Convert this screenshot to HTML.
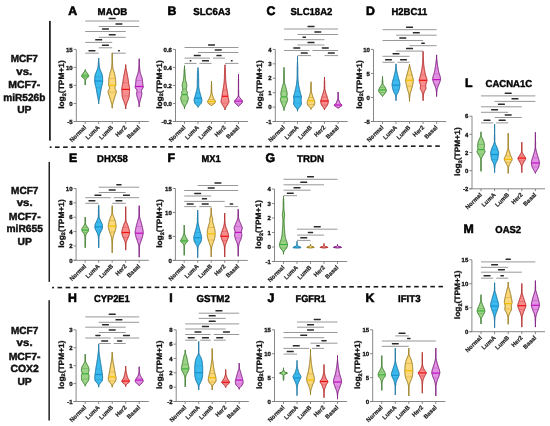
<!DOCTYPE html>
<html><head><meta charset="utf-8"><style>
html,body{margin:0;padding:0;background:#fff;width:550px;height:426px;overflow:hidden}
svg{display:block;will-change:transform}
text{font-family:"Liberation Sans", sans-serif;text-rendering:geometricPrecision}
</style></head><body>
<svg width="550" height="426" viewBox="0 0 550 426" xmlns="http://www.w3.org/2000/svg">
<rect width="550" height="426" fill="#fff"/>
<rect x="49" y="20.9" width="1.8" height="119.7" fill="#222"/><rect x="48.5" y="161.9" width="1.5" height="120" fill="#222"/><rect x="48.4" y="300.2" width="1.5" height="120.3" fill="#222"/><rect x="49.70" y="146.40" width="1.9" height="1.6" fill="#1a1a1a"/><rect x="55.00" y="146.38" width="4.6" height="1.6" fill="#1a1a1a"/><rect x="63.09" y="146.36" width="4.6" height="1.6" fill="#1a1a1a"/><rect x="71.18" y="146.33" width="4.6" height="1.6" fill="#1a1a1a"/><rect x="79.27" y="146.31" width="4.6" height="1.6" fill="#1a1a1a"/><rect x="87.36" y="146.29" width="4.6" height="1.6" fill="#1a1a1a"/><rect x="95.45" y="146.27" width="4.6" height="1.6" fill="#1a1a1a"/><rect x="103.54" y="146.24" width="4.6" height="1.6" fill="#1a1a1a"/><rect x="111.63" y="146.22" width="4.6" height="1.6" fill="#1a1a1a"/><rect x="119.72" y="146.20" width="4.6" height="1.6" fill="#1a1a1a"/><rect x="127.81" y="146.17" width="4.6" height="1.6" fill="#1a1a1a"/><rect x="135.90" y="146.15" width="4.6" height="1.6" fill="#1a1a1a"/><rect x="143.99" y="146.13" width="4.6" height="1.6" fill="#1a1a1a"/><rect x="152.08" y="146.11" width="4.6" height="1.6" fill="#1a1a1a"/><rect x="160.17" y="146.08" width="4.6" height="1.6" fill="#1a1a1a"/><rect x="168.26" y="146.06" width="4.6" height="1.6" fill="#1a1a1a"/><rect x="176.35" y="146.04" width="4.6" height="1.6" fill="#1a1a1a"/><rect x="184.44" y="146.01" width="4.6" height="1.6" fill="#1a1a1a"/><rect x="192.53" y="145.99" width="4.6" height="1.6" fill="#1a1a1a"/><rect x="200.62" y="145.97" width="4.6" height="1.6" fill="#1a1a1a"/><rect x="208.71" y="145.95" width="4.6" height="1.6" fill="#1a1a1a"/><rect x="216.80" y="145.92" width="4.6" height="1.6" fill="#1a1a1a"/><rect x="224.89" y="145.90" width="4.6" height="1.6" fill="#1a1a1a"/><rect x="232.98" y="145.88" width="4.6" height="1.6" fill="#1a1a1a"/><rect x="241.07" y="145.85" width="4.6" height="1.6" fill="#1a1a1a"/><rect x="249.16" y="145.83" width="4.6" height="1.6" fill="#1a1a1a"/><rect x="257.25" y="145.81" width="4.6" height="1.6" fill="#1a1a1a"/><rect x="265.34" y="145.79" width="4.6" height="1.6" fill="#1a1a1a"/><rect x="273.43" y="145.76" width="4.6" height="1.6" fill="#1a1a1a"/><rect x="281.52" y="145.74" width="4.6" height="1.6" fill="#1a1a1a"/><rect x="289.61" y="145.72" width="4.6" height="1.6" fill="#1a1a1a"/><rect x="297.70" y="145.69" width="4.6" height="1.6" fill="#1a1a1a"/><rect x="305.79" y="145.67" width="4.6" height="1.6" fill="#1a1a1a"/><rect x="313.88" y="145.65" width="4.6" height="1.6" fill="#1a1a1a"/><rect x="321.97" y="145.63" width="4.6" height="1.6" fill="#1a1a1a"/><rect x="330.06" y="145.60" width="4.6" height="1.6" fill="#1a1a1a"/><rect x="338.15" y="145.58" width="4.6" height="1.6" fill="#1a1a1a"/><rect x="346.24" y="145.56" width="4.6" height="1.6" fill="#1a1a1a"/><rect x="354.33" y="145.54" width="4.6" height="1.6" fill="#1a1a1a"/><rect x="362.42" y="145.51" width="4.6" height="1.6" fill="#1a1a1a"/><rect x="370.51" y="145.49" width="4.6" height="1.6" fill="#1a1a1a"/><rect x="378.60" y="145.47" width="4.6" height="1.6" fill="#1a1a1a"/><rect x="386.69" y="145.44" width="4.6" height="1.6" fill="#1a1a1a"/><rect x="394.78" y="145.42" width="4.6" height="1.6" fill="#1a1a1a"/><rect x="402.87" y="145.40" width="4.6" height="1.6" fill="#1a1a1a"/><rect x="410.96" y="145.38" width="4.6" height="1.6" fill="#1a1a1a"/><rect x="419.05" y="145.35" width="4.6" height="1.6" fill="#1a1a1a"/><rect x="427.14" y="145.33" width="4.6" height="1.6" fill="#1a1a1a"/><rect x="435.23" y="145.31" width="4.6" height="1.6" fill="#1a1a1a"/><rect x="52.10" y="286.79" width="1.9" height="1.6" fill="#1a1a1a"/><rect x="57.50" y="286.77" width="4.6" height="1.6" fill="#1a1a1a"/><rect x="65.61" y="286.75" width="4.6" height="1.6" fill="#1a1a1a"/><rect x="73.71" y="286.73" width="4.6" height="1.6" fill="#1a1a1a"/><rect x="81.81" y="286.71" width="4.6" height="1.6" fill="#1a1a1a"/><rect x="89.92" y="286.69" width="4.6" height="1.6" fill="#1a1a1a"/><rect x="98.03" y="286.67" width="4.6" height="1.6" fill="#1a1a1a"/><rect x="106.13" y="286.65" width="4.6" height="1.6" fill="#1a1a1a"/><rect x="114.23" y="286.63" width="4.6" height="1.6" fill="#1a1a1a"/><rect x="122.34" y="286.61" width="4.6" height="1.6" fill="#1a1a1a"/><rect x="130.44" y="286.59" width="4.6" height="1.6" fill="#1a1a1a"/><rect x="138.55" y="286.57" width="4.6" height="1.6" fill="#1a1a1a"/><rect x="146.66" y="286.55" width="4.6" height="1.6" fill="#1a1a1a"/><rect x="154.76" y="286.53" width="4.6" height="1.6" fill="#1a1a1a"/><rect x="162.87" y="286.50" width="4.6" height="1.6" fill="#1a1a1a"/><rect x="170.97" y="286.48" width="4.6" height="1.6" fill="#1a1a1a"/><rect x="179.07" y="286.46" width="4.6" height="1.6" fill="#1a1a1a"/><rect x="187.18" y="286.44" width="4.6" height="1.6" fill="#1a1a1a"/><rect x="195.28" y="286.42" width="4.6" height="1.6" fill="#1a1a1a"/><rect x="203.39" y="286.40" width="4.6" height="1.6" fill="#1a1a1a"/><rect x="211.50" y="286.38" width="4.6" height="1.6" fill="#1a1a1a"/><rect x="219.60" y="286.36" width="4.6" height="1.6" fill="#1a1a1a"/><rect x="227.71" y="286.34" width="4.6" height="1.6" fill="#1a1a1a"/><rect x="235.81" y="286.32" width="4.6" height="1.6" fill="#1a1a1a"/><rect x="243.92" y="286.30" width="4.6" height="1.6" fill="#1a1a1a"/><rect x="252.02" y="286.28" width="4.6" height="1.6" fill="#1a1a1a"/><rect x="260.12" y="286.26" width="4.6" height="1.6" fill="#1a1a1a"/><rect x="268.23" y="286.23" width="4.6" height="1.6" fill="#1a1a1a"/><rect x="276.34" y="286.21" width="4.6" height="1.6" fill="#1a1a1a"/><rect x="284.44" y="286.19" width="4.6" height="1.6" fill="#1a1a1a"/><rect x="292.55" y="286.17" width="4.6" height="1.6" fill="#1a1a1a"/><rect x="300.65" y="286.15" width="4.6" height="1.6" fill="#1a1a1a"/><rect x="308.75" y="286.13" width="4.6" height="1.6" fill="#1a1a1a"/><rect x="316.86" y="286.11" width="4.6" height="1.6" fill="#1a1a1a"/><rect x="324.97" y="286.09" width="4.6" height="1.6" fill="#1a1a1a"/><rect x="333.07" y="286.07" width="4.6" height="1.6" fill="#1a1a1a"/><rect x="341.18" y="286.05" width="4.6" height="1.6" fill="#1a1a1a"/><rect x="349.28" y="286.03" width="4.6" height="1.6" fill="#1a1a1a"/><rect x="357.38" y="286.01" width="4.6" height="1.6" fill="#1a1a1a"/><rect x="365.49" y="285.99" width="4.6" height="1.6" fill="#1a1a1a"/><rect x="373.60" y="285.96" width="4.6" height="1.6" fill="#1a1a1a"/><rect x="381.70" y="285.94" width="4.6" height="1.6" fill="#1a1a1a"/><rect x="389.81" y="285.92" width="4.6" height="1.6" fill="#1a1a1a"/><rect x="397.91" y="285.90" width="4.6" height="1.6" fill="#1a1a1a"/><rect x="406.02" y="285.88" width="4.6" height="1.6" fill="#1a1a1a"/><rect x="414.12" y="285.86" width="4.6" height="1.6" fill="#1a1a1a"/><rect x="422.23" y="285.84" width="4.6" height="1.6" fill="#1a1a1a"/><rect x="430.33" y="285.82" width="4.6" height="1.6" fill="#1a1a1a"/><rect x="438.44" y="285.80" width="4.6" height="1.6" fill="#1a1a1a"/><text x="24.3" y="62.3" font-size="10.3" font-weight="bold" text-anchor="middle" fill="#111" stroke="#111" stroke-width="0.45" textLength="27.2" lengthAdjust="spacingAndGlyphs">MCF7</text><text x="24.3" y="75" font-size="10.3" font-weight="bold" text-anchor="middle" fill="#111" stroke="#111" stroke-width="0.45" textLength="16.0" lengthAdjust="spacingAndGlyphs">vs.</text><text x="24.3" y="87.9" font-size="10.3" font-weight="bold" text-anchor="middle" fill="#111" stroke="#111" stroke-width="0.45" textLength="31.9" lengthAdjust="spacingAndGlyphs">MCF7-</text><text x="24.3" y="100.6" font-size="10.3" font-weight="bold" text-anchor="middle" fill="#111" stroke="#111" stroke-width="0.45" textLength="42.1" lengthAdjust="spacingAndGlyphs">miR526b</text><text x="24.3" y="113" font-size="10.3" font-weight="bold" text-anchor="middle" fill="#111" stroke="#111" stroke-width="0.45" textLength="14.3" lengthAdjust="spacingAndGlyphs">UP</text><text x="24.7" y="193.7" font-size="10.3" font-weight="bold" text-anchor="middle" fill="#111" stroke="#111" stroke-width="0.45" textLength="27.2" lengthAdjust="spacingAndGlyphs">MCF7</text><text x="24.7" y="206.3" font-size="10.3" font-weight="bold" text-anchor="middle" fill="#111" stroke="#111" stroke-width="0.45" textLength="16.0" lengthAdjust="spacingAndGlyphs">vs.</text><text x="24.7" y="219.5" font-size="10.3" font-weight="bold" text-anchor="middle" fill="#111" stroke="#111" stroke-width="0.45" textLength="31.9" lengthAdjust="spacingAndGlyphs">MCF7-</text><text x="24.7" y="232" font-size="10.3" font-weight="bold" text-anchor="middle" fill="#111" stroke="#111" stroke-width="0.45" textLength="36.5" lengthAdjust="spacingAndGlyphs">miR655</text><text x="24.7" y="244.5" font-size="10.3" font-weight="bold" text-anchor="middle" fill="#111" stroke="#111" stroke-width="0.45" textLength="14.3" lengthAdjust="spacingAndGlyphs">UP</text><text x="24.6" y="333.7" font-size="10.3" font-weight="bold" text-anchor="middle" fill="#111" stroke="#111" stroke-width="0.45" textLength="27.2" lengthAdjust="spacingAndGlyphs">MCF7</text><text x="24.6" y="346.3" font-size="10.3" font-weight="bold" text-anchor="middle" fill="#111" stroke="#111" stroke-width="0.45" textLength="16.0" lengthAdjust="spacingAndGlyphs">vs.</text><text x="24.6" y="359.5" font-size="10.3" font-weight="bold" text-anchor="middle" fill="#111" stroke="#111" stroke-width="0.45" textLength="31.9" lengthAdjust="spacingAndGlyphs">MCF7-</text><text x="24.6" y="372.1" font-size="10.3" font-weight="bold" text-anchor="middle" fill="#111" stroke="#111" stroke-width="0.45" textLength="28.3" lengthAdjust="spacingAndGlyphs">COX2</text><text x="24.6" y="384.5" font-size="10.3" font-weight="bold" text-anchor="middle" fill="#111" stroke="#111" stroke-width="0.45" textLength="14.3" lengthAdjust="spacingAndGlyphs">UP</text>
<text x="68.2" y="14.5" font-size="12.3" font-weight="bold" stroke="#000" stroke-width="0.6">A</text><text x="112.40" y="14.7" font-size="10" font-weight="bold" text-anchor="middle" stroke="#000" stroke-width="0.4" textLength="29.60" lengthAdjust="spacingAndGlyphs">MAOB</text><line x1="76.3" y1="49.4" x2="76.3" y2="121.5" stroke="#7a7a7a" stroke-width="0.9"/><line x1="73.7" y1="121.5" x2="148.8" y2="121.5" stroke="#7a7a7a" stroke-width="0.9"/><line x1="73.7" y1="49.40" x2="76.3" y2="49.40" stroke="#7a7a7a" stroke-width="0.9"/><text x="72.70" y="51.60" font-size="6.0" font-weight="bold" text-anchor="end" fill="#111" stroke="#111" stroke-width="0.3">15</text><line x1="73.7" y1="67.42" x2="76.3" y2="67.42" stroke="#7a7a7a" stroke-width="0.9"/><text x="72.70" y="69.62" font-size="6.0" font-weight="bold" text-anchor="end" fill="#111" stroke="#111" stroke-width="0.3">10</text><line x1="73.7" y1="85.45" x2="76.3" y2="85.45" stroke="#7a7a7a" stroke-width="0.9"/><text x="72.70" y="87.65" font-size="6.0" font-weight="bold" text-anchor="end" fill="#111" stroke="#111" stroke-width="0.3">5</text><line x1="73.7" y1="103.47" x2="76.3" y2="103.47" stroke="#7a7a7a" stroke-width="0.9"/><text x="72.70" y="105.67" font-size="6.0" font-weight="bold" text-anchor="end" fill="#111" stroke="#111" stroke-width="0.3">0</text><line x1="73.7" y1="121.50" x2="76.3" y2="121.50" stroke="#7a7a7a" stroke-width="0.9"/><text x="72.70" y="123.70" font-size="6.0" font-weight="bold" text-anchor="end" fill="#111" stroke="#111" stroke-width="0.3">-5</text><line x1="85.2" y1="121.5" x2="85.2" y2="123.9" stroke="#7a7a7a" stroke-width="0.9"/><line x1="98.7" y1="121.5" x2="98.7" y2="123.9" stroke="#7a7a7a" stroke-width="0.9"/><line x1="112.2" y1="121.5" x2="112.2" y2="123.9" stroke="#7a7a7a" stroke-width="0.9"/><line x1="125.7" y1="121.5" x2="125.7" y2="123.9" stroke="#7a7a7a" stroke-width="0.9"/><line x1="139.2" y1="121.5" x2="139.2" y2="123.9" stroke="#7a7a7a" stroke-width="0.9"/><text transform="translate(86.60,127.90) rotate(-45)" font-size="6.0" font-weight="bold" text-anchor="end" fill="#222" stroke="#222" stroke-width="0.2">Normal</text><text transform="translate(100.10,127.90) rotate(-45)" font-size="6.0" font-weight="bold" text-anchor="end" fill="#222" stroke="#222" stroke-width="0.2">LumA</text><text transform="translate(113.60,127.90) rotate(-45)" font-size="6.0" font-weight="bold" text-anchor="end" fill="#222" stroke="#222" stroke-width="0.2">LumB</text><text transform="translate(127.10,127.90) rotate(-45)" font-size="6.0" font-weight="bold" text-anchor="end" fill="#222" stroke="#222" stroke-width="0.2">Her2</text><text transform="translate(140.60,127.90) rotate(-45)" font-size="6.0" font-weight="bold" text-anchor="end" fill="#222" stroke="#222" stroke-width="0.2">Basal</text><text transform="translate(64.40,84.55) rotate(-90)" font-size="7.8" font-weight="bold" text-anchor="middle" fill="#111" stroke="#111" stroke-width="0.3" textLength="48.6" lengthAdjust="spacingAndGlyphs">log<tspan font-size="5.2" dy="1.6">2</tspan><tspan dy="-1.6">(TPM+1)</tspan></text><line x1="85.2" y1="21" x2="139.2" y2="21" stroke="#8c8c8c" stroke-width="0.9"/><rect x="108.65" y="17.70" width="7.10" height="1.5" fill="#2a2a2a" rx="0.4"/><line x1="98.7" y1="26.5" x2="139.2" y2="26.5" stroke="#8c8c8c" stroke-width="0.9"/><rect x="115.40" y="23.20" width="7.10" height="1.5" fill="#2a2a2a" rx="0.4"/><line x1="85.2" y1="31.5" x2="125.7" y2="31.5" stroke="#8c8c8c" stroke-width="0.9"/><rect x="101.90" y="28.20" width="7.10" height="1.5" fill="#2a2a2a" rx="0.4"/><line x1="98.7" y1="37.3" x2="125.7" y2="37.3" stroke="#8c8c8c" stroke-width="0.9"/><rect x="108.65" y="34.00" width="7.10" height="1.5" fill="#2a2a2a" rx="0.4"/><line x1="85.2" y1="42.4" x2="112.2" y2="42.4" stroke="#8c8c8c" stroke-width="0.9"/><rect x="95.15" y="39.10" width="7.10" height="1.5" fill="#2a2a2a" rx="0.4"/><line x1="98.7" y1="47.8" x2="112.2" y2="47.8" stroke="#8c8c8c" stroke-width="0.9"/><rect x="101.90" y="44.50" width="7.10" height="1.5" fill="#2a2a2a" rx="0.4"/><line x1="85.2" y1="53.2" x2="98.7" y2="53.2" stroke="#8c8c8c" stroke-width="0.9"/><rect x="88.40" y="49.90" width="7.10" height="1.5" fill="#2a2a2a" rx="0.4"/><line x1="112.2" y1="53.2" x2="125.7" y2="53.2" stroke="#8c8c8c" stroke-width="0.9"/><rect x="118.03" y="49.90" width="1.85" height="1.5" fill="#2a2a2a" rx="0.4"/><polygon points="85.2,69.6 85.2,70.1 85.4,70.6 85.7,71.1 86.0,71.6 86.4,72.1 86.8,72.6 87.2,73.1 87.5,73.6 87.9,74.1 88.2,74.6 88.5,75.1 88.7,75.6 88.7,76.1 88.5,76.6 88.1,77.1 87.7,77.6 87.2,78.1 86.6,78.6 85.9,79.1 85.6,79.6 85.5,80.1 85.4,80.6 85.4,81.1 85.4,81.6 85.4,82.1 85.4,82.6 85.4,83.1 85.4,83.6 85.4,84.1 85.4,84.6 85.2,85.0 85.2,85.0 85.0,84.6 85.0,84.1 85.0,83.6 85.0,83.1 85.0,82.6 85.0,82.1 85.0,81.6 85.0,81.1 85.0,80.6 84.9,80.1 84.8,79.6 84.5,79.1 83.8,78.6 83.2,78.1 82.7,77.6 82.3,77.1 81.9,76.6 81.7,76.1 81.7,75.6 81.9,75.1 82.2,74.6 82.5,74.1 82.9,73.6 83.2,73.1 83.6,72.6 84.0,72.1 84.4,71.6 84.7,71.1 85.0,70.6 85.2,70.1 85.2,69.6" fill="#9bd487" stroke="#3a7a2c" stroke-width="1.0" stroke-linejoin="round"/><line x1="82.29" y1="74.50" x2="88.11" y2="74.50" stroke="#5f9f4d" stroke-width="0.5" opacity="0.8"/><line x1="82.65" y1="77.50" x2="87.75" y2="77.50" stroke="#5f9f4d" stroke-width="0.5" opacity="0.8"/><line x1="81.72" y1="76.00" x2="88.68" y2="76.00" stroke="#3db03a" stroke-width="1.2"/><polygon points="98.7,58.0 98.7,58.5 98.7,59.0 98.7,59.5 98.7,60.0 98.7,60.5 98.8,61.0 98.8,61.5 98.9,62.0 99.0,62.5 99.0,63.0 99.1,63.5 99.1,64.0 99.1,64.5 99.2,65.0 99.2,65.5 99.3,66.0 99.4,66.5 99.4,67.0 99.5,67.5 99.6,68.0 99.7,68.5 99.9,69.0 100.1,69.5 100.3,70.0 100.5,70.5 100.7,71.0 100.9,71.5 101.1,72.0 101.3,72.5 101.5,73.0 101.7,73.5 101.9,74.0 102.1,74.5 102.3,75.0 102.4,75.5 102.5,76.0 102.5,76.5 102.6,77.0 102.6,77.5 102.6,78.0 102.6,78.5 102.7,79.0 102.7,79.5 102.7,80.0 102.7,80.5 102.7,81.0 102.7,81.5 102.7,82.0 102.6,82.5 102.5,83.0 102.4,83.5 102.3,84.0 102.2,84.5 102.1,85.0 101.9,85.5 101.8,86.0 101.7,86.5 101.5,87.0 101.4,87.5 101.3,88.0 101.2,88.5 101.1,89.0 101.0,89.5 100.9,90.0 100.9,90.5 100.8,91.0 100.7,91.5 100.6,92.0 100.5,92.5 100.4,93.0 100.3,93.5 100.3,94.0 100.2,94.5 100.1,95.0 100.0,95.5 99.9,96.0 99.8,96.5 99.7,97.0 99.6,97.5 99.5,98.0 99.4,98.5 99.3,99.0 99.2,99.5 99.1,100.0 99.0,100.5 98.9,101.0 98.8,101.5 98.7,102.0 98.7,102.5 98.7,103.0 98.7,103.5 98.7,103.8 98.7,103.8 98.7,103.5 98.7,103.0 98.7,102.5 98.7,102.0 98.6,101.5 98.5,101.0 98.4,100.5 98.3,100.0 98.2,99.5 98.1,99.0 98.0,98.5 97.9,98.0 97.8,97.5 97.7,97.0 97.6,96.5 97.5,96.0 97.4,95.5 97.3,95.0 97.2,94.5 97.1,94.0 97.1,93.5 97.0,93.0 96.9,92.5 96.8,92.0 96.7,91.5 96.6,91.0 96.5,90.5 96.5,90.0 96.4,89.5 96.3,89.0 96.2,88.5 96.1,88.0 96.0,87.5 95.9,87.0 95.7,86.5 95.6,86.0 95.5,85.5 95.3,85.0 95.2,84.5 95.1,84.0 95.0,83.5 94.9,83.0 94.8,82.5 94.7,82.0 94.7,81.5 94.7,81.0 94.7,80.5 94.7,80.0 94.7,79.5 94.7,79.0 94.8,78.5 94.8,78.0 94.8,77.5 94.8,77.0 94.9,76.5 94.9,76.0 95.0,75.5 95.1,75.0 95.3,74.5 95.5,74.0 95.7,73.5 95.9,73.0 96.1,72.5 96.3,72.0 96.5,71.5 96.7,71.0 96.9,70.5 97.1,70.0 97.3,69.5 97.5,69.0 97.7,68.5 97.8,68.0 97.9,67.5 98.0,67.0 98.0,66.5 98.1,66.0 98.2,65.5 98.2,65.0 98.3,64.5 98.3,64.0 98.3,63.5 98.4,63.0 98.4,62.5 98.5,62.0 98.6,61.5 98.6,61.0 98.7,60.5 98.7,60.0 98.7,59.5 98.7,59.0 98.7,58.5 98.7,58.0" fill="#3bbaee" stroke="#15729f" stroke-width="1.0" stroke-linejoin="round"/><line x1="94.85" y1="76.90" x2="102.55" y2="76.90" stroke="#2a8fc5" stroke-width="0.5" opacity="0.8"/><line x1="96.06" y1="87.80" x2="101.34" y2="87.80" stroke="#2a8fc5" stroke-width="0.5" opacity="0.8"/><line x1="94.70" y1="81.00" x2="102.70" y2="81.00" stroke="#1a8fd0" stroke-width="1.2"/><polygon points="112.2,52.9 112.2,53.4 112.2,53.9 112.2,54.4 112.2,54.9 112.2,55.4 112.2,55.9 112.2,56.4 112.2,56.9 112.2,57.4 112.2,57.9 112.2,58.4 112.2,58.9 112.3,59.4 112.3,59.9 112.3,60.4 112.4,60.9 112.4,61.4 112.4,61.9 112.4,62.4 112.5,62.9 112.5,63.4 112.5,63.9 112.6,64.4 112.6,64.9 112.6,65.4 112.7,65.9 112.7,66.4 112.7,66.9 112.8,67.4 112.9,67.9 112.9,68.4 113.1,68.9 113.2,69.4 113.3,69.9 113.5,70.4 113.7,70.9 113.8,71.4 114.0,71.9 114.2,72.4 114.3,72.9 114.5,73.4 114.6,73.9 114.7,74.4 114.8,74.9 114.9,75.4 115.0,75.9 115.1,76.4 115.2,76.9 115.3,77.4 115.4,77.9 115.4,78.4 115.5,78.9 115.6,79.4 115.6,79.9 115.6,80.4 115.7,80.9 115.7,81.4 115.7,81.9 115.7,82.4 115.8,82.9 115.8,83.4 115.8,83.9 115.8,84.4 115.8,84.9 115.7,85.4 115.6,85.9 115.3,86.4 115.0,86.9 114.9,87.4 114.8,87.9 114.9,88.4 115.1,88.9 115.4,89.4 115.7,89.9 116.0,90.4 116.2,90.9 116.3,91.4 116.3,91.9 116.2,92.4 116.1,92.9 116.0,93.4 115.9,93.9 115.7,94.4 115.5,94.9 115.3,95.4 115.2,95.9 115.0,96.4 114.8,96.9 114.7,97.4 114.5,97.9 114.4,98.4 114.2,98.9 114.1,99.4 113.9,99.9 113.8,100.4 113.6,100.9 113.5,101.4 113.3,101.9 113.2,102.4 113.0,102.9 112.9,103.4 112.7,103.9 112.6,104.4 112.4,104.9 112.3,105.4 112.2,105.9 112.2,106.4 112.2,106.9 112.2,107.4 112.2,107.9 112.2,108.2 112.2,108.2 112.2,107.9 112.2,107.4 112.2,106.9 112.2,106.4 112.2,105.9 112.1,105.4 112.0,104.9 111.8,104.4 111.7,103.9 111.5,103.4 111.4,102.9 111.2,102.4 111.1,101.9 110.9,101.4 110.8,100.9 110.6,100.4 110.5,99.9 110.3,99.4 110.2,98.9 110.0,98.4 109.9,97.9 109.7,97.4 109.6,96.9 109.4,96.4 109.2,95.9 109.1,95.4 108.9,94.9 108.7,94.4 108.5,93.9 108.4,93.4 108.3,92.9 108.2,92.4 108.1,91.9 108.1,91.4 108.2,90.9 108.4,90.4 108.7,89.9 109.0,89.4 109.3,88.9 109.5,88.4 109.6,87.9 109.5,87.4 109.4,86.9 109.1,86.4 108.8,85.9 108.7,85.4 108.6,84.9 108.6,84.4 108.6,83.9 108.6,83.4 108.6,82.9 108.7,82.4 108.7,81.9 108.7,81.4 108.7,80.9 108.8,80.4 108.8,79.9 108.8,79.4 108.9,78.9 109.0,78.4 109.0,77.9 109.1,77.4 109.2,76.9 109.3,76.4 109.4,75.9 109.5,75.4 109.6,74.9 109.7,74.4 109.8,73.9 109.9,73.4 110.1,72.9 110.2,72.4 110.4,71.9 110.6,71.4 110.7,70.9 110.9,70.4 111.1,69.9 111.2,69.4 111.3,68.9 111.5,68.4 111.5,67.9 111.6,67.4 111.7,66.9 111.7,66.4 111.7,65.9 111.8,65.4 111.8,64.9 111.8,64.4 111.9,63.9 111.9,63.4 111.9,62.9 112.0,62.4 112.0,61.9 112.0,61.4 112.0,60.9 112.1,60.4 112.1,59.9 112.1,59.4 112.2,58.9 112.2,58.4 112.2,57.9 112.2,57.4 112.2,56.9 112.2,56.4 112.2,55.9 112.2,55.4 112.2,54.9 112.2,54.4 112.2,53.9 112.2,53.4 112.2,52.9" fill="#fbd97b" stroke="#967818" stroke-width="1.0" stroke-linejoin="round"/><line x1="108.96" y1="78.40" x2="115.44" y2="78.40" stroke="#c09030" stroke-width="0.5" opacity="0.8"/><line x1="108.15" y1="92.20" x2="116.25" y2="92.20" stroke="#c09030" stroke-width="0.5" opacity="0.8"/><line x1="108.64" y1="85.30" x2="115.76" y2="85.30" stroke="#f5bd00" stroke-width="1.2"/><polygon points="125.7,64.6 125.7,65.1 125.7,65.6 125.7,66.1 125.7,66.6 125.8,67.1 125.9,67.6 126.0,68.1 126.1,68.6 126.2,69.1 126.3,69.6 126.4,70.1 126.5,70.6 126.6,71.1 126.7,71.6 126.8,72.1 126.9,72.6 127.0,73.1 127.1,73.6 127.2,74.1 127.3,74.6 127.4,75.1 127.5,75.6 127.6,76.1 127.7,76.6 127.7,77.1 127.8,77.6 127.9,78.1 128.0,78.6 128.1,79.1 128.2,79.6 128.2,80.1 128.3,80.6 128.4,81.1 128.5,81.6 128.5,82.1 128.6,82.6 128.7,83.1 128.7,83.6 128.8,84.1 128.9,84.6 129.0,85.1 129.1,85.6 129.2,86.1 129.3,86.6 129.4,87.1 129.5,87.6 129.5,88.1 129.6,88.6 129.6,89.1 129.6,89.6 129.6,90.1 129.6,90.6 129.6,91.1 129.5,91.6 129.5,92.1 129.5,92.6 129.5,93.1 129.4,93.6 129.4,94.1 129.3,94.6 129.3,95.1 129.2,95.6 129.2,96.1 129.1,96.6 129.0,97.1 128.9,97.6 128.8,98.1 128.6,98.6 128.5,99.1 128.3,99.6 128.1,100.1 127.9,100.6 127.6,101.1 127.4,101.6 127.3,102.1 127.1,102.6 126.9,103.1 126.7,103.6 126.6,104.1 126.4,104.6 126.3,105.1 126.1,105.6 126.0,106.1 125.9,106.6 125.8,107.1 125.7,107.6 125.7,108.1 125.7,108.6 125.7,109.0 125.7,109.0 125.7,108.6 125.7,108.1 125.7,107.6 125.6,107.1 125.5,106.6 125.4,106.1 125.3,105.6 125.1,105.1 125.0,104.6 124.8,104.1 124.7,103.6 124.5,103.1 124.3,102.6 124.1,102.1 124.0,101.6 123.8,101.1 123.5,100.6 123.3,100.1 123.1,99.6 122.9,99.1 122.8,98.6 122.6,98.1 122.5,97.6 122.4,97.1 122.3,96.6 122.2,96.1 122.2,95.6 122.1,95.1 122.1,94.6 122.0,94.1 122.0,93.6 121.9,93.1 121.9,92.6 121.9,92.1 121.9,91.6 121.8,91.1 121.8,90.6 121.8,90.1 121.8,89.6 121.8,89.1 121.8,88.6 121.9,88.1 121.9,87.6 122.0,87.1 122.1,86.6 122.2,86.1 122.3,85.6 122.4,85.1 122.5,84.6 122.6,84.1 122.7,83.6 122.7,83.1 122.8,82.6 122.9,82.1 122.9,81.6 123.0,81.1 123.1,80.6 123.2,80.1 123.2,79.6 123.3,79.1 123.4,78.6 123.5,78.1 123.6,77.6 123.7,77.1 123.7,76.6 123.8,76.1 123.9,75.6 124.0,75.1 124.1,74.6 124.2,74.1 124.3,73.6 124.4,73.1 124.5,72.6 124.6,72.1 124.7,71.6 124.8,71.1 124.9,70.6 125.0,70.1 125.1,69.6 125.2,69.1 125.3,68.6 125.4,68.1 125.5,67.6 125.6,67.1 125.7,66.6 125.7,66.1 125.7,65.6 125.7,65.1 125.7,64.6" fill="#f78d8d" stroke="#b02626" stroke-width="1.0" stroke-linejoin="round"/><line x1="122.77" y1="82.80" x2="128.63" y2="82.80" stroke="#d04c4c" stroke-width="0.5" opacity="0.8"/><line x1="122.22" y1="96.00" x2="129.18" y2="96.00" stroke="#d04c4c" stroke-width="0.5" opacity="0.8"/><line x1="121.80" y1="89.40" x2="129.60" y2="89.40" stroke="#f01010" stroke-width="1.2"/><polygon points="139.2,58.7 139.2,59.2 139.2,59.7 139.2,60.2 139.2,60.7 139.2,61.2 139.2,61.7 139.2,62.2 139.2,62.7 139.2,63.2 139.3,63.7 139.3,64.2 139.4,64.7 139.4,65.2 139.5,65.7 139.5,66.2 139.6,66.7 139.6,67.2 139.6,67.7 139.7,68.2 139.7,68.7 139.8,69.2 139.8,69.7 139.9,70.2 139.9,70.7 140.0,71.2 140.1,71.7 140.2,72.2 140.3,72.7 140.4,73.2 140.5,73.7 140.7,74.2 140.9,74.7 141.1,75.2 141.3,75.7 141.4,76.2 141.6,76.7 141.8,77.2 142.0,77.7 142.1,78.2 142.2,78.7 142.3,79.2 142.4,79.7 142.4,80.2 142.5,80.7 142.5,81.2 142.6,81.7 142.6,82.2 142.7,82.7 142.7,83.2 142.8,83.7 142.8,84.2 142.9,84.7 143.0,85.2 143.1,85.7 143.1,86.2 143.2,86.7 143.2,87.2 143.1,87.7 142.9,88.2 142.5,88.7 142.2,89.2 141.8,89.7 141.5,90.2 141.4,90.7 141.4,91.2 141.5,91.7 141.6,92.2 141.7,92.7 141.8,93.2 141.8,93.7 141.8,94.2 141.7,94.7 141.6,95.2 141.5,95.7 141.4,96.2 141.3,96.7 141.1,97.2 141.0,97.7 140.8,98.2 140.7,98.7 140.5,99.2 140.4,99.7 140.3,100.2 140.1,100.7 140.0,101.2 139.9,101.7 139.8,102.2 139.7,102.7 139.6,103.2 139.5,103.7 139.4,104.2 139.3,104.7 139.2,105.2 139.2,105.7 139.2,106.2 139.2,106.7 139.2,106.9 139.2,106.9 139.2,106.7 139.2,106.2 139.2,105.7 139.2,105.2 139.1,104.7 139.0,104.2 138.9,103.7 138.8,103.2 138.7,102.7 138.6,102.2 138.5,101.7 138.4,101.2 138.3,100.7 138.1,100.2 138.0,99.7 137.9,99.2 137.7,98.7 137.6,98.2 137.4,97.7 137.3,97.2 137.1,96.7 137.0,96.2 136.9,95.7 136.8,95.2 136.7,94.7 136.6,94.2 136.6,93.7 136.6,93.2 136.7,92.7 136.8,92.2 136.9,91.7 137.0,91.2 137.0,90.7 136.9,90.2 136.6,89.7 136.2,89.2 135.9,88.7 135.5,88.2 135.3,87.7 135.2,87.2 135.2,86.7 135.3,86.2 135.3,85.7 135.4,85.2 135.5,84.7 135.6,84.2 135.6,83.7 135.7,83.2 135.7,82.7 135.8,82.2 135.8,81.7 135.9,81.2 135.9,80.7 136.0,80.2 136.0,79.7 136.1,79.2 136.2,78.7 136.3,78.2 136.4,77.7 136.6,77.2 136.8,76.7 137.0,76.2 137.1,75.7 137.3,75.2 137.5,74.7 137.7,74.2 137.9,73.7 138.0,73.2 138.1,72.7 138.2,72.2 138.3,71.7 138.4,71.2 138.5,70.7 138.5,70.2 138.6,69.7 138.6,69.2 138.7,68.7 138.7,68.2 138.8,67.7 138.8,67.2 138.8,66.7 138.9,66.2 138.9,65.7 139.0,65.2 139.0,64.7 139.1,64.2 139.1,63.7 139.2,63.2 139.2,62.7 139.2,62.2 139.2,61.7 139.2,61.2 139.2,60.7 139.2,60.2 139.2,59.7 139.2,59.2 139.2,58.7" fill="#e190e3" stroke="#7a177b" stroke-width="1.0" stroke-linejoin="round"/><line x1="135.94" y1="80.50" x2="142.46" y2="80.50" stroke="#b050b2" stroke-width="0.5" opacity="0.8"/><line x1="136.75" y1="92.50" x2="141.65" y2="92.50" stroke="#b050b2" stroke-width="0.5" opacity="0.8"/><line x1="135.24" y1="86.50" x2="143.16" y2="86.50" stroke="#c010c0" stroke-width="1.2"/><text x="167.4" y="14.5" font-size="12.3" font-weight="bold" stroke="#000" stroke-width="0.6">B</text><text x="211.80" y="14.6" font-size="10" font-weight="bold" text-anchor="middle" stroke="#000" stroke-width="0.4" textLength="37.00" lengthAdjust="spacingAndGlyphs">SLC6A3</text><line x1="175.5" y1="49.4" x2="175.5" y2="121.5" stroke="#7a7a7a" stroke-width="0.9"/><line x1="172.9" y1="121.5" x2="248.1" y2="121.5" stroke="#7a7a7a" stroke-width="0.9"/><line x1="172.9" y1="49.40" x2="175.5" y2="49.40" stroke="#7a7a7a" stroke-width="0.9"/><text x="171.90" y="51.60" font-size="6.0" font-weight="bold" text-anchor="end" fill="#111" stroke="#111" stroke-width="0.3">0.6</text><line x1="172.9" y1="67.42" x2="175.5" y2="67.42" stroke="#7a7a7a" stroke-width="0.9"/><text x="171.90" y="69.62" font-size="6.0" font-weight="bold" text-anchor="end" fill="#111" stroke="#111" stroke-width="0.3">0.4</text><line x1="172.9" y1="85.45" x2="175.5" y2="85.45" stroke="#7a7a7a" stroke-width="0.9"/><text x="171.90" y="87.65" font-size="6.0" font-weight="bold" text-anchor="end" fill="#111" stroke="#111" stroke-width="0.3">0.2</text><line x1="172.9" y1="103.47" x2="175.5" y2="103.47" stroke="#7a7a7a" stroke-width="0.9"/><text x="171.90" y="105.67" font-size="6.0" font-weight="bold" text-anchor="end" fill="#111" stroke="#111" stroke-width="0.3">0.0</text><line x1="172.9" y1="121.50" x2="175.5" y2="121.50" stroke="#7a7a7a" stroke-width="0.9"/><text x="171.90" y="123.70" font-size="6.0" font-weight="bold" text-anchor="end" fill="#111" stroke="#111" stroke-width="0.3">-0.2</text><line x1="184.5" y1="121.5" x2="184.5" y2="123.9" stroke="#7a7a7a" stroke-width="0.9"/><line x1="198" y1="121.5" x2="198" y2="123.9" stroke="#7a7a7a" stroke-width="0.9"/><line x1="211.5" y1="121.5" x2="211.5" y2="123.9" stroke="#7a7a7a" stroke-width="0.9"/><line x1="225" y1="121.5" x2="225" y2="123.9" stroke="#7a7a7a" stroke-width="0.9"/><line x1="238.5" y1="121.5" x2="238.5" y2="123.9" stroke="#7a7a7a" stroke-width="0.9"/><text transform="translate(185.90,127.90) rotate(-45)" font-size="6.0" font-weight="bold" text-anchor="end" fill="#222" stroke="#222" stroke-width="0.2">Normal</text><text transform="translate(199.40,127.90) rotate(-45)" font-size="6.0" font-weight="bold" text-anchor="end" fill="#222" stroke="#222" stroke-width="0.2">LumA</text><text transform="translate(212.90,127.90) rotate(-45)" font-size="6.0" font-weight="bold" text-anchor="end" fill="#222" stroke="#222" stroke-width="0.2">LumB</text><text transform="translate(226.40,127.90) rotate(-45)" font-size="6.0" font-weight="bold" text-anchor="end" fill="#222" stroke="#222" stroke-width="0.2">Her2</text><text transform="translate(239.90,127.90) rotate(-45)" font-size="6.0" font-weight="bold" text-anchor="end" fill="#222" stroke="#222" stroke-width="0.2">Basal</text><text transform="translate(161.50,84.55) rotate(-90)" font-size="7.8" font-weight="bold" text-anchor="middle" fill="#111" stroke="#111" stroke-width="0.3" textLength="48.6" lengthAdjust="spacingAndGlyphs">log<tspan font-size="5.2" dy="1.6">2</tspan><tspan dy="-1.6">(TPM+1)</tspan></text><line x1="184.5" y1="47.5" x2="238.5" y2="47.5" stroke="#8c8c8c" stroke-width="0.9"/><rect x="207.95" y="44.20" width="7.10" height="1.5" fill="#2a2a2a" rx="0.4"/><line x1="198" y1="52.5" x2="238.5" y2="52.5" stroke="#8c8c8c" stroke-width="0.9"/><rect x="214.70" y="49.20" width="7.10" height="1.5" fill="#2a2a2a" rx="0.4"/><line x1="184.5" y1="58.1" x2="210.0" y2="58.1" stroke="#8c8c8c" stroke-width="0.9"/><rect x="193.70" y="54.80" width="7.10" height="1.5" fill="#2a2a2a" rx="0.4"/><line x1="213.0" y1="58.1" x2="225" y2="58.1" stroke="#8c8c8c" stroke-width="0.9"/><rect x="216.32" y="54.80" width="5.35" height="1.5" fill="#2a2a2a" rx="0.4"/><line x1="184.5" y1="63.4" x2="196.5" y2="63.4" stroke="#8c8c8c" stroke-width="0.9"/><rect x="189.57" y="60.10" width="1.85" height="1.5" fill="#2a2a2a" rx="0.4"/><line x1="199.5" y1="63.4" x2="211.5" y2="63.4" stroke="#8c8c8c" stroke-width="0.9"/><rect x="201.95" y="60.10" width="7.10" height="1.5" fill="#2a2a2a" rx="0.4"/><line x1="225" y1="63.4" x2="238.5" y2="63.4" stroke="#8c8c8c" stroke-width="0.9"/><rect x="230.82" y="60.10" width="1.85" height="1.5" fill="#2a2a2a" rx="0.4"/><polygon points="184.5,65.7 184.5,66.2 184.5,66.7 184.5,67.2 184.5,67.7 184.6,68.2 184.6,68.7 184.7,69.2 184.8,69.7 184.8,70.2 184.9,70.7 184.9,71.2 184.9,71.7 184.9,72.2 185.0,72.7 185.0,73.2 185.0,73.7 185.0,74.2 185.1,74.7 185.1,75.2 185.2,75.7 185.2,76.2 185.2,76.7 185.3,77.2 185.3,77.7 185.4,78.2 185.4,78.7 185.5,79.2 185.6,79.7 185.6,80.2 185.7,80.7 185.9,81.2 186.0,81.7 186.1,82.2 186.3,82.7 186.4,83.2 186.6,83.7 186.7,84.2 186.8,84.7 186.8,85.2 186.8,85.7 186.7,86.2 186.7,86.7 186.6,87.2 186.5,87.7 186.4,88.2 186.3,88.7 186.2,89.2 186.2,89.7 186.3,90.2 186.6,90.7 186.9,91.2 187.1,91.7 187.3,92.2 187.4,92.7 187.3,93.2 187.2,93.7 187.1,94.2 187.1,94.7 187.3,95.2 187.5,95.7 187.7,96.2 187.9,96.7 188.1,97.2 188.3,97.7 188.3,98.2 188.3,98.7 188.2,99.2 188.1,99.7 188.0,100.2 187.8,100.7 187.7,101.2 187.5,101.7 187.3,102.2 187.1,102.7 186.9,103.2 186.6,103.7 186.3,104.2 186.0,104.7 185.6,105.2 185.3,105.7 185.1,106.2 184.9,106.7 184.7,107.2 184.5,107.7 184.5,108.2 184.5,108.7 184.5,108.8 184.5,108.8 184.5,108.7 184.5,108.2 184.5,107.7 184.3,107.2 184.1,106.7 183.9,106.2 183.7,105.7 183.4,105.2 183.0,104.7 182.7,104.2 182.4,103.7 182.1,103.2 181.9,102.7 181.7,102.2 181.5,101.7 181.3,101.2 181.2,100.7 181.0,100.2 180.9,99.7 180.8,99.2 180.7,98.7 180.7,98.2 180.7,97.7 180.9,97.2 181.1,96.7 181.3,96.2 181.5,95.7 181.7,95.2 181.9,94.7 181.9,94.2 181.8,93.7 181.7,93.2 181.6,92.7 181.7,92.2 181.9,91.7 182.1,91.2 182.4,90.7 182.7,90.2 182.8,89.7 182.8,89.2 182.7,88.7 182.6,88.2 182.5,87.7 182.4,87.2 182.3,86.7 182.3,86.2 182.2,85.7 182.2,85.2 182.2,84.7 182.3,84.2 182.4,83.7 182.6,83.2 182.7,82.7 182.9,82.2 183.0,81.7 183.1,81.2 183.3,80.7 183.4,80.2 183.4,79.7 183.5,79.2 183.6,78.7 183.6,78.2 183.7,77.7 183.7,77.2 183.8,76.7 183.8,76.2 183.8,75.7 183.9,75.2 183.9,74.7 184.0,74.2 184.0,73.7 184.0,73.2 184.0,72.7 184.1,72.2 184.1,71.7 184.1,71.2 184.1,70.7 184.2,70.2 184.2,69.7 184.3,69.2 184.4,68.7 184.4,68.2 184.5,67.7 184.5,67.2 184.5,66.7 184.5,66.2 184.5,65.7" fill="#9bd487" stroke="#3a7a2c" stroke-width="1.0" stroke-linejoin="round"/><line x1="182.76" y1="89.00" x2="186.24" y2="89.00" stroke="#5f9f4d" stroke-width="0.5" opacity="0.8"/><line x1="181.27" y1="101.00" x2="187.73" y2="101.00" stroke="#5f9f4d" stroke-width="0.5" opacity="0.8"/><line x1="181.88" y1="94.60" x2="187.12" y2="94.60" stroke="#3db03a" stroke-width="1.2"/><polygon points="198.0,67.6 198.0,68.1 198.0,68.6 198.0,69.1 198.1,69.6 198.2,70.1 198.3,70.6 198.4,71.1 198.5,71.6 198.5,72.1 198.5,72.6 198.5,73.1 198.6,73.6 198.6,74.1 198.6,74.6 198.6,75.1 198.6,75.6 198.6,76.1 198.6,76.6 198.6,77.1 198.6,77.6 198.6,78.1 198.6,78.6 198.6,79.1 198.7,79.6 198.7,80.1 198.7,80.6 198.7,81.1 198.7,81.6 198.7,82.1 198.7,82.6 198.7,83.1 198.7,83.6 198.7,84.1 198.7,84.6 198.7,85.1 198.7,85.6 198.8,86.1 198.8,86.6 198.8,87.1 198.8,87.6 198.9,88.1 199.0,88.6 199.0,89.1 199.2,89.6 199.3,90.1 199.4,90.6 199.5,91.1 199.7,91.6 199.8,92.1 199.9,92.6 200.1,93.1 200.2,93.6 200.3,94.1 200.5,94.6 200.6,95.1 200.8,95.6 200.9,96.1 201.0,96.6 201.2,97.1 201.3,97.6 201.5,98.1 201.6,98.6 201.7,99.1 201.8,99.6 201.9,100.1 201.9,100.6 201.8,101.1 201.7,101.6 201.6,102.1 201.4,102.6 201.2,103.1 201.0,103.6 200.6,104.1 200.1,104.6 199.5,105.1 199.0,105.6 198.6,106.1 198.2,106.6 198.0,107.1 198.0,107.4 198.0,107.4 198.0,107.1 197.8,106.6 197.4,106.1 197.0,105.6 196.5,105.1 195.9,104.6 195.4,104.1 195.0,103.6 194.8,103.1 194.6,102.6 194.4,102.1 194.3,101.6 194.2,101.1 194.1,100.6 194.1,100.1 194.2,99.6 194.3,99.1 194.4,98.6 194.5,98.1 194.7,97.6 194.8,97.1 195.0,96.6 195.1,96.1 195.2,95.6 195.4,95.1 195.5,94.6 195.7,94.1 195.8,93.6 195.9,93.1 196.1,92.6 196.2,92.1 196.3,91.6 196.5,91.1 196.6,90.6 196.7,90.1 196.8,89.6 197.0,89.1 197.0,88.6 197.1,88.1 197.2,87.6 197.2,87.1 197.2,86.6 197.2,86.1 197.3,85.6 197.3,85.1 197.3,84.6 197.3,84.1 197.3,83.6 197.3,83.1 197.3,82.6 197.3,82.1 197.3,81.6 197.3,81.1 197.3,80.6 197.3,80.1 197.3,79.6 197.4,79.1 197.4,78.6 197.4,78.1 197.4,77.6 197.4,77.1 197.4,76.6 197.4,76.1 197.4,75.6 197.4,75.1 197.4,74.6 197.4,74.1 197.4,73.6 197.5,73.1 197.5,72.6 197.5,72.1 197.5,71.6 197.6,71.1 197.7,70.6 197.8,70.1 197.9,69.6 198.0,69.1 198.0,68.6 198.0,68.1 198.0,67.6" fill="#3bbaee" stroke="#15729f" stroke-width="1.0" stroke-linejoin="round"/><line x1="195.95" y1="93.00" x2="200.05" y2="93.00" stroke="#2a8fc5" stroke-width="0.5" opacity="0.8"/><line x1="194.54" y1="102.50" x2="201.46" y2="102.50" stroke="#2a8fc5" stroke-width="0.5" opacity="0.8"/><line x1="194.50" y1="98.20" x2="201.50" y2="98.20" stroke="#1a8fd0" stroke-width="1.2"/><polygon points="211.5,81.2 211.5,81.7 211.5,82.2 211.5,82.7 211.5,83.2 211.5,83.7 211.5,84.2 211.6,84.7 211.7,85.2 211.7,85.7 211.7,86.2 211.7,86.7 211.7,87.2 211.7,87.7 211.7,88.2 211.7,88.7 211.7,89.2 211.8,89.7 211.8,90.2 211.8,90.7 211.8,91.2 211.8,91.7 211.8,92.2 211.9,92.7 211.9,93.2 212.1,93.7 212.2,94.2 212.3,94.7 212.5,95.2 212.6,95.7 212.8,96.2 213.0,96.7 213.2,97.2 213.4,97.7 213.6,98.2 213.9,98.7 214.1,99.2 214.4,99.7 214.8,100.2 215.1,100.7 215.3,101.2 215.4,101.7 215.3,102.2 215.1,102.7 214.7,103.2 214.3,103.7 213.4,104.2 212.6,104.7 211.9,105.2 211.5,105.7 211.5,105.8 211.5,105.8 211.5,105.7 211.1,105.2 210.4,104.7 209.6,104.2 208.7,103.7 208.3,103.2 207.9,102.7 207.7,102.2 207.6,101.7 207.7,101.2 207.9,100.7 208.2,100.2 208.6,99.7 208.9,99.2 209.1,98.7 209.4,98.2 209.6,97.7 209.8,97.2 210.0,96.7 210.2,96.2 210.4,95.7 210.5,95.2 210.7,94.7 210.8,94.2 210.9,93.7 211.1,93.2 211.1,92.7 211.2,92.2 211.2,91.7 211.2,91.2 211.2,90.7 211.2,90.2 211.2,89.7 211.3,89.2 211.3,88.7 211.3,88.2 211.3,87.7 211.3,87.2 211.3,86.7 211.3,86.2 211.3,85.7 211.3,85.2 211.4,84.7 211.5,84.2 211.5,83.7 211.5,83.2 211.5,82.7 211.5,82.2 211.5,81.7 211.5,81.2" fill="#fbd97b" stroke="#967818" stroke-width="1.0" stroke-linejoin="round"/><line x1="208.72" y1="99.50" x2="214.28" y2="99.50" stroke="#c09030" stroke-width="0.5" opacity="0.8"/><line x1="208.35" y1="103.30" x2="214.65" y2="103.30" stroke="#c09030" stroke-width="0.5" opacity="0.8"/><line x1="207.63" y1="101.50" x2="215.37" y2="101.50" stroke="#f5bd00" stroke-width="1.2"/><polygon points="225.0,64.8 225.0,65.3 225.0,65.8 225.0,66.3 225.0,66.8 225.0,67.3 225.1,67.8 225.2,68.3 225.3,68.8 225.3,69.3 225.4,69.8 225.4,70.3 225.4,70.8 225.5,71.3 225.5,71.8 225.5,72.3 225.5,72.8 225.5,73.3 225.5,73.8 225.5,74.3 225.6,74.8 225.6,75.3 225.6,75.8 225.6,76.3 225.6,76.8 225.6,77.3 225.6,77.8 225.6,78.3 225.6,78.8 225.7,79.3 225.7,79.8 225.7,80.3 225.8,80.8 225.8,81.3 225.8,81.8 225.9,82.3 226.0,82.8 226.0,83.3 226.1,83.8 226.2,84.3 226.2,84.8 226.3,85.3 226.4,85.8 226.5,86.3 226.5,86.8 226.6,87.3 226.7,87.8 226.8,88.3 226.9,88.8 226.9,89.3 227.0,89.8 227.1,90.3 227.2,90.8 227.3,91.3 227.4,91.8 227.5,92.3 227.5,92.8 227.6,93.3 227.7,93.8 227.8,94.3 227.8,94.8 227.9,95.3 228.0,95.8 228.0,96.3 228.1,96.8 228.2,97.3 228.3,97.8 228.4,98.3 228.5,98.8 228.6,99.3 228.7,99.8 228.8,100.3 228.9,100.8 228.9,101.3 228.9,101.8 228.8,102.3 228.6,102.8 228.3,103.3 228.0,103.8 227.8,104.3 227.5,104.8 227.2,105.3 226.9,105.8 226.5,106.3 226.2,106.8 225.9,107.3 225.7,107.8 225.4,108.3 225.2,108.8 225.0,109.3 225.0,109.8 225.0,110.0 225.0,110.0 225.0,109.8 225.0,109.3 224.8,108.8 224.6,108.3 224.3,107.8 224.1,107.3 223.8,106.8 223.5,106.3 223.1,105.8 222.8,105.3 222.5,104.8 222.2,104.3 222.0,103.8 221.7,103.3 221.4,102.8 221.2,102.3 221.1,101.8 221.1,101.3 221.1,100.8 221.2,100.3 221.3,99.8 221.4,99.3 221.5,98.8 221.6,98.3 221.7,97.8 221.8,97.3 221.9,96.8 222.0,96.3 222.0,95.8 222.1,95.3 222.2,94.8 222.2,94.3 222.3,93.8 222.4,93.3 222.5,92.8 222.5,92.3 222.6,91.8 222.7,91.3 222.8,90.8 222.9,90.3 223.0,89.8 223.1,89.3 223.1,88.8 223.2,88.3 223.3,87.8 223.4,87.3 223.5,86.8 223.5,86.3 223.6,85.8 223.7,85.3 223.8,84.8 223.8,84.3 223.9,83.8 224.0,83.3 224.0,82.8 224.1,82.3 224.2,81.8 224.2,81.3 224.2,80.8 224.3,80.3 224.3,79.8 224.3,79.3 224.4,78.8 224.4,78.3 224.4,77.8 224.4,77.3 224.4,76.8 224.4,76.3 224.4,75.8 224.4,75.3 224.4,74.8 224.5,74.3 224.5,73.8 224.5,73.3 224.5,72.8 224.5,72.3 224.5,71.8 224.5,71.3 224.6,70.8 224.6,70.3 224.6,69.8 224.7,69.3 224.7,68.8 224.8,68.3 224.9,67.8 225.0,67.3 225.0,66.8 225.0,66.3 225.0,65.8 225.0,65.3 225.0,64.8" fill="#f78d8d" stroke="#b02626" stroke-width="1.0" stroke-linejoin="round"/><line x1="222.94" y1="90.00" x2="227.06" y2="90.00" stroke="#d04c4c" stroke-width="0.5" opacity="0.8"/><line x1="221.51" y1="103.00" x2="228.49" y2="103.00" stroke="#d04c4c" stroke-width="0.5" opacity="0.8"/><line x1="221.97" y1="96.30" x2="228.03" y2="96.30" stroke="#f01010" stroke-width="1.2"/><polygon points="238.5,74.0 238.5,74.5 238.5,75.0 238.5,75.5 238.5,76.0 238.5,76.5 238.5,77.0 238.5,77.5 238.5,78.0 238.5,78.5 238.6,79.0 238.6,79.5 238.6,80.0 238.6,80.5 238.6,81.0 238.6,81.5 238.6,82.0 238.6,82.5 238.6,83.0 238.6,83.5 238.6,84.0 238.6,84.5 238.6,85.0 238.6,85.5 238.6,86.0 238.6,86.5 238.6,87.0 238.6,87.5 238.6,88.0 238.6,88.5 238.6,89.0 238.6,89.5 238.6,90.0 238.7,90.5 238.7,91.0 238.7,91.5 238.7,92.0 238.7,92.5 238.7,93.0 238.7,93.5 238.7,94.0 238.7,94.5 238.7,95.0 238.7,95.5 238.8,96.0 239.0,96.5 239.3,97.0 239.7,97.5 240.1,98.0 240.5,98.5 241.0,99.0 241.3,99.5 241.7,100.0 242.1,100.5 242.4,101.0 242.5,101.5 242.4,102.0 242.2,102.5 241.9,103.0 241.5,103.5 241.0,104.0 240.3,104.5 239.6,105.0 239.0,105.5 238.5,106.0 238.5,106.4 238.5,106.4 238.5,106.0 238.0,105.5 237.4,105.0 236.7,104.5 236.0,104.0 235.5,103.5 235.1,103.0 234.8,102.5 234.6,102.0 234.5,101.5 234.6,101.0 234.9,100.5 235.3,100.0 235.7,99.5 236.0,99.0 236.5,98.5 236.9,98.0 237.3,97.5 237.7,97.0 238.0,96.5 238.2,96.0 238.3,95.5 238.3,95.0 238.3,94.5 238.3,94.0 238.3,93.5 238.3,93.0 238.3,92.5 238.3,92.0 238.3,91.5 238.3,91.0 238.3,90.5 238.4,90.0 238.4,89.5 238.4,89.0 238.4,88.5 238.4,88.0 238.4,87.5 238.4,87.0 238.4,86.5 238.4,86.0 238.4,85.5 238.4,85.0 238.4,84.5 238.4,84.0 238.4,83.5 238.4,83.0 238.4,82.5 238.4,82.0 238.4,81.5 238.4,81.0 238.4,80.5 238.4,80.0 238.4,79.5 238.4,79.0 238.5,78.5 238.5,78.0 238.5,77.5 238.5,77.0 238.5,76.5 238.5,76.0 238.5,75.5 238.5,75.0 238.5,74.5 238.5,74.0" fill="#e190e3" stroke="#7a177b" stroke-width="1.0" stroke-linejoin="round"/><line x1="235.68" y1="99.50" x2="241.32" y2="99.50" stroke="#b050b2" stroke-width="0.5" opacity="0.8"/><line x1="235.33" y1="103.30" x2="241.67" y2="103.30" stroke="#b050b2" stroke-width="0.5" opacity="0.8"/><line x1="234.59" y1="101.20" x2="242.41" y2="101.20" stroke="#c010c0" stroke-width="1.2"/><text x="266.5" y="14.5" font-size="12.3" font-weight="bold" stroke="#000" stroke-width="0.6">C</text><text x="311.40" y="14.6" font-size="10" font-weight="bold" text-anchor="middle" stroke="#000" stroke-width="0.4" textLength="41.80" lengthAdjust="spacingAndGlyphs">SLC18A2</text><line x1="275.3" y1="49.4" x2="275.3" y2="121.5" stroke="#7a7a7a" stroke-width="0.9"/><line x1="272.7" y1="121.5" x2="347.70000000000005" y2="121.5" stroke="#7a7a7a" stroke-width="0.9"/><line x1="272.7" y1="49.40" x2="275.3" y2="49.40" stroke="#7a7a7a" stroke-width="0.9"/><text x="271.70" y="51.60" font-size="6.0" font-weight="bold" text-anchor="end" fill="#111" stroke="#111" stroke-width="0.3">4</text><line x1="272.7" y1="63.82" x2="275.3" y2="63.82" stroke="#7a7a7a" stroke-width="0.9"/><text x="271.70" y="66.02" font-size="6.0" font-weight="bold" text-anchor="end" fill="#111" stroke="#111" stroke-width="0.3">3</text><line x1="272.7" y1="78.24" x2="275.3" y2="78.24" stroke="#7a7a7a" stroke-width="0.9"/><text x="271.70" y="80.44" font-size="6.0" font-weight="bold" text-anchor="end" fill="#111" stroke="#111" stroke-width="0.3">2</text><line x1="272.7" y1="92.66" x2="275.3" y2="92.66" stroke="#7a7a7a" stroke-width="0.9"/><text x="271.70" y="94.86" font-size="6.0" font-weight="bold" text-anchor="end" fill="#111" stroke="#111" stroke-width="0.3">1</text><line x1="272.7" y1="107.08" x2="275.3" y2="107.08" stroke="#7a7a7a" stroke-width="0.9"/><text x="271.70" y="109.28" font-size="6.0" font-weight="bold" text-anchor="end" fill="#111" stroke="#111" stroke-width="0.3">0</text><line x1="272.7" y1="121.50" x2="275.3" y2="121.50" stroke="#7a7a7a" stroke-width="0.9"/><text x="271.70" y="123.70" font-size="6.0" font-weight="bold" text-anchor="end" fill="#111" stroke="#111" stroke-width="0.3">-1</text><line x1="284" y1="121.5" x2="284" y2="123.9" stroke="#7a7a7a" stroke-width="0.9"/><line x1="297.5" y1="121.5" x2="297.5" y2="123.9" stroke="#7a7a7a" stroke-width="0.9"/><line x1="311" y1="121.5" x2="311" y2="123.9" stroke="#7a7a7a" stroke-width="0.9"/><line x1="324.5" y1="121.5" x2="324.5" y2="123.9" stroke="#7a7a7a" stroke-width="0.9"/><line x1="338.1" y1="121.5" x2="338.1" y2="123.9" stroke="#7a7a7a" stroke-width="0.9"/><text transform="translate(285.40,127.90) rotate(-45)" font-size="6.0" font-weight="bold" text-anchor="end" fill="#222" stroke="#222" stroke-width="0.2">Normal</text><text transform="translate(298.90,127.90) rotate(-45)" font-size="6.0" font-weight="bold" text-anchor="end" fill="#222" stroke="#222" stroke-width="0.2">LumA</text><text transform="translate(312.40,127.90) rotate(-45)" font-size="6.0" font-weight="bold" text-anchor="end" fill="#222" stroke="#222" stroke-width="0.2">LumB</text><text transform="translate(325.90,127.90) rotate(-45)" font-size="6.0" font-weight="bold" text-anchor="end" fill="#222" stroke="#222" stroke-width="0.2">Her2</text><text transform="translate(339.50,127.90) rotate(-45)" font-size="6.0" font-weight="bold" text-anchor="end" fill="#222" stroke="#222" stroke-width="0.2">Basal</text><text transform="translate(261.50,84.55) rotate(-90)" font-size="7.8" font-weight="bold" text-anchor="middle" fill="#111" stroke="#111" stroke-width="0.3" textLength="48.6" lengthAdjust="spacingAndGlyphs">log<tspan font-size="5.2" dy="1.6">2</tspan><tspan dy="-1.6">(TPM+1)</tspan></text><line x1="284" y1="29" x2="338.1" y2="29" stroke="#8c8c8c" stroke-width="0.9"/><rect x="307.50" y="25.70" width="7.10" height="1.5" fill="#2a2a2a" rx="0.4"/><line x1="297.5" y1="34.5" x2="338.1" y2="34.5" stroke="#8c8c8c" stroke-width="0.9"/><rect x="314.25" y="31.20" width="7.10" height="1.5" fill="#2a2a2a" rx="0.4"/><line x1="284" y1="39.7" x2="324.5" y2="39.7" stroke="#8c8c8c" stroke-width="0.9"/><rect x="302.45" y="36.40" width="3.60" height="1.5" fill="#2a2a2a" rx="0.4"/><line x1="297.5" y1="45" x2="324.5" y2="45" stroke="#8c8c8c" stroke-width="0.9"/><rect x="307.45" y="41.70" width="7.10" height="1.5" fill="#2a2a2a" rx="0.4"/><line x1="284" y1="50.5" x2="309.5" y2="50.5" stroke="#8c8c8c" stroke-width="0.9"/><rect x="293.20" y="47.20" width="7.10" height="1.5" fill="#2a2a2a" rx="0.4"/><line x1="312.5" y1="50.5" x2="338.1" y2="50.5" stroke="#8c8c8c" stroke-width="0.9"/><rect x="321.75" y="47.20" width="7.10" height="1.5" fill="#2a2a2a" rx="0.4"/><line x1="297.5" y1="55.6" x2="311" y2="55.6" stroke="#8c8c8c" stroke-width="0.9"/><rect x="300.70" y="52.30" width="7.10" height="1.5" fill="#2a2a2a" rx="0.4"/><line x1="324.5" y1="55.6" x2="338.1" y2="55.6" stroke="#8c8c8c" stroke-width="0.9"/><rect x="327.75" y="52.30" width="7.10" height="1.5" fill="#2a2a2a" rx="0.4"/><polygon points="284.0,67.4 284.0,67.9 284.0,68.4 284.0,68.9 284.0,69.4 284.0,69.9 284.1,70.4 284.1,70.9 284.2,71.4 284.2,71.9 284.2,72.4 284.2,72.9 284.2,73.4 284.3,73.9 284.3,74.4 284.3,74.9 284.3,75.4 284.3,75.9 284.3,76.4 284.3,76.9 284.3,77.4 284.3,77.9 284.3,78.4 284.3,78.9 284.3,79.4 284.3,79.9 284.3,80.4 284.3,80.9 284.4,81.4 284.4,81.9 284.4,82.4 284.5,82.9 284.6,83.4 284.8,83.9 285.0,84.4 285.1,84.9 285.3,85.4 285.4,85.9 285.6,86.4 285.7,86.9 285.8,87.4 286.0,87.9 286.1,88.4 286.2,88.9 286.3,89.4 286.5,89.9 286.6,90.4 286.7,90.9 286.8,91.4 286.9,91.9 287.0,92.4 287.1,92.9 287.1,93.4 287.2,93.9 287.2,94.4 287.1,94.9 287.0,95.4 286.8,95.9 286.8,96.4 286.9,96.9 287.1,97.4 287.3,97.9 287.5,98.4 287.6,98.9 287.6,99.4 287.5,99.9 287.4,100.4 287.3,100.9 287.2,101.4 287.0,101.9 286.8,102.4 286.6,102.9 286.4,103.4 286.2,103.9 286.0,104.4 285.7,104.9 285.5,105.4 285.3,105.9 285.1,106.4 284.9,106.9 284.7,107.4 284.5,107.9 284.3,108.4 284.2,108.9 284.0,109.4 284.0,109.9 284.0,110.4 284.0,110.6 284.0,110.6 284.0,110.4 284.0,109.9 284.0,109.4 283.8,108.9 283.7,108.4 283.5,107.9 283.3,107.4 283.1,106.9 282.9,106.4 282.7,105.9 282.5,105.4 282.3,104.9 282.0,104.4 281.8,103.9 281.6,103.4 281.4,102.9 281.2,102.4 281.0,101.9 280.8,101.4 280.7,100.9 280.6,100.4 280.5,99.9 280.4,99.4 280.4,98.9 280.5,98.4 280.7,97.9 280.9,97.4 281.1,96.9 281.2,96.4 281.2,95.9 281.0,95.4 280.9,94.9 280.8,94.4 280.8,93.9 280.9,93.4 280.9,92.9 281.0,92.4 281.1,91.9 281.2,91.4 281.3,90.9 281.4,90.4 281.5,89.9 281.7,89.4 281.8,88.9 281.9,88.4 282.0,87.9 282.2,87.4 282.3,86.9 282.4,86.4 282.6,85.9 282.7,85.4 282.9,84.9 283.0,84.4 283.2,83.9 283.4,83.4 283.5,82.9 283.6,82.4 283.6,81.9 283.6,81.4 283.7,80.9 283.7,80.4 283.7,79.9 283.7,79.4 283.7,78.9 283.7,78.4 283.7,77.9 283.7,77.4 283.7,76.9 283.7,76.4 283.7,75.9 283.7,75.4 283.7,74.9 283.7,74.4 283.7,73.9 283.8,73.4 283.8,72.9 283.8,72.4 283.8,71.9 283.8,71.4 283.9,70.9 283.9,70.4 284.0,69.9 284.0,69.4 284.0,68.9 284.0,68.4 284.0,67.9 284.0,67.4" fill="#9bd487" stroke="#3a7a2c" stroke-width="1.0" stroke-linejoin="round"/><line x1="281.28" y1="91.00" x2="286.72" y2="91.00" stroke="#5f9f4d" stroke-width="0.5" opacity="0.8"/><line x1="281.04" y1="102.00" x2="286.96" y2="102.00" stroke="#5f9f4d" stroke-width="0.5" opacity="0.8"/><line x1="281.11" y1="96.80" x2="286.89" y2="96.80" stroke="#3db03a" stroke-width="1.2"/><polygon points="297.5,56.4 297.5,56.9 297.5,57.4 297.5,57.9 297.5,58.4 297.5,58.9 297.5,59.4 297.5,59.9 297.5,60.4 297.5,60.9 297.5,61.4 297.5,61.9 297.6,62.4 297.6,62.9 297.6,63.4 297.7,63.9 297.7,64.4 297.7,64.9 297.7,65.4 297.7,65.9 297.7,66.4 297.7,66.9 297.8,67.4 297.8,67.9 297.8,68.4 297.8,68.9 297.8,69.4 297.8,69.9 297.8,70.4 297.8,70.9 297.8,71.4 297.8,71.9 297.8,72.4 297.8,72.9 297.8,73.4 297.8,73.9 297.8,74.4 297.8,74.9 297.8,75.4 297.9,75.9 297.9,76.4 297.9,76.9 297.9,77.4 297.9,77.9 297.9,78.4 298.0,78.9 298.0,79.4 298.0,79.9 298.1,80.4 298.1,80.9 298.2,81.4 298.2,81.9 298.3,82.4 298.4,82.9 298.4,83.4 298.5,83.9 298.5,84.4 298.6,84.9 298.7,85.4 298.8,85.9 298.9,86.4 299.0,86.9 299.1,87.4 299.2,87.9 299.3,88.4 299.4,88.9 299.6,89.4 299.7,89.9 299.8,90.4 299.9,90.9 300.0,91.4 300.1,91.9 300.3,92.4 300.4,92.9 300.5,93.4 300.6,93.9 300.8,94.4 301.0,94.9 301.1,95.4 301.3,95.9 301.4,96.4 301.4,96.9 301.4,97.4 301.3,97.9 301.3,98.4 301.2,98.9 301.2,99.4 301.1,99.9 301.1,100.4 301.1,100.9 301.2,101.4 301.3,101.9 301.4,102.4 301.5,102.9 301.5,103.4 301.4,103.9 301.3,104.4 301.0,104.9 300.7,105.4 300.4,105.9 300.1,106.4 299.7,106.9 299.3,107.4 298.8,107.9 298.4,108.4 298.0,108.9 297.8,109.4 297.6,109.9 297.5,110.4 297.5,110.9 297.5,111.2 297.5,111.2 297.5,110.9 297.5,110.4 297.4,109.9 297.2,109.4 297.0,108.9 296.6,108.4 296.2,107.9 295.7,107.4 295.3,106.9 294.9,106.4 294.6,105.9 294.3,105.4 294.0,104.9 293.7,104.4 293.6,103.9 293.5,103.4 293.5,102.9 293.6,102.4 293.7,101.9 293.8,101.4 293.9,100.9 293.9,100.4 293.9,99.9 293.8,99.4 293.8,98.9 293.7,98.4 293.7,97.9 293.6,97.4 293.6,96.9 293.6,96.4 293.7,95.9 293.9,95.4 294.0,94.9 294.2,94.4 294.4,93.9 294.5,93.4 294.6,92.9 294.7,92.4 294.9,91.9 295.0,91.4 295.1,90.9 295.2,90.4 295.3,89.9 295.4,89.4 295.6,88.9 295.7,88.4 295.8,87.9 295.9,87.4 296.0,86.9 296.1,86.4 296.2,85.9 296.3,85.4 296.4,84.9 296.5,84.4 296.5,83.9 296.6,83.4 296.6,82.9 296.7,82.4 296.8,81.9 296.8,81.4 296.9,80.9 296.9,80.4 297.0,79.9 297.0,79.4 297.0,78.9 297.1,78.4 297.1,77.9 297.1,77.4 297.1,76.9 297.1,76.4 297.1,75.9 297.2,75.4 297.2,74.9 297.2,74.4 297.2,73.9 297.2,73.4 297.2,72.9 297.2,72.4 297.2,71.9 297.2,71.4 297.2,70.9 297.2,70.4 297.2,69.9 297.2,69.4 297.2,68.9 297.2,68.4 297.2,67.9 297.2,67.4 297.3,66.9 297.3,66.4 297.3,65.9 297.3,65.4 297.3,64.9 297.3,64.4 297.3,63.9 297.4,63.4 297.4,62.9 297.4,62.4 297.5,61.9 297.5,61.4 297.5,60.9 297.5,60.4 297.5,59.9 297.5,59.4 297.5,58.9 297.5,58.4 297.5,57.9 297.5,57.4 297.5,56.9 297.5,56.4" fill="#3bbaee" stroke="#15729f" stroke-width="1.0" stroke-linejoin="round"/><line x1="295.08" y1="91.00" x2="299.92" y2="91.00" stroke="#2a8fc5" stroke-width="0.5" opacity="0.8"/><line x1="293.52" y1="103.00" x2="301.48" y2="103.00" stroke="#2a8fc5" stroke-width="0.5" opacity="0.8"/><line x1="293.61" y1="96.80" x2="301.39" y2="96.80" stroke="#1a8fd0" stroke-width="1.2"/><polygon points="311.0,81.8 311.0,82.3 311.0,82.8 311.0,83.3 311.0,83.8 311.1,84.3 311.2,84.8 311.2,85.3 311.2,85.8 311.2,86.3 311.2,86.8 311.2,87.3 311.3,87.8 311.3,88.3 311.3,88.8 311.3,89.3 311.3,89.8 311.3,90.3 311.3,90.8 311.4,91.3 311.5,91.8 311.6,92.3 311.7,92.8 311.8,93.3 311.9,93.8 312.1,94.3 312.2,94.8 312.4,95.3 312.5,95.8 312.7,96.3 312.9,96.8 313.1,97.3 313.3,97.8 313.5,98.3 313.7,98.8 313.9,99.3 314.1,99.8 314.3,100.3 314.4,100.8 314.6,101.3 314.7,101.8 314.8,102.3 314.8,102.8 314.8,103.3 314.6,103.8 314.5,104.3 314.3,104.8 314.1,105.3 313.7,105.8 313.2,106.3 312.7,106.8 312.2,107.3 311.8,107.8 311.4,108.3 311.0,108.8 311.0,109.3 311.0,109.4 311.0,109.4 311.0,109.3 311.0,108.8 310.6,108.3 310.2,107.8 309.8,107.3 309.3,106.8 308.8,106.3 308.3,105.8 307.9,105.3 307.7,104.8 307.5,104.3 307.4,103.8 307.2,103.3 307.2,102.8 307.2,102.3 307.3,101.8 307.4,101.3 307.6,100.8 307.7,100.3 307.9,99.8 308.1,99.3 308.3,98.8 308.5,98.3 308.7,97.8 308.9,97.3 309.1,96.8 309.3,96.3 309.5,95.8 309.6,95.3 309.8,94.8 309.9,94.3 310.1,93.8 310.2,93.3 310.3,92.8 310.4,92.3 310.5,91.8 310.6,91.3 310.7,90.8 310.7,90.3 310.7,89.8 310.7,89.3 310.7,88.8 310.7,88.3 310.7,87.8 310.8,87.3 310.8,86.8 310.8,86.3 310.8,85.8 310.8,85.3 310.8,84.8 310.9,84.3 311.0,83.8 311.0,83.3 311.0,82.8 311.0,82.3 311.0,81.8" fill="#fbd97b" stroke="#967818" stroke-width="1.0" stroke-linejoin="round"/><line x1="308.86" y1="97.50" x2="313.14" y2="97.50" stroke="#c09030" stroke-width="0.5" opacity="0.8"/><line x1="307.60" y1="104.50" x2="314.40" y2="104.50" stroke="#c09030" stroke-width="0.5" opacity="0.8"/><line x1="307.62" y1="100.70" x2="314.38" y2="100.70" stroke="#f5bd00" stroke-width="1.2"/><polygon points="324.5,77.0 324.5,77.5 324.5,78.0 324.5,78.5 324.5,79.0 324.5,79.5 324.5,80.0 324.6,80.5 324.6,81.0 324.7,81.5 324.7,82.0 324.7,82.5 324.7,83.0 324.7,83.5 324.7,84.0 324.7,84.5 324.7,85.0 324.7,85.5 324.8,86.0 324.8,86.5 324.8,87.0 324.8,87.5 324.8,88.0 324.8,88.5 324.9,89.0 324.9,89.5 325.0,90.0 325.2,90.5 325.3,91.0 325.5,91.5 325.6,92.0 325.7,92.5 325.9,93.0 326.0,93.5 326.2,94.0 326.4,94.5 326.5,95.0 326.7,95.5 326.9,96.0 327.0,96.5 327.2,97.0 327.3,97.5 327.5,98.0 327.6,98.5 327.8,99.0 328.0,99.5 328.1,100.0 328.2,100.5 328.3,101.0 328.3,101.5 328.3,102.0 328.2,102.5 328.1,103.0 328.0,103.5 327.8,104.0 327.6,104.5 327.4,105.0 327.1,105.5 326.8,106.0 326.4,106.5 326.0,107.0 325.7,107.5 325.3,108.0 325.0,108.5 324.7,109.0 324.5,109.5 324.5,110.0 324.5,110.0 324.5,109.5 324.3,109.0 324.0,108.5 323.7,108.0 323.3,107.5 323.0,107.0 322.6,106.5 322.2,106.0 321.9,105.5 321.6,105.0 321.4,104.5 321.2,104.0 321.0,103.5 320.9,103.0 320.8,102.5 320.7,102.0 320.7,101.5 320.7,101.0 320.8,100.5 320.9,100.0 321.0,99.5 321.2,99.0 321.4,98.5 321.5,98.0 321.7,97.5 321.8,97.0 322.0,96.5 322.1,96.0 322.3,95.5 322.5,95.0 322.6,94.5 322.8,94.0 323.0,93.5 323.1,93.0 323.3,92.5 323.4,92.0 323.5,91.5 323.7,91.0 323.8,90.5 324.0,90.0 324.1,89.5 324.1,89.0 324.2,88.5 324.2,88.0 324.2,87.5 324.2,87.0 324.2,86.5 324.2,86.0 324.3,85.5 324.3,85.0 324.3,84.5 324.3,84.0 324.3,83.5 324.3,83.0 324.3,82.5 324.3,82.0 324.3,81.5 324.4,81.0 324.4,80.5 324.5,80.0 324.5,79.5 324.5,79.0 324.5,78.5 324.5,78.0 324.5,77.5 324.5,77.0" fill="#f78d8d" stroke="#b02626" stroke-width="1.0" stroke-linejoin="round"/><line x1="321.84" y1="97.00" x2="327.16" y2="97.00" stroke="#d04c4c" stroke-width="0.5" opacity="0.8"/><line x1="321.57" y1="105.00" x2="327.43" y2="105.00" stroke="#d04c4c" stroke-width="0.5" opacity="0.8"/><line x1="320.73" y1="101.00" x2="328.27" y2="101.00" stroke="#f01010" stroke-width="1.2"/><polygon points="338.1,92.0 338.1,92.5 338.1,93.0 338.1,93.5 338.1,94.0 338.2,94.5 338.2,95.0 338.2,95.5 338.2,96.0 338.2,96.5 338.3,97.0 338.3,97.5 338.3,98.0 338.4,98.5 338.5,99.0 338.6,99.5 338.8,100.0 339.0,100.5 339.2,101.0 339.4,101.5 339.5,102.0 339.7,102.5 340.0,103.0 340.3,103.5 340.8,104.0 341.5,104.5 342.0,105.0 341.9,105.5 341.3,106.0 340.5,106.5 339.8,107.0 338.9,107.5 338.1,108.0 338.1,108.2 338.1,108.2 338.1,108.0 337.3,107.5 336.4,107.0 335.7,106.5 334.9,106.0 334.3,105.5 334.2,105.0 334.7,104.5 335.4,104.0 335.9,103.5 336.2,103.0 336.5,102.5 336.7,102.0 336.8,101.5 337.0,101.0 337.2,100.5 337.4,100.0 337.6,99.5 337.7,99.0 337.8,98.5 337.9,98.0 337.9,97.5 337.9,97.0 338.0,96.5 338.0,96.0 338.0,95.5 338.0,95.0 338.0,94.5 338.1,94.0 338.1,93.5 338.1,93.0 338.1,92.5 338.1,92.0" fill="#e190e3" stroke="#7a177b" stroke-width="1.0" stroke-linejoin="round"/><line x1="334.25" y1="105.00" x2="341.95" y2="105.00" stroke="#c010c0" stroke-width="1.2"/><text x="366.1" y="14.5" font-size="12.3" font-weight="bold" stroke="#000" stroke-width="0.6">D</text><text x="409.40" y="14.6" font-size="10" font-weight="bold" text-anchor="middle" stroke="#000" stroke-width="0.4" textLength="35.80" lengthAdjust="spacingAndGlyphs">H2BC11</text><line x1="373.5" y1="49.4" x2="373.5" y2="121.5" stroke="#7a7a7a" stroke-width="0.9"/><line x1="370.9" y1="121.5" x2="446.20000000000005" y2="121.5" stroke="#7a7a7a" stroke-width="0.9"/><line x1="370.9" y1="49.40" x2="373.5" y2="49.40" stroke="#7a7a7a" stroke-width="0.9"/><text x="369.90" y="51.60" font-size="6.0" font-weight="bold" text-anchor="end" fill="#111" stroke="#111" stroke-width="0.3">10</text><line x1="370.9" y1="73.43" x2="373.5" y2="73.43" stroke="#7a7a7a" stroke-width="0.9"/><text x="369.90" y="75.63" font-size="6.0" font-weight="bold" text-anchor="end" fill="#111" stroke="#111" stroke-width="0.3">5</text><line x1="370.9" y1="97.47" x2="373.5" y2="97.47" stroke="#7a7a7a" stroke-width="0.9"/><text x="369.90" y="99.67" font-size="6.0" font-weight="bold" text-anchor="end" fill="#111" stroke="#111" stroke-width="0.3">0</text><line x1="370.9" y1="121.50" x2="373.5" y2="121.50" stroke="#7a7a7a" stroke-width="0.9"/><text x="369.90" y="123.70" font-size="6.0" font-weight="bold" text-anchor="end" fill="#111" stroke="#111" stroke-width="0.3">-5</text><line x1="382.5" y1="121.5" x2="382.5" y2="123.9" stroke="#7a7a7a" stroke-width="0.9"/><line x1="396" y1="121.5" x2="396" y2="123.9" stroke="#7a7a7a" stroke-width="0.9"/><line x1="409.5" y1="121.5" x2="409.5" y2="123.9" stroke="#7a7a7a" stroke-width="0.9"/><line x1="423.1" y1="121.5" x2="423.1" y2="123.9" stroke="#7a7a7a" stroke-width="0.9"/><line x1="436.6" y1="121.5" x2="436.6" y2="123.9" stroke="#7a7a7a" stroke-width="0.9"/><text transform="translate(383.90,127.90) rotate(-45)" font-size="6.0" font-weight="bold" text-anchor="end" fill="#222" stroke="#222" stroke-width="0.2">Normal</text><text transform="translate(397.40,127.90) rotate(-45)" font-size="6.0" font-weight="bold" text-anchor="end" fill="#222" stroke="#222" stroke-width="0.2">LumA</text><text transform="translate(410.90,127.90) rotate(-45)" font-size="6.0" font-weight="bold" text-anchor="end" fill="#222" stroke="#222" stroke-width="0.2">LumB</text><text transform="translate(424.50,127.90) rotate(-45)" font-size="6.0" font-weight="bold" text-anchor="end" fill="#222" stroke="#222" stroke-width="0.2">Her2</text><text transform="translate(438.00,127.90) rotate(-45)" font-size="6.0" font-weight="bold" text-anchor="end" fill="#222" stroke="#222" stroke-width="0.2">Basal</text><text transform="translate(361.50,84.55) rotate(-90)" font-size="7.8" font-weight="bold" text-anchor="middle" fill="#111" stroke="#111" stroke-width="0.3" textLength="48.6" lengthAdjust="spacingAndGlyphs">log<tspan font-size="5.2" dy="1.6">2</tspan><tspan dy="-1.6">(TPM+1)</tspan></text><line x1="382.5" y1="29.7" x2="436.6" y2="29.7" stroke="#8c8c8c" stroke-width="0.9"/><rect x="406.00" y="26.40" width="7.10" height="1.5" fill="#2a2a2a" rx="0.4"/><line x1="396" y1="35.2" x2="436.6" y2="35.2" stroke="#8c8c8c" stroke-width="0.9"/><rect x="412.75" y="31.90" width="7.10" height="1.5" fill="#2a2a2a" rx="0.4"/><line x1="382.5" y1="40.5" x2="423.1" y2="40.5" stroke="#8c8c8c" stroke-width="0.9"/><rect x="399.25" y="37.20" width="7.10" height="1.5" fill="#2a2a2a" rx="0.4"/><line x1="409.5" y1="45.7" x2="436.6" y2="45.7" stroke="#8c8c8c" stroke-width="0.9"/><rect x="421.25" y="42.40" width="3.60" height="1.5" fill="#2a2a2a" rx="0.4"/><line x1="396" y1="51.1" x2="423.1" y2="51.1" stroke="#8c8c8c" stroke-width="0.9"/><rect x="406.00" y="47.80" width="7.10" height="1.5" fill="#2a2a2a" rx="0.4"/><line x1="382.5" y1="56.3" x2="409.5" y2="56.3" stroke="#8c8c8c" stroke-width="0.9"/><rect x="392.45" y="53.00" width="7.10" height="1.5" fill="#2a2a2a" rx="0.4"/><line x1="382.5" y1="62.3" x2="394.5" y2="62.3" stroke="#8c8c8c" stroke-width="0.9"/><rect x="384.95" y="59.00" width="7.10" height="1.5" fill="#2a2a2a" rx="0.4"/><line x1="397.5" y1="62.3" x2="409.5" y2="62.3" stroke="#8c8c8c" stroke-width="0.9"/><rect x="399.95" y="59.00" width="7.10" height="1.5" fill="#2a2a2a" rx="0.4"/><polygon points="382.5,76.5 382.5,77.0 382.5,77.5 382.5,78.0 382.5,78.5 382.6,79.0 382.6,79.5 382.7,80.0 382.7,80.5 382.8,81.0 382.8,81.5 382.8,82.0 382.8,82.5 382.8,83.0 382.9,83.5 382.9,84.0 383.1,84.5 383.4,85.0 383.8,85.5 384.2,86.0 384.6,86.5 384.9,87.0 385.2,87.5 385.4,88.0 385.7,88.5 385.9,89.0 386.1,89.5 386.2,90.0 386.3,90.5 386.3,91.0 386.2,91.5 385.9,92.0 385.6,92.5 385.2,93.0 384.8,93.5 384.4,94.0 384.0,94.5 383.6,95.0 383.1,95.5 382.6,96.0 382.5,96.5 382.5,96.5 382.4,96.0 381.9,95.5 381.4,95.0 381.0,94.5 380.6,94.0 380.2,93.5 379.8,93.0 379.4,92.5 379.1,92.0 378.8,91.5 378.7,91.0 378.7,90.5 378.8,90.0 378.9,89.5 379.1,89.0 379.3,88.5 379.6,88.0 379.8,87.5 380.1,87.0 380.4,86.5 380.8,86.0 381.2,85.5 381.6,85.0 381.9,84.5 382.1,84.0 382.1,83.5 382.2,83.0 382.2,82.5 382.2,82.0 382.2,81.5 382.2,81.0 382.3,80.5 382.3,80.0 382.4,79.5 382.4,79.0 382.5,78.5 382.5,78.0 382.5,77.5 382.5,77.0 382.5,76.5" fill="#9bd487" stroke="#3a7a2c" stroke-width="1.0" stroke-linejoin="round"/><line x1="379.81" y1="87.50" x2="385.19" y2="87.50" stroke="#5f9f4d" stroke-width="0.5" opacity="0.8"/><line x1="379.39" y1="92.50" x2="385.61" y2="92.50" stroke="#5f9f4d" stroke-width="0.5" opacity="0.8"/><line x1="378.83" y1="89.90" x2="386.17" y2="89.90" stroke="#3db03a" stroke-width="1.2"/><polygon points="396.0,63.8 396.0,64.3 396.0,64.8 396.0,65.3 396.1,65.8 396.2,66.3 396.3,66.8 396.3,67.3 396.4,67.8 396.4,68.3 396.5,68.8 396.5,69.3 396.6,69.8 396.6,70.3 396.7,70.8 396.8,71.3 396.9,71.8 397.0,72.3 397.1,72.8 397.2,73.3 397.4,73.8 397.5,74.3 397.6,74.8 397.7,75.3 397.9,75.8 398.0,76.3 398.1,76.8 398.2,77.3 398.4,77.8 398.5,78.3 398.6,78.8 398.8,79.3 399.0,79.8 399.1,80.3 399.3,80.8 399.4,81.3 399.5,81.8 399.6,82.3 399.7,82.8 399.8,83.3 399.9,83.8 399.9,84.3 399.9,84.8 399.9,85.3 399.8,85.8 399.7,86.3 399.7,86.8 399.6,87.3 399.5,87.8 399.4,88.3 399.3,88.8 399.2,89.3 399.0,89.8 398.8,90.3 398.7,90.8 398.5,91.3 398.3,91.8 398.1,92.3 397.8,92.8 397.5,93.3 397.2,93.8 396.9,94.3 396.7,94.8 396.5,95.3 396.5,95.8 396.4,96.3 396.3,96.8 396.2,97.3 396.2,97.8 396.1,98.3 396.0,98.8 396.0,99.3 396.0,99.8 396.0,100.3 396.0,100.7 396.0,100.7 396.0,100.3 396.0,99.8 396.0,99.3 396.0,98.8 395.9,98.3 395.8,97.8 395.8,97.3 395.7,96.8 395.6,96.3 395.5,95.8 395.5,95.3 395.3,94.8 395.1,94.3 394.8,93.8 394.5,93.3 394.2,92.8 393.9,92.3 393.7,91.8 393.5,91.3 393.3,90.8 393.2,90.3 393.0,89.8 392.8,89.3 392.7,88.8 392.6,88.3 392.5,87.8 392.4,87.3 392.3,86.8 392.3,86.3 392.2,85.8 392.1,85.3 392.1,84.8 392.1,84.3 392.1,83.8 392.2,83.3 392.3,82.8 392.4,82.3 392.5,81.8 392.6,81.3 392.7,80.8 392.9,80.3 393.0,79.8 393.2,79.3 393.4,78.8 393.5,78.3 393.6,77.8 393.8,77.3 393.9,76.8 394.0,76.3 394.1,75.8 394.3,75.3 394.4,74.8 394.5,74.3 394.6,73.8 394.8,73.3 394.9,72.8 395.0,72.3 395.1,71.8 395.2,71.3 395.3,70.8 395.4,70.3 395.4,69.8 395.5,69.3 395.5,68.8 395.6,68.3 395.6,67.8 395.7,67.3 395.7,66.8 395.8,66.3 395.9,65.8 396.0,65.3 396.0,64.8 396.0,64.3 396.0,63.8" fill="#3bbaee" stroke="#15729f" stroke-width="1.0" stroke-linejoin="round"/><line x1="392.98" y1="80.00" x2="399.02" y2="80.00" stroke="#2a8fc5" stroke-width="0.5" opacity="0.8"/><line x1="393.06" y1="90.00" x2="398.94" y2="90.00" stroke="#2a8fc5" stroke-width="0.5" opacity="0.8"/><line x1="392.13" y1="85.20" x2="399.87" y2="85.20" stroke="#1a8fd0" stroke-width="1.2"/><polygon points="409.5,64.1 409.5,64.6 409.5,65.1 409.7,65.6 409.8,66.1 409.9,66.6 410.1,67.1 410.2,67.6 410.3,68.1 410.4,68.6 410.5,69.1 410.6,69.6 410.8,70.1 410.9,70.6 411.0,71.1 411.2,71.6 411.3,72.1 411.4,72.6 411.6,73.1 411.7,73.6 411.9,74.1 412.0,74.6 412.1,75.1 412.3,75.6 412.4,76.1 412.5,76.6 412.7,77.1 412.8,77.6 413.0,78.1 413.1,78.6 413.3,79.1 413.3,79.6 413.4,80.1 413.4,80.6 413.4,81.1 413.3,81.6 413.2,82.1 413.2,82.6 413.1,83.1 412.9,83.6 412.8,84.1 412.7,84.6 412.6,85.1 412.5,85.6 412.4,86.1 412.3,86.6 412.2,87.1 412.0,87.6 411.9,88.1 411.7,88.6 411.6,89.1 411.5,89.6 411.3,90.1 411.2,90.6 411.0,91.1 410.8,91.6 410.7,92.1 410.5,92.6 410.3,93.1 410.2,93.6 410.1,94.1 410.0,94.6 410.0,95.1 409.9,95.6 409.9,96.1 409.8,96.6 409.8,97.1 409.7,97.6 409.6,98.1 409.6,98.6 409.5,99.1 409.5,99.6 409.5,100.1 409.5,100.6 409.5,101.1 409.5,101.4 409.5,101.4 409.5,101.1 409.5,100.6 409.5,100.1 409.5,99.6 409.5,99.1 409.4,98.6 409.4,98.1 409.3,97.6 409.2,97.1 409.2,96.6 409.1,96.1 409.1,95.6 409.0,95.1 409.0,94.6 408.9,94.1 408.8,93.6 408.7,93.1 408.5,92.6 408.3,92.1 408.2,91.6 408.0,91.1 407.8,90.6 407.7,90.1 407.5,89.6 407.4,89.1 407.3,88.6 407.1,88.1 407.0,87.6 406.8,87.1 406.7,86.6 406.6,86.1 406.5,85.6 406.4,85.1 406.3,84.6 406.2,84.1 406.1,83.6 405.9,83.1 405.8,82.6 405.8,82.1 405.7,81.6 405.6,81.1 405.6,80.6 405.6,80.1 405.7,79.6 405.7,79.1 405.9,78.6 406.0,78.1 406.2,77.6 406.3,77.1 406.5,76.6 406.6,76.1 406.7,75.6 406.9,75.1 407.0,74.6 407.1,74.1 407.3,73.6 407.4,73.1 407.6,72.6 407.7,72.1 407.8,71.6 408.0,71.1 408.1,70.6 408.2,70.1 408.4,69.6 408.5,69.1 408.6,68.6 408.7,68.1 408.8,67.6 408.9,67.1 409.1,66.6 409.2,66.1 409.3,65.6 409.5,65.1 409.5,64.6 409.5,64.1" fill="#fbd97b" stroke="#967818" stroke-width="1.0" stroke-linejoin="round"/><line x1="406.89" y1="75.00" x2="412.11" y2="75.00" stroke="#c09030" stroke-width="0.5" opacity="0.8"/><line x1="406.57" y1="86.00" x2="412.43" y2="86.00" stroke="#c09030" stroke-width="0.5" opacity="0.8"/><line x1="405.60" y1="80.30" x2="413.40" y2="80.30" stroke="#f5bd00" stroke-width="1.2"/><polygon points="423.1,51.4 423.1,51.9 423.1,52.4 423.1,52.9 423.1,53.4 423.1,53.9 423.1,54.4 423.1,54.9 423.1,55.4 423.1,55.9 423.2,56.4 423.2,56.9 423.3,57.4 423.3,57.9 423.3,58.4 423.4,58.9 423.4,59.4 423.4,59.9 423.5,60.4 423.5,60.9 423.5,61.4 423.5,61.9 423.6,62.4 423.6,62.9 423.6,63.4 423.7,63.9 423.7,64.4 423.8,64.9 423.8,65.4 423.9,65.9 424.0,66.4 424.0,66.9 424.1,67.4 424.2,67.9 424.2,68.4 424.3,68.9 424.4,69.4 424.5,69.9 424.6,70.4 424.7,70.9 424.8,71.4 424.9,71.9 425.0,72.4 425.1,72.9 425.2,73.4 425.3,73.9 425.4,74.4 425.6,74.9 425.7,75.4 425.8,75.9 426.0,76.4 426.2,76.9 426.3,77.4 426.5,77.9 426.7,78.4 426.8,78.9 426.9,79.4 427.0,79.9 427.0,80.4 427.0,80.9 426.9,81.4 426.7,81.9 426.6,82.4 426.4,82.9 426.2,83.4 426.1,83.9 425.9,84.4 425.8,84.9 425.7,85.4 425.7,85.9 425.7,86.4 425.8,86.9 425.9,87.4 426.0,87.9 426.0,88.4 425.8,88.9 425.6,89.4 425.3,89.9 425.0,90.4 424.7,90.9 424.4,91.4 424.2,91.9 424.1,92.4 423.9,92.9 423.8,93.4 423.7,93.9 423.6,94.4 423.5,94.9 423.4,95.4 423.3,95.9 423.3,96.4 423.2,96.9 423.1,97.4 423.1,97.9 423.1,98.4 423.1,98.9 423.1,99.4 423.1,99.9 423.1,100.4 423.1,100.7 423.1,100.7 423.1,100.4 423.1,99.9 423.1,99.4 423.1,98.9 423.1,98.4 423.1,97.9 423.1,97.4 423.0,96.9 422.9,96.4 422.9,95.9 422.8,95.4 422.7,94.9 422.6,94.4 422.5,93.9 422.4,93.4 422.3,92.9 422.1,92.4 422.0,91.9 421.8,91.4 421.5,90.9 421.2,90.4 420.9,89.9 420.6,89.4 420.4,88.9 420.2,88.4 420.2,87.9 420.3,87.4 420.4,86.9 420.5,86.4 420.5,85.9 420.5,85.4 420.4,84.9 420.3,84.4 420.1,83.9 420.0,83.4 419.8,82.9 419.6,82.4 419.5,81.9 419.3,81.4 419.2,80.9 419.2,80.4 419.2,79.9 419.3,79.4 419.4,78.9 419.5,78.4 419.7,77.9 419.9,77.4 420.0,76.9 420.2,76.4 420.4,75.9 420.5,75.4 420.6,74.9 420.8,74.4 420.9,73.9 421.0,73.4 421.1,72.9 421.2,72.4 421.3,71.9 421.4,71.4 421.5,70.9 421.6,70.4 421.7,69.9 421.8,69.4 421.9,68.9 422.0,68.4 422.0,67.9 422.1,67.4 422.2,66.9 422.2,66.4 422.3,65.9 422.4,65.4 422.4,64.9 422.5,64.4 422.5,63.9 422.6,63.4 422.6,62.9 422.6,62.4 422.7,61.9 422.7,61.4 422.7,60.9 422.7,60.4 422.8,59.9 422.8,59.4 422.8,58.9 422.9,58.4 422.9,57.9 422.9,57.4 423.0,56.9 423.0,56.4 423.1,55.9 423.1,55.4 423.1,54.9 423.1,54.4 423.1,53.9 423.1,53.4 423.1,52.9 423.1,52.4 423.1,51.9 423.1,51.4" fill="#f78d8d" stroke="#b02626" stroke-width="1.0" stroke-linejoin="round"/><line x1="420.60" y1="75.00" x2="425.60" y2="75.00" stroke="#d04c4c" stroke-width="0.5" opacity="0.8"/><line x1="420.49" y1="86.00" x2="425.71" y2="86.00" stroke="#d04c4c" stroke-width="0.5" opacity="0.8"/><line x1="419.20" y1="80.30" x2="427.00" y2="80.30" stroke="#f01010" stroke-width="1.2"/><polygon points="436.6,54.9 436.6,55.4 436.6,55.9 436.6,56.4 436.6,56.9 436.6,57.4 436.6,57.9 436.7,58.4 436.8,58.9 436.8,59.4 436.9,59.9 437.0,60.4 437.0,60.9 437.1,61.4 437.1,61.9 437.2,62.4 437.2,62.9 437.3,63.4 437.4,63.9 437.4,64.4 437.5,64.9 437.6,65.4 437.7,65.9 437.7,66.4 437.8,66.9 437.9,67.4 438.0,67.9 438.1,68.4 438.2,68.9 438.2,69.4 438.3,69.9 438.4,70.4 438.5,70.9 438.6,71.4 438.7,71.9 438.8,72.4 439.0,72.9 439.1,73.4 439.3,73.9 439.5,74.4 439.6,74.9 439.8,75.4 440.0,75.9 440.1,76.4 440.2,76.9 440.3,77.4 440.4,77.9 440.5,78.4 440.5,78.9 440.5,79.4 440.4,79.9 440.3,80.4 440.2,80.9 440.0,81.4 439.9,81.9 439.7,82.4 439.5,82.9 439.3,83.4 439.1,83.9 438.9,84.4 438.7,84.9 438.4,85.4 438.2,85.9 438.0,86.4 437.9,86.9 437.7,87.4 437.5,87.9 437.3,88.4 437.2,88.9 437.1,89.4 437.1,89.9 437.0,90.4 436.9,90.9 436.9,91.4 436.8,91.9 436.7,92.4 436.7,92.9 436.6,93.4 436.6,93.9 436.6,94.4 436.6,94.9 436.6,95.4 436.6,95.9 436.6,96.4 436.6,96.5 436.6,96.5 436.6,96.4 436.6,95.9 436.6,95.4 436.6,94.9 436.6,94.4 436.6,93.9 436.6,93.4 436.5,92.9 436.5,92.4 436.4,91.9 436.3,91.4 436.3,90.9 436.2,90.4 436.1,89.9 436.1,89.4 436.0,88.9 435.9,88.4 435.7,87.9 435.5,87.4 435.3,86.9 435.2,86.4 435.0,85.9 434.8,85.4 434.5,84.9 434.3,84.4 434.1,83.9 433.9,83.4 433.7,82.9 433.5,82.4 433.3,81.9 433.2,81.4 433.0,80.9 432.9,80.4 432.8,79.9 432.7,79.4 432.7,78.9 432.7,78.4 432.8,77.9 432.9,77.4 433.0,76.9 433.1,76.4 433.2,75.9 433.4,75.4 433.6,74.9 433.7,74.4 433.9,73.9 434.1,73.4 434.2,72.9 434.4,72.4 434.5,71.9 434.6,71.4 434.7,70.9 434.8,70.4 434.9,69.9 435.0,69.4 435.0,68.9 435.1,68.4 435.2,67.9 435.3,67.4 435.4,66.9 435.5,66.4 435.5,65.9 435.6,65.4 435.7,64.9 435.8,64.4 435.8,63.9 435.9,63.4 436.0,62.9 436.0,62.4 436.1,61.9 436.1,61.4 436.2,60.9 436.2,60.4 436.3,59.9 436.4,59.4 436.4,58.9 436.5,58.4 436.6,57.9 436.6,57.4 436.6,56.9 436.6,56.4 436.6,55.9 436.6,55.4 436.6,54.9" fill="#e190e3" stroke="#7a177b" stroke-width="1.0" stroke-linejoin="round"/><line x1="433.88" y1="74.00" x2="439.32" y2="74.00" stroke="#b050b2" stroke-width="0.5" opacity="0.8"/><line x1="434.58" y1="85.00" x2="438.62" y2="85.00" stroke="#b050b2" stroke-width="0.5" opacity="0.8"/><line x1="432.76" y1="79.60" x2="440.44" y2="79.60" stroke="#c010c0" stroke-width="1.2"/><text x="69" y="161.7" font-size="12.3" font-weight="bold" stroke="#000" stroke-width="0.6">E</text><text x="112.40" y="161.6" font-size="10" font-weight="bold" text-anchor="middle" stroke="#000" stroke-width="0.4" textLength="30.60" lengthAdjust="spacingAndGlyphs">DHX58</text><line x1="76.1" y1="188.5" x2="76.1" y2="260.3" stroke="#7a7a7a" stroke-width="0.9"/><line x1="73.5" y1="260.3" x2="148.79999999999998" y2="260.3" stroke="#7a7a7a" stroke-width="0.9"/><line x1="73.5" y1="188.50" x2="76.1" y2="188.50" stroke="#7a7a7a" stroke-width="0.9"/><text x="72.50" y="190.70" font-size="6.0" font-weight="bold" text-anchor="end" fill="#111" stroke="#111" stroke-width="0.3">10</text><line x1="73.5" y1="202.86" x2="76.1" y2="202.86" stroke="#7a7a7a" stroke-width="0.9"/><text x="72.50" y="205.06" font-size="6.0" font-weight="bold" text-anchor="end" fill="#111" stroke="#111" stroke-width="0.3">8</text><line x1="73.5" y1="217.22" x2="76.1" y2="217.22" stroke="#7a7a7a" stroke-width="0.9"/><text x="72.50" y="219.42" font-size="6.0" font-weight="bold" text-anchor="end" fill="#111" stroke="#111" stroke-width="0.3">6</text><line x1="73.5" y1="231.58" x2="76.1" y2="231.58" stroke="#7a7a7a" stroke-width="0.9"/><text x="72.50" y="233.78" font-size="6.0" font-weight="bold" text-anchor="end" fill="#111" stroke="#111" stroke-width="0.3">4</text><line x1="73.5" y1="245.94" x2="76.1" y2="245.94" stroke="#7a7a7a" stroke-width="0.9"/><text x="72.50" y="248.14" font-size="6.0" font-weight="bold" text-anchor="end" fill="#111" stroke="#111" stroke-width="0.3">2</text><line x1="73.5" y1="260.30" x2="76.1" y2="260.30" stroke="#7a7a7a" stroke-width="0.9"/><text x="72.50" y="262.50" font-size="6.0" font-weight="bold" text-anchor="end" fill="#111" stroke="#111" stroke-width="0.3">0</text><line x1="85.2" y1="260.3" x2="85.2" y2="262.7" stroke="#7a7a7a" stroke-width="0.9"/><line x1="98.7" y1="260.3" x2="98.7" y2="262.7" stroke="#7a7a7a" stroke-width="0.9"/><line x1="112.2" y1="260.3" x2="112.2" y2="262.7" stroke="#7a7a7a" stroke-width="0.9"/><line x1="125.7" y1="260.3" x2="125.7" y2="262.7" stroke="#7a7a7a" stroke-width="0.9"/><line x1="139.2" y1="260.3" x2="139.2" y2="262.7" stroke="#7a7a7a" stroke-width="0.9"/><text transform="translate(86.60,266.70) rotate(-45)" font-size="6.0" font-weight="bold" text-anchor="end" fill="#222" stroke="#222" stroke-width="0.2">Normal</text><text transform="translate(100.10,266.70) rotate(-45)" font-size="6.0" font-weight="bold" text-anchor="end" fill="#222" stroke="#222" stroke-width="0.2">LumA</text><text transform="translate(113.60,266.70) rotate(-45)" font-size="6.0" font-weight="bold" text-anchor="end" fill="#222" stroke="#222" stroke-width="0.2">LumB</text><text transform="translate(127.10,266.70) rotate(-45)" font-size="6.0" font-weight="bold" text-anchor="end" fill="#222" stroke="#222" stroke-width="0.2">Her2</text><text transform="translate(140.60,266.70) rotate(-45)" font-size="6.0" font-weight="bold" text-anchor="end" fill="#222" stroke="#222" stroke-width="0.2">Basal</text><text transform="translate(63.60,223.50) rotate(-90)" font-size="7.8" font-weight="bold" text-anchor="middle" fill="#111" stroke="#111" stroke-width="0.3" textLength="48.6" lengthAdjust="spacingAndGlyphs">log<tspan font-size="5.2" dy="1.6">2</tspan><tspan dy="-1.6">(TPM+1)</tspan></text><line x1="98.7" y1="187.2" x2="139.2" y2="187.2" stroke="#8c8c8c" stroke-width="0.9"/><rect x="116.27" y="183.90" width="5.35" height="1.5" fill="#2a2a2a" rx="0.4"/><line x1="98.7" y1="192.5" x2="125.7" y2="192.5" stroke="#8c8c8c" stroke-width="0.9"/><rect x="108.65" y="189.20" width="7.10" height="1.5" fill="#2a2a2a" rx="0.4"/><line x1="85.2" y1="197.7" x2="110.7" y2="197.7" stroke="#8c8c8c" stroke-width="0.9"/><rect x="94.40" y="194.40" width="7.10" height="1.5" fill="#2a2a2a" rx="0.4"/><line x1="113.7" y1="197.7" x2="139.2" y2="197.7" stroke="#8c8c8c" stroke-width="0.9"/><rect x="122.90" y="194.40" width="7.10" height="1.5" fill="#2a2a2a" rx="0.4"/><line x1="85.2" y1="203.3" x2="98.7" y2="203.3" stroke="#8c8c8c" stroke-width="0.9"/><rect x="88.40" y="200.00" width="7.10" height="1.5" fill="#2a2a2a" rx="0.4"/><line x1="112.2" y1="203.3" x2="125.7" y2="203.3" stroke="#8c8c8c" stroke-width="0.9"/><rect x="115.40" y="200.00" width="7.10" height="1.5" fill="#2a2a2a" rx="0.4"/><polygon points="85.2,217.0 85.2,217.5 85.2,218.0 85.2,218.5 85.3,219.0 85.3,219.5 85.4,220.0 85.4,220.5 85.4,221.0 85.4,221.5 85.4,222.0 85.4,222.5 85.5,223.0 85.5,223.5 85.6,224.0 85.8,224.5 86.1,225.0 86.4,225.5 86.7,226.0 87.0,226.5 87.3,227.0 87.7,227.5 88.1,228.0 88.4,228.5 88.6,229.0 88.6,229.5 88.5,230.0 88.4,230.5 88.3,231.0 88.1,231.5 87.8,232.0 87.3,232.5 86.9,233.0 86.6,233.5 86.4,234.0 86.1,234.5 85.9,235.0 85.7,235.5 85.6,236.0 85.6,236.5 85.5,237.0 85.5,237.5 85.5,238.0 85.4,238.5 85.4,239.0 85.4,239.5 85.4,240.0 85.4,240.5 85.4,241.0 85.4,241.5 85.4,242.0 85.4,242.5 85.4,243.0 85.4,243.5 85.4,244.0 85.4,244.5 85.4,245.0 85.4,245.5 85.4,246.0 85.4,246.5 85.4,247.0 85.2,247.5 85.2,247.8 85.2,247.8 85.2,247.5 85.0,247.0 85.0,246.5 85.0,246.0 85.0,245.5 85.0,245.0 85.0,244.5 85.0,244.0 85.0,243.5 85.0,243.0 85.0,242.5 85.0,242.0 85.0,241.5 85.0,241.0 85.0,240.5 85.0,240.0 85.0,239.5 85.0,239.0 85.0,238.5 84.9,238.0 84.9,237.5 84.9,237.0 84.8,236.5 84.8,236.0 84.7,235.5 84.5,235.0 84.3,234.5 84.0,234.0 83.8,233.5 83.5,233.0 83.1,232.5 82.6,232.0 82.3,231.5 82.1,231.0 82.0,230.5 81.9,230.0 81.8,229.5 81.8,229.0 82.0,228.5 82.3,228.0 82.7,227.5 83.1,227.0 83.4,226.5 83.7,226.0 84.0,225.5 84.3,225.0 84.6,224.5 84.8,224.0 84.9,223.5 84.9,223.0 85.0,222.5 85.0,222.0 85.0,221.5 85.0,221.0 85.0,220.5 85.0,220.0 85.1,219.5 85.1,219.0 85.2,218.5 85.2,218.0 85.2,217.5 85.2,217.0" fill="#9bd487" stroke="#3a7a2c" stroke-width="1.0" stroke-linejoin="round"/><line x1="82.69" y1="227.50" x2="87.71" y2="227.50" stroke="#5f9f4d" stroke-width="0.5" opacity="0.8"/><line x1="83.08" y1="232.50" x2="87.32" y2="232.50" stroke="#5f9f4d" stroke-width="0.5" opacity="0.8"/><line x1="81.88" y1="230.10" x2="88.52" y2="230.10" stroke="#3db03a" stroke-width="1.2"/><polygon points="98.7,205.0 98.7,205.5 98.7,206.0 98.7,206.5 98.8,207.0 98.9,207.5 98.9,208.0 98.9,208.5 98.9,209.0 99.0,209.5 99.0,210.0 99.0,210.5 99.0,211.0 99.0,211.5 99.0,212.0 99.0,212.5 99.0,213.0 99.0,213.5 99.0,214.0 99.0,214.5 99.0,215.0 99.1,215.5 99.1,216.0 99.1,216.5 99.2,217.0 99.3,217.5 99.5,218.0 99.6,218.5 99.8,219.0 100.0,219.5 100.3,220.0 100.5,220.5 100.7,221.0 100.9,221.5 101.2,222.0 101.4,222.5 101.7,223.0 101.9,223.5 102.1,224.0 102.3,224.5 102.3,225.0 102.4,225.5 102.4,226.0 102.5,226.5 102.5,227.0 102.5,227.5 102.5,228.0 102.3,228.5 102.1,229.0 101.9,229.5 101.6,230.0 101.4,230.5 101.2,231.0 100.9,231.5 100.7,232.0 100.4,232.5 100.2,233.0 99.9,233.5 99.8,234.0 99.6,234.5 99.5,235.0 99.3,235.5 99.2,236.0 99.1,236.5 99.1,237.0 99.0,237.5 99.0,238.0 98.9,238.5 98.9,239.0 98.9,239.5 98.9,240.0 98.9,240.5 98.9,241.0 98.9,241.5 98.9,242.0 98.9,242.5 98.9,243.0 98.9,243.5 98.9,244.0 98.9,244.5 98.9,245.0 98.9,245.5 98.9,246.0 98.9,246.5 98.9,247.0 98.7,247.5 98.7,247.8 98.7,247.8 98.7,247.5 98.5,247.0 98.5,246.5 98.5,246.0 98.5,245.5 98.5,245.0 98.5,244.5 98.5,244.0 98.5,243.5 98.5,243.0 98.5,242.5 98.5,242.0 98.5,241.5 98.5,241.0 98.5,240.5 98.5,240.0 98.5,239.5 98.5,239.0 98.5,238.5 98.4,238.0 98.4,237.5 98.3,237.0 98.3,236.5 98.2,236.0 98.1,235.5 97.9,235.0 97.8,234.5 97.6,234.0 97.5,233.5 97.2,233.0 97.0,232.5 96.7,232.0 96.5,231.5 96.2,231.0 96.0,230.5 95.8,230.0 95.5,229.5 95.3,229.0 95.1,228.5 94.9,228.0 94.9,227.5 94.9,227.0 94.9,226.5 95.0,226.0 95.0,225.5 95.1,225.0 95.1,224.5 95.3,224.0 95.5,223.5 95.7,223.0 96.0,222.5 96.2,222.0 96.5,221.5 96.7,221.0 96.9,220.5 97.1,220.0 97.4,219.5 97.6,219.0 97.8,218.5 97.9,218.0 98.1,217.5 98.2,217.0 98.3,216.5 98.3,216.0 98.3,215.5 98.4,215.0 98.4,214.5 98.4,214.0 98.4,213.5 98.4,213.0 98.4,212.5 98.4,212.0 98.4,211.5 98.4,211.0 98.4,210.5 98.4,210.0 98.4,209.5 98.5,209.0 98.5,208.5 98.5,208.0 98.5,207.5 98.6,207.0 98.7,206.5 98.7,206.0 98.7,205.5 98.7,205.0" fill="#3bbaee" stroke="#15729f" stroke-width="1.0" stroke-linejoin="round"/><line x1="95.97" y1="222.50" x2="101.43" y2="222.50" stroke="#2a8fc5" stroke-width="0.5" opacity="0.8"/><line x1="96.23" y1="231.00" x2="101.17" y2="231.00" stroke="#2a8fc5" stroke-width="0.5" opacity="0.8"/><line x1="94.92" y1="226.90" x2="102.48" y2="226.90" stroke="#1a8fd0" stroke-width="1.2"/><polygon points="112.2,205.7 112.2,206.2 112.2,206.7 112.3,207.2 112.4,207.7 112.4,208.2 112.4,208.7 112.5,209.2 112.5,209.7 112.5,210.2 112.5,210.7 112.5,211.2 112.5,211.7 112.5,212.2 112.6,212.7 112.6,213.2 112.6,213.7 112.7,214.2 112.9,214.7 113.1,215.2 113.3,215.7 113.5,216.2 113.7,216.7 113.9,217.2 114.1,217.7 114.3,218.2 114.5,218.7 114.7,219.2 114.8,219.7 115.0,220.2 115.2,220.7 115.3,221.2 115.4,221.7 115.5,222.2 115.6,222.7 115.7,223.2 115.8,223.7 115.9,224.2 116.0,224.7 116.1,225.2 116.1,225.7 116.1,226.2 116.1,226.7 116.0,227.2 116.0,227.7 115.9,228.2 115.7,228.7 115.6,229.2 115.5,229.7 115.4,230.2 115.2,230.7 115.1,231.2 114.9,231.7 114.7,232.2 114.5,232.7 114.3,233.2 114.1,233.7 113.9,234.2 113.8,234.7 113.6,235.2 113.5,235.7 113.3,236.2 113.2,236.7 113.1,237.2 113.0,237.7 112.9,238.2 112.8,238.7 112.8,239.2 112.7,239.7 112.7,240.2 112.6,240.7 112.6,241.2 112.6,241.7 112.5,242.2 112.5,242.7 112.5,243.2 112.4,243.7 112.4,244.2 112.3,244.7 112.3,245.2 112.3,245.7 112.2,246.2 112.2,246.7 112.2,247.2 112.2,247.7 112.2,248.2 112.2,248.7 112.2,249.2 112.2,249.7 112.2,250.2 112.2,250.7 112.2,251.2 112.2,251.7 112.2,252.2 112.2,252.7 112.2,252.9 112.2,252.9 112.2,252.7 112.2,252.2 112.2,251.7 112.2,251.2 112.2,250.7 112.2,250.2 112.2,249.7 112.2,249.2 112.2,248.7 112.2,248.2 112.2,247.7 112.2,247.2 112.2,246.7 112.2,246.2 112.1,245.7 112.1,245.2 112.1,244.7 112.0,244.2 112.0,243.7 111.9,243.2 111.9,242.7 111.9,242.2 111.8,241.7 111.8,241.2 111.8,240.7 111.7,240.2 111.7,239.7 111.6,239.2 111.6,238.7 111.5,238.2 111.4,237.7 111.3,237.2 111.2,236.7 111.1,236.2 110.9,235.7 110.8,235.2 110.6,234.7 110.5,234.2 110.3,233.7 110.1,233.2 109.9,232.7 109.7,232.2 109.5,231.7 109.3,231.2 109.2,230.7 109.0,230.2 108.9,229.7 108.8,229.2 108.7,228.7 108.5,228.2 108.4,227.7 108.4,227.2 108.3,226.7 108.3,226.2 108.3,225.7 108.3,225.2 108.4,224.7 108.5,224.2 108.6,223.7 108.7,223.2 108.8,222.7 108.9,222.2 109.0,221.7 109.1,221.2 109.2,220.7 109.4,220.2 109.6,219.7 109.7,219.2 109.9,218.7 110.1,218.2 110.3,217.7 110.5,217.2 110.7,216.7 110.9,216.2 111.1,215.7 111.3,215.2 111.5,214.7 111.7,214.2 111.8,213.7 111.8,213.2 111.8,212.7 111.9,212.2 111.9,211.7 111.9,211.2 111.9,210.7 111.9,210.2 111.9,209.7 111.9,209.2 112.0,208.7 112.0,208.2 112.0,207.7 112.1,207.2 112.2,206.7 112.2,206.2 112.2,205.7" fill="#fbd97b" stroke="#967818" stroke-width="1.0" stroke-linejoin="round"/><line x1="109.29" y1="220.50" x2="115.11" y2="220.50" stroke="#c09030" stroke-width="0.5" opacity="0.8"/><line x1="109.63" y1="232.00" x2="114.77" y2="232.00" stroke="#c09030" stroke-width="0.5" opacity="0.8"/><line x1="108.30" y1="226.20" x2="116.10" y2="226.20" stroke="#f5bd00" stroke-width="1.2"/><polygon points="125.7,206.7 125.7,207.2 125.7,207.7 125.7,208.2 125.7,208.7 125.7,209.2 125.8,209.7 125.8,210.2 125.8,210.7 125.8,211.2 125.9,211.7 125.9,212.2 125.9,212.7 125.9,213.2 125.9,213.7 125.9,214.2 125.9,214.7 125.9,215.2 125.9,215.7 125.9,216.2 125.9,216.7 125.9,217.2 125.9,217.7 125.9,218.2 125.9,218.7 126.0,219.2 126.0,219.7 126.0,220.2 126.0,220.7 126.1,221.2 126.3,221.7 126.5,222.2 126.7,222.7 127.0,223.2 127.2,223.7 127.4,224.2 127.6,224.7 127.8,225.2 127.9,225.7 128.1,226.2 128.3,226.7 128.5,227.2 128.6,227.7 128.8,228.2 128.9,228.7 129.0,229.2 129.2,229.7 129.3,230.2 129.4,230.7 129.5,231.2 129.6,231.7 129.6,232.2 129.6,232.7 129.6,233.2 129.5,233.7 129.3,234.2 129.2,234.7 129.0,235.2 128.9,235.7 128.7,236.2 128.6,236.7 128.3,237.2 128.1,237.7 127.9,238.2 127.6,238.7 127.4,239.2 127.2,239.7 127.0,240.2 126.8,240.7 126.6,241.2 126.4,241.7 126.3,242.2 126.1,242.7 126.1,243.2 126.0,243.7 126.0,244.2 126.0,244.7 126.0,245.2 125.9,245.7 125.9,246.2 125.8,246.7 125.8,247.2 125.7,247.7 125.7,248.2 125.7,248.7 125.7,249.2 125.7,249.7 125.7,250.1 125.7,250.1 125.7,249.7 125.7,249.2 125.7,248.7 125.7,248.2 125.7,247.7 125.6,247.2 125.6,246.7 125.5,246.2 125.5,245.7 125.4,245.2 125.4,244.7 125.4,244.2 125.4,243.7 125.3,243.2 125.3,242.7 125.1,242.2 125.0,241.7 124.8,241.2 124.6,240.7 124.4,240.2 124.2,239.7 124.0,239.2 123.8,238.7 123.5,238.2 123.3,237.7 123.1,237.2 122.8,236.7 122.7,236.2 122.5,235.7 122.4,235.2 122.2,234.7 122.1,234.2 121.9,233.7 121.8,233.2 121.8,232.7 121.8,232.2 121.8,231.7 121.9,231.2 122.0,230.7 122.1,230.2 122.2,229.7 122.4,229.2 122.5,228.7 122.6,228.2 122.8,227.7 122.9,227.2 123.1,226.7 123.3,226.2 123.5,225.7 123.6,225.2 123.8,224.7 124.0,224.2 124.2,223.7 124.4,223.2 124.7,222.7 124.9,222.2 125.1,221.7 125.3,221.2 125.4,220.7 125.4,220.2 125.4,219.7 125.4,219.2 125.5,218.7 125.5,218.2 125.5,217.7 125.5,217.2 125.5,216.7 125.5,216.2 125.5,215.7 125.5,215.2 125.5,214.7 125.5,214.2 125.5,213.7 125.5,213.2 125.5,212.7 125.5,212.2 125.5,211.7 125.6,211.2 125.6,210.7 125.6,210.2 125.6,209.7 125.7,209.2 125.7,208.7 125.7,208.2 125.7,207.7 125.7,207.2 125.7,206.7" fill="#f78d8d" stroke="#b02626" stroke-width="1.0" stroke-linejoin="round"/><line x1="122.83" y1="227.50" x2="128.57" y2="227.50" stroke="#d04c4c" stroke-width="0.5" opacity="0.8"/><line x1="123.20" y1="237.50" x2="128.20" y2="237.50" stroke="#d04c4c" stroke-width="0.5" opacity="0.8"/><line x1="121.81" y1="232.50" x2="129.59" y2="232.50" stroke="#f01010" stroke-width="1.2"/><polygon points="139.2,205.7 139.2,206.2 139.2,206.7 139.3,207.2 139.4,207.7 139.4,208.2 139.4,208.7 139.5,209.2 139.5,209.7 139.5,210.2 139.5,210.7 139.5,211.2 139.5,211.7 139.5,212.2 139.5,212.7 139.5,213.2 139.5,213.7 139.5,214.2 139.5,214.7 139.6,215.2 139.6,215.7 139.6,216.2 139.6,216.7 139.7,217.2 139.8,217.7 139.9,218.2 140.1,218.7 140.2,219.2 140.4,219.7 140.5,220.2 140.7,220.7 140.8,221.2 140.9,221.7 141.1,222.2 141.2,222.7 141.3,223.2 141.5,223.7 141.6,224.2 141.8,224.7 141.9,225.2 142.0,225.7 142.1,226.2 142.3,226.7 142.4,227.2 142.5,227.7 142.6,228.2 142.7,228.7 142.8,229.2 142.9,229.7 143.0,230.2 143.1,230.7 143.1,231.2 143.2,231.7 143.2,232.2 143.2,232.7 143.2,233.2 143.1,233.7 143.0,234.2 143.0,234.7 142.8,235.2 142.7,235.7 142.6,236.2 142.5,236.7 142.3,237.2 142.2,237.7 142.1,238.2 141.9,238.7 141.7,239.2 141.5,239.7 141.3,240.2 141.1,240.7 141.0,241.2 140.8,241.7 140.6,242.2 140.5,242.7 140.3,243.2 140.1,243.7 140.0,244.2 139.8,244.7 139.7,245.2 139.6,245.7 139.6,246.2 139.5,246.7 139.5,247.2 139.5,247.7 139.5,248.2 139.5,248.7 139.4,249.2 139.4,249.7 139.4,250.2 139.4,250.7 139.3,251.2 139.3,251.7 139.2,252.2 139.2,252.7 139.2,253.2 139.2,253.7 139.2,254.2 139.2,254.7 139.2,255.2 139.2,255.7 139.2,256.2 139.2,256.7 139.2,257.2 139.2,257.2 139.2,256.7 139.2,256.2 139.2,255.7 139.2,255.2 139.2,254.7 139.2,254.2 139.2,253.7 139.2,253.2 139.2,252.7 139.2,252.2 139.1,251.7 139.1,251.2 139.0,250.7 139.0,250.2 139.0,249.7 139.0,249.2 138.9,248.7 138.9,248.2 138.9,247.7 138.9,247.2 138.9,246.7 138.8,246.2 138.8,245.7 138.7,245.2 138.6,244.7 138.4,244.2 138.3,243.7 138.1,243.2 137.9,242.7 137.8,242.2 137.6,241.7 137.4,241.2 137.3,240.7 137.1,240.2 136.9,239.7 136.7,239.2 136.5,238.7 136.3,238.2 136.2,237.7 136.1,237.2 135.9,236.7 135.8,236.2 135.7,235.7 135.6,235.2 135.4,234.7 135.4,234.2 135.3,233.7 135.2,233.2 135.2,232.7 135.2,232.2 135.2,231.7 135.3,231.2 135.3,230.7 135.4,230.2 135.5,229.7 135.6,229.2 135.7,228.7 135.8,228.2 135.9,227.7 136.0,227.2 136.1,226.7 136.3,226.2 136.4,225.7 136.5,225.2 136.6,224.7 136.8,224.2 136.9,223.7 137.1,223.2 137.2,222.7 137.3,222.2 137.5,221.7 137.6,221.2 137.7,220.7 137.9,220.2 138.0,219.7 138.2,219.2 138.3,218.7 138.5,218.2 138.6,217.7 138.7,217.2 138.8,216.7 138.8,216.2 138.8,215.7 138.8,215.2 138.9,214.7 138.9,214.2 138.9,213.7 138.9,213.2 138.9,212.7 138.9,212.2 138.9,211.7 138.9,211.2 138.9,210.7 138.9,210.2 138.9,209.7 138.9,209.2 139.0,208.7 139.0,208.2 139.0,207.7 139.1,207.2 139.2,206.7 139.2,206.2 139.2,205.7" fill="#e190e3" stroke="#7a177b" stroke-width="1.0" stroke-linejoin="round"/><line x1="136.18" y1="226.50" x2="142.22" y2="226.50" stroke="#b050b2" stroke-width="0.5" opacity="0.8"/><line x1="136.61" y1="239.00" x2="141.79" y2="239.00" stroke="#b050b2" stroke-width="0.5" opacity="0.8"/><line x1="135.23" y1="233.20" x2="143.17" y2="233.20" stroke="#c010c0" stroke-width="1.2"/><text x="167.4" y="161.7" font-size="12.3" font-weight="bold" stroke="#000" stroke-width="0.6">F</text><text x="211.20" y="161.6" font-size="10" font-weight="bold" text-anchor="middle" stroke="#000" stroke-width="0.4" textLength="19.20" lengthAdjust="spacingAndGlyphs">MX1</text><line x1="175.4" y1="188.5" x2="175.4" y2="260.4" stroke="#7a7a7a" stroke-width="0.9"/><line x1="172.8" y1="260.4" x2="247.79999999999998" y2="260.4" stroke="#7a7a7a" stroke-width="0.9"/><line x1="172.8" y1="188.50" x2="175.4" y2="188.50" stroke="#7a7a7a" stroke-width="0.9"/><text x="171.80" y="190.70" font-size="6.0" font-weight="bold" text-anchor="end" fill="#111" stroke="#111" stroke-width="0.3">15</text><line x1="172.8" y1="212.47" x2="175.4" y2="212.47" stroke="#7a7a7a" stroke-width="0.9"/><text x="171.80" y="214.67" font-size="6.0" font-weight="bold" text-anchor="end" fill="#111" stroke="#111" stroke-width="0.3">10</text><line x1="172.8" y1="236.43" x2="175.4" y2="236.43" stroke="#7a7a7a" stroke-width="0.9"/><text x="171.80" y="238.63" font-size="6.0" font-weight="bold" text-anchor="end" fill="#111" stroke="#111" stroke-width="0.3">5</text><line x1="172.8" y1="260.40" x2="175.4" y2="260.40" stroke="#7a7a7a" stroke-width="0.9"/><text x="171.80" y="262.60" font-size="6.0" font-weight="bold" text-anchor="end" fill="#111" stroke="#111" stroke-width="0.3">0</text><line x1="184.2" y1="260.4" x2="184.2" y2="262.79999999999995" stroke="#7a7a7a" stroke-width="0.9"/><line x1="197.7" y1="260.4" x2="197.7" y2="262.79999999999995" stroke="#7a7a7a" stroke-width="0.9"/><line x1="211.2" y1="260.4" x2="211.2" y2="262.79999999999995" stroke="#7a7a7a" stroke-width="0.9"/><line x1="224.7" y1="260.4" x2="224.7" y2="262.79999999999995" stroke="#7a7a7a" stroke-width="0.9"/><line x1="238.2" y1="260.4" x2="238.2" y2="262.79999999999995" stroke="#7a7a7a" stroke-width="0.9"/><text transform="translate(185.60,266.80) rotate(-45)" font-size="6.0" font-weight="bold" text-anchor="end" fill="#222" stroke="#222" stroke-width="0.2">Normal</text><text transform="translate(199.10,266.80) rotate(-45)" font-size="6.0" font-weight="bold" text-anchor="end" fill="#222" stroke="#222" stroke-width="0.2">LumA</text><text transform="translate(212.60,266.80) rotate(-45)" font-size="6.0" font-weight="bold" text-anchor="end" fill="#222" stroke="#222" stroke-width="0.2">LumB</text><text transform="translate(226.10,266.80) rotate(-45)" font-size="6.0" font-weight="bold" text-anchor="end" fill="#222" stroke="#222" stroke-width="0.2">Her2</text><text transform="translate(239.60,266.80) rotate(-45)" font-size="6.0" font-weight="bold" text-anchor="end" fill="#222" stroke="#222" stroke-width="0.2">Basal</text><text transform="translate(161.90,223.55) rotate(-90)" font-size="7.8" font-weight="bold" text-anchor="middle" fill="#111" stroke="#111" stroke-width="0.3" textLength="48.6" lengthAdjust="spacingAndGlyphs">log<tspan font-size="5.2" dy="1.6">2</tspan><tspan dy="-1.6">(TPM+1)</tspan></text><line x1="197.7" y1="185.5" x2="238.2" y2="185.5" stroke="#8c8c8c" stroke-width="0.9"/><rect x="214.40" y="182.20" width="7.10" height="1.5" fill="#2a2a2a" rx="0.4"/><line x1="184.2" y1="190.5" x2="238.2" y2="190.5" stroke="#8c8c8c" stroke-width="0.9"/><rect x="207.65" y="187.20" width="7.10" height="1.5" fill="#2a2a2a" rx="0.4"/><line x1="184.2" y1="196" x2="211.2" y2="196" stroke="#8c8c8c" stroke-width="0.9"/><rect x="194.15" y="192.70" width="7.10" height="1.5" fill="#2a2a2a" rx="0.4"/><line x1="184.2" y1="201.4" x2="224.7" y2="201.4" stroke="#8c8c8c" stroke-width="0.9"/><rect x="201.77" y="198.10" width="5.35" height="1.5" fill="#2a2a2a" rx="0.4"/><line x1="184.2" y1="206.6" x2="196.2" y2="206.6" stroke="#8c8c8c" stroke-width="0.9"/><rect x="186.65" y="203.30" width="7.10" height="1.5" fill="#2a2a2a" rx="0.4"/><line x1="199.2" y1="206.6" x2="211.2" y2="206.6" stroke="#8c8c8c" stroke-width="0.9"/><rect x="201.65" y="203.30" width="7.10" height="1.5" fill="#2a2a2a" rx="0.4"/><line x1="224.7" y1="206.6" x2="238.2" y2="206.6" stroke="#8c8c8c" stroke-width="0.9"/><rect x="229.65" y="203.30" width="3.60" height="1.5" fill="#2a2a2a" rx="0.4"/><polygon points="184.2,225.1 184.2,225.6 184.2,226.1 184.2,226.6 184.2,227.1 184.3,227.6 184.3,228.1 184.3,228.6 184.3,229.1 184.3,229.6 184.3,230.1 184.4,230.6 184.4,231.1 184.4,231.6 184.4,232.1 184.4,232.6 184.5,233.1 184.6,233.6 184.7,234.1 184.9,234.6 185.0,235.1 185.2,235.6 185.4,236.1 185.6,236.6 185.9,237.1 186.2,237.6 186.5,238.1 186.7,238.6 187.0,239.1 187.3,239.6 187.6,240.1 187.8,240.6 187.7,241.1 187.4,241.6 187.0,242.1 186.5,242.6 186.1,243.1 185.6,243.6 185.2,244.1 184.9,244.6 184.8,245.1 184.6,245.6 184.5,246.1 184.4,246.6 184.4,247.1 184.4,247.6 184.4,248.1 184.4,248.6 184.4,249.1 184.4,249.6 184.4,250.1 184.4,250.6 184.4,251.1 184.4,251.6 184.4,252.1 184.4,252.6 184.4,253.1 184.4,253.6 184.4,254.1 184.4,254.6 184.2,255.1 184.2,255.3 184.2,255.3 184.2,255.1 184.0,254.6 184.0,254.1 184.0,253.6 184.0,253.1 184.0,252.6 184.0,252.1 184.0,251.6 184.0,251.1 184.0,250.6 184.0,250.1 184.0,249.6 184.0,249.1 184.0,248.6 184.0,248.1 184.0,247.6 184.0,247.1 184.0,246.6 183.9,246.1 183.8,245.6 183.6,245.1 183.5,244.6 183.2,244.1 182.8,243.6 182.3,243.1 181.9,242.6 181.4,242.1 181.0,241.6 180.7,241.1 180.6,240.6 180.8,240.1 181.1,239.6 181.4,239.1 181.7,238.6 181.9,238.1 182.2,237.6 182.5,237.1 182.8,236.6 183.0,236.1 183.2,235.6 183.4,235.1 183.5,234.6 183.7,234.1 183.8,233.6 183.9,233.1 184.0,232.6 184.0,232.1 184.0,231.6 184.0,231.1 184.0,230.6 184.1,230.1 184.1,229.6 184.1,229.1 184.1,228.6 184.1,228.1 184.1,227.6 184.2,227.1 184.2,226.6 184.2,226.1 184.2,225.6 184.2,225.1" fill="#9bd487" stroke="#3a7a2c" stroke-width="1.0" stroke-linejoin="round"/><line x1="181.43" y1="239.00" x2="186.97" y2="239.00" stroke="#5f9f4d" stroke-width="0.5" opacity="0.8"/><line x1="181.77" y1="242.50" x2="186.63" y2="242.50" stroke="#5f9f4d" stroke-width="0.5" opacity="0.8"/><line x1="180.64" y1="240.80" x2="187.76" y2="240.80" stroke="#3db03a" stroke-width="1.2"/><polygon points="197.7,210.1 197.7,210.6 197.7,211.1 197.7,211.6 197.8,212.1 197.9,212.6 197.9,213.1 197.9,213.6 197.9,214.1 197.9,214.6 197.9,215.1 197.9,215.6 197.9,216.1 197.9,216.6 198.0,217.1 198.0,217.6 198.0,218.1 198.0,218.6 198.0,219.1 198.0,219.6 198.0,220.1 198.0,220.6 198.0,221.1 198.0,221.6 198.1,222.1 198.1,222.6 198.2,223.1 198.3,223.6 198.4,224.1 198.5,224.6 198.6,225.1 198.7,225.6 198.8,226.1 198.9,226.6 199.0,227.1 199.1,227.6 199.2,228.1 199.4,228.6 199.5,229.1 199.6,229.6 199.7,230.1 199.9,230.6 200.0,231.1 200.2,231.6 200.3,232.1 200.5,232.6 200.6,233.1 200.7,233.6 200.9,234.1 201.0,234.6 201.2,235.1 201.3,235.6 201.5,236.1 201.5,236.6 201.6,237.1 201.6,237.6 201.6,238.1 201.6,238.6 201.5,239.1 201.5,239.6 201.4,240.1 201.3,240.6 201.2,241.1 201.0,241.6 200.8,242.1 200.5,242.6 200.1,243.1 199.9,243.6 199.6,244.1 199.3,244.6 198.9,245.1 198.6,245.6 198.4,246.1 198.3,246.6 198.2,247.1 198.1,247.6 198.1,248.1 198.0,248.6 198.0,249.1 197.9,249.6 197.9,250.1 197.8,250.6 197.8,251.1 197.8,251.6 197.7,252.1 197.7,252.6 197.7,253.1 197.7,253.6 197.7,254.1 197.7,254.6 197.7,255.1 197.7,255.6 197.7,256.1 197.7,256.6 197.7,257.1 197.7,257.6 197.7,257.7 197.7,257.7 197.7,257.6 197.7,257.1 197.7,256.6 197.7,256.1 197.7,255.6 197.7,255.1 197.7,254.6 197.7,254.1 197.7,253.6 197.7,253.1 197.7,252.6 197.7,252.1 197.6,251.6 197.6,251.1 197.6,250.6 197.5,250.1 197.5,249.6 197.4,249.1 197.4,248.6 197.3,248.1 197.3,247.6 197.2,247.1 197.1,246.6 197.0,246.1 196.8,245.6 196.5,245.1 196.1,244.6 195.8,244.1 195.5,243.6 195.3,243.1 194.9,242.6 194.6,242.1 194.4,241.6 194.2,241.1 194.1,240.6 194.0,240.1 193.9,239.6 193.9,239.1 193.8,238.6 193.8,238.1 193.8,237.6 193.8,237.1 193.9,236.6 193.9,236.1 194.1,235.6 194.2,235.1 194.4,234.6 194.5,234.1 194.7,233.6 194.8,233.1 194.9,232.6 195.1,232.1 195.2,231.6 195.4,231.1 195.5,230.6 195.7,230.1 195.8,229.6 195.9,229.1 196.0,228.6 196.2,228.1 196.3,227.6 196.4,227.1 196.5,226.6 196.6,226.1 196.7,225.6 196.8,225.1 196.9,224.6 197.0,224.1 197.1,223.6 197.2,223.1 197.3,222.6 197.3,222.1 197.4,221.6 197.4,221.1 197.4,220.6 197.4,220.1 197.4,219.6 197.4,219.1 197.4,218.6 197.4,218.1 197.4,217.6 197.4,217.1 197.5,216.6 197.5,216.1 197.5,215.6 197.5,215.1 197.5,214.6 197.5,214.1 197.5,213.6 197.5,213.1 197.5,212.6 197.6,212.1 197.7,211.6 197.7,211.1 197.7,210.6 197.7,210.1" fill="#3bbaee" stroke="#15729f" stroke-width="1.0" stroke-linejoin="round"/><line x1="194.96" y1="232.50" x2="200.44" y2="232.50" stroke="#2a8fc5" stroke-width="0.5" opacity="0.8"/><line x1="194.57" y1="242.00" x2="200.83" y2="242.00" stroke="#2a8fc5" stroke-width="0.5" opacity="0.8"/><line x1="193.81" y1="237.70" x2="201.59" y2="237.70" stroke="#1a8fd0" stroke-width="1.2"/><polygon points="211.2,207.7 211.2,208.2 211.2,208.7 211.3,209.2 211.4,209.7 211.4,210.2 211.4,210.7 211.4,211.2 211.4,211.7 211.5,212.2 211.5,212.7 211.5,213.2 211.5,213.7 211.5,214.2 211.6,214.7 211.7,215.2 211.8,215.7 211.9,216.2 212.1,216.7 212.2,217.2 212.3,217.7 212.5,218.2 212.6,218.7 212.7,219.2 212.8,219.7 212.7,220.2 212.6,220.7 212.6,221.2 212.7,221.7 212.8,222.2 212.9,222.7 213.1,223.2 213.2,223.7 213.4,224.2 213.5,224.7 213.7,225.2 213.8,225.7 214.0,226.2 214.1,226.7 214.2,227.2 214.3,227.7 214.5,228.2 214.6,228.7 214.7,229.2 214.8,229.7 214.9,230.2 215.0,230.7 215.1,231.2 215.1,231.7 215.1,232.2 215.1,232.7 215.1,233.2 215.1,233.7 215.1,234.2 215.1,234.7 215.1,235.2 215.1,235.7 215.0,236.2 215.0,236.7 214.9,237.2 214.7,237.7 214.6,238.2 214.5,238.7 214.3,239.2 214.2,239.7 214.1,240.2 213.9,240.7 213.7,241.2 213.5,241.7 213.3,242.2 213.1,242.7 213.0,243.2 212.8,243.7 212.6,244.2 212.5,244.7 212.3,245.2 212.2,245.7 212.0,246.2 211.9,246.7 211.8,247.2 211.7,247.7 211.7,248.2 211.6,248.7 211.6,249.2 211.5,249.7 211.5,250.2 211.4,250.7 211.4,251.2 211.3,251.7 211.3,252.2 211.2,252.7 211.2,253.2 211.2,253.7 211.2,254.2 211.2,254.7 211.2,255.2 211.2,255.7 211.2,256.2 211.2,256.7 211.2,257.0 211.2,257.0 211.2,256.7 211.2,256.2 211.2,255.7 211.2,255.2 211.2,254.7 211.2,254.2 211.2,253.7 211.2,253.2 211.2,252.7 211.1,252.2 211.1,251.7 211.0,251.2 211.0,250.7 210.9,250.2 210.9,249.7 210.8,249.2 210.8,248.7 210.7,248.2 210.7,247.7 210.6,247.2 210.5,246.7 210.4,246.2 210.2,245.7 210.1,245.2 209.9,244.7 209.8,244.2 209.6,243.7 209.4,243.2 209.3,242.7 209.1,242.2 208.9,241.7 208.7,241.2 208.5,240.7 208.3,240.2 208.2,239.7 208.1,239.2 207.9,238.7 207.8,238.2 207.7,237.7 207.5,237.2 207.4,236.7 207.4,236.2 207.3,235.7 207.3,235.2 207.3,234.7 207.3,234.2 207.3,233.7 207.3,233.2 207.3,232.7 207.3,232.2 207.3,231.7 207.3,231.2 207.4,230.7 207.5,230.2 207.6,229.7 207.7,229.2 207.8,228.7 207.9,228.2 208.1,227.7 208.2,227.2 208.3,226.7 208.4,226.2 208.6,225.7 208.7,225.2 208.9,224.7 209.0,224.2 209.2,223.7 209.3,223.2 209.5,222.7 209.6,222.2 209.7,221.7 209.8,221.2 209.8,220.7 209.7,220.2 209.6,219.7 209.7,219.2 209.8,218.7 209.9,218.2 210.1,217.7 210.2,217.2 210.3,216.7 210.5,216.2 210.6,215.7 210.7,215.2 210.8,214.7 210.9,214.2 210.9,213.7 210.9,213.2 210.9,212.7 210.9,212.2 211.0,211.7 211.0,211.2 211.0,210.7 211.0,210.2 211.0,209.7 211.1,209.2 211.2,208.7 211.2,208.2 211.2,207.7" fill="#fbd97b" stroke="#967818" stroke-width="1.0" stroke-linejoin="round"/><line x1="208.10" y1="227.50" x2="214.30" y2="227.50" stroke="#c09030" stroke-width="0.5" opacity="0.8"/><line x1="208.27" y1="240.00" x2="214.13" y2="240.00" stroke="#c09030" stroke-width="0.5" opacity="0.8"/><line x1="207.30" y1="233.80" x2="215.10" y2="233.80" stroke="#f5bd00" stroke-width="1.2"/><polygon points="224.7,213.0 224.7,213.5 224.7,214.0 224.7,214.5 224.7,215.0 224.8,215.5 224.8,216.0 224.8,216.5 224.8,217.0 224.9,217.5 224.9,218.0 224.9,218.5 224.9,219.0 224.9,219.5 224.9,220.0 224.9,220.5 224.9,221.0 225.0,221.5 225.0,222.0 225.0,222.5 225.0,223.0 225.1,223.5 225.2,224.0 225.3,224.5 225.4,225.0 225.5,225.5 225.6,226.0 225.7,226.5 225.9,227.0 226.0,227.5 226.2,228.0 226.4,228.5 226.6,229.0 226.8,229.5 227.0,230.0 227.1,230.5 227.3,231.0 227.5,231.5 227.6,232.0 227.8,232.5 228.0,233.0 228.2,233.5 228.3,234.0 228.4,234.5 228.5,235.0 228.6,235.5 228.6,236.0 228.6,236.5 228.5,237.0 228.3,237.5 228.1,238.0 227.9,238.5 227.7,239.0 227.5,239.5 227.3,240.0 227.1,240.5 226.9,241.0 226.7,241.5 226.5,242.0 226.3,242.5 226.0,243.0 225.9,243.5 225.7,244.0 225.6,244.5 225.4,245.0 225.3,245.5 225.2,246.0 225.1,246.5 225.1,247.0 225.0,247.5 225.0,248.0 225.0,248.5 225.0,249.0 224.9,249.5 224.9,250.0 224.9,250.5 224.8,251.0 224.8,251.5 224.7,252.0 224.7,252.5 224.7,253.0 224.7,253.5 224.7,254.0 224.7,254.5 224.7,255.0 224.7,255.5 224.7,256.0 224.7,256.5 224.7,257.0 224.7,257.0 224.7,256.5 224.7,256.0 224.7,255.5 224.7,255.0 224.7,254.5 224.7,254.0 224.7,253.5 224.7,253.0 224.7,252.5 224.7,252.0 224.6,251.5 224.6,251.0 224.5,250.5 224.5,250.0 224.5,249.5 224.4,249.0 224.4,248.5 224.4,248.0 224.4,247.5 224.3,247.0 224.3,246.5 224.2,246.0 224.1,245.5 224.0,245.0 223.8,244.5 223.7,244.0 223.5,243.5 223.4,243.0 223.1,242.5 222.9,242.0 222.7,241.5 222.5,241.0 222.3,240.5 222.1,240.0 221.9,239.5 221.7,239.0 221.5,238.5 221.3,238.0 221.1,237.5 220.9,237.0 220.8,236.5 220.8,236.0 220.8,235.5 220.9,235.0 221.0,234.5 221.1,234.0 221.2,233.5 221.4,233.0 221.6,232.5 221.8,232.0 221.9,231.5 222.1,231.0 222.3,230.5 222.4,230.0 222.6,229.5 222.8,229.0 223.0,228.5 223.2,228.0 223.4,227.5 223.5,227.0 223.7,226.5 223.8,226.0 223.9,225.5 224.0,225.0 224.1,224.5 224.2,224.0 224.3,223.5 224.4,223.0 224.4,222.5 224.4,222.0 224.4,221.5 224.5,221.0 224.5,220.5 224.5,220.0 224.5,219.5 224.5,219.0 224.5,218.5 224.5,218.0 224.5,217.5 224.6,217.0 224.6,216.5 224.6,216.0 224.6,215.5 224.7,215.0 224.7,214.5 224.7,214.0 224.7,213.5 224.7,213.0" fill="#f78d8d" stroke="#b02626" stroke-width="1.0" stroke-linejoin="round"/><line x1="221.94" y1="231.50" x2="227.46" y2="231.50" stroke="#d04c4c" stroke-width="0.5" opacity="0.8"/><line x1="222.25" y1="240.50" x2="227.15" y2="240.50" stroke="#d04c4c" stroke-width="0.5" opacity="0.8"/><line x1="220.83" y1="236.30" x2="228.57" y2="236.30" stroke="#f01010" stroke-width="1.2"/><polygon points="238.2,209.2 238.2,209.7 238.2,210.2 238.2,210.7 238.3,211.2 238.4,211.7 238.4,212.2 238.4,212.7 238.4,213.2 238.4,213.7 238.4,214.2 238.5,214.7 238.5,215.2 238.5,215.7 238.5,216.2 238.5,216.7 238.5,217.2 238.6,217.7 238.7,218.2 238.8,218.7 238.9,219.2 239.1,219.7 239.2,220.2 239.4,220.7 239.6,221.2 239.8,221.7 240.0,222.2 240.3,222.7 240.5,223.2 240.7,223.7 240.9,224.2 241.1,224.7 241.3,225.2 241.6,225.7 241.8,226.2 241.9,226.7 242.1,227.2 242.2,227.7 242.2,228.2 242.2,228.7 242.0,229.2 241.9,229.7 241.7,230.2 241.6,230.7 241.4,231.2 241.4,231.7 241.4,232.2 241.5,232.7 241.6,233.2 241.6,233.7 241.7,234.2 241.8,234.7 241.8,235.2 241.8,235.7 241.7,236.2 241.6,236.7 241.5,237.2 241.3,237.7 241.2,238.2 241.0,238.7 240.9,239.2 240.7,239.7 240.5,240.2 240.3,240.7 240.0,241.2 239.8,241.7 239.6,242.2 239.4,242.7 239.2,243.2 239.1,243.7 239.0,244.2 238.9,244.7 238.8,245.2 238.7,245.7 238.6,246.2 238.6,246.7 238.5,247.2 238.5,247.7 238.5,248.2 238.5,248.7 238.4,249.2 238.4,249.7 238.4,250.2 238.3,250.7 238.3,251.2 238.3,251.7 238.2,252.2 238.2,252.7 238.2,253.2 238.2,253.7 238.2,254.2 238.2,254.7 238.2,255.2 238.2,255.7 238.2,256.2 238.2,256.3 238.2,256.3 238.2,256.2 238.2,255.7 238.2,255.2 238.2,254.7 238.2,254.2 238.2,253.7 238.2,253.2 238.2,252.7 238.2,252.2 238.1,251.7 238.1,251.2 238.1,250.7 238.0,250.2 238.0,249.7 238.0,249.2 237.9,248.7 237.9,248.2 237.9,247.7 237.9,247.2 237.8,246.7 237.8,246.2 237.7,245.7 237.6,245.2 237.5,244.7 237.4,244.2 237.3,243.7 237.2,243.2 237.0,242.7 236.8,242.2 236.6,241.7 236.4,241.2 236.1,240.7 235.9,240.2 235.7,239.7 235.5,239.2 235.4,238.7 235.2,238.2 235.1,237.7 234.9,237.2 234.8,236.7 234.7,236.2 234.6,235.7 234.6,235.2 234.6,234.7 234.7,234.2 234.8,233.7 234.8,233.2 234.9,232.7 235.0,232.2 235.0,231.7 235.0,231.2 234.8,230.7 234.7,230.2 234.5,229.7 234.4,229.2 234.2,228.7 234.2,228.2 234.2,227.7 234.3,227.2 234.5,226.7 234.6,226.2 234.8,225.7 235.1,225.2 235.3,224.7 235.5,224.2 235.7,223.7 235.9,223.2 236.1,222.7 236.4,222.2 236.6,221.7 236.8,221.2 237.0,220.7 237.2,220.2 237.3,219.7 237.5,219.2 237.6,218.7 237.7,218.2 237.8,217.7 237.9,217.2 237.9,216.7 237.9,216.2 237.9,215.7 237.9,215.2 237.9,214.7 238.0,214.2 238.0,213.7 238.0,213.2 238.0,212.7 238.0,212.2 238.0,211.7 238.1,211.2 238.2,210.7 238.2,210.2 238.2,209.7 238.2,209.2" fill="#e190e3" stroke="#7a177b" stroke-width="1.0" stroke-linejoin="round"/><line x1="234.54" y1="226.50" x2="241.86" y2="226.50" stroke="#b050b2" stroke-width="0.5" opacity="0.8"/><line x1="235.15" y1="238.00" x2="241.25" y2="238.00" stroke="#b050b2" stroke-width="0.5" opacity="0.8"/><line x1="234.95" y1="232.40" x2="241.45" y2="232.40" stroke="#c010c0" stroke-width="1.2"/><text x="265.4" y="161.7" font-size="12.3" font-weight="bold" stroke="#000" stroke-width="0.6">G</text><text x="310.50" y="161.6" font-size="10" font-weight="bold" text-anchor="middle" stroke="#000" stroke-width="0.4" textLength="26.80" lengthAdjust="spacingAndGlyphs">TRDN</text><line x1="274.5" y1="189.0" x2="274.5" y2="261.5" stroke="#7a7a7a" stroke-width="0.9"/><line x1="271.9" y1="261.5" x2="347.1" y2="261.5" stroke="#7a7a7a" stroke-width="0.9"/><line x1="271.9" y1="189.00" x2="274.5" y2="189.00" stroke="#7a7a7a" stroke-width="0.9"/><text x="270.90" y="191.20" font-size="6.0" font-weight="bold" text-anchor="end" fill="#111" stroke="#111" stroke-width="0.3">4</text><line x1="271.9" y1="203.50" x2="274.5" y2="203.50" stroke="#7a7a7a" stroke-width="0.9"/><text x="270.90" y="205.70" font-size="6.0" font-weight="bold" text-anchor="end" fill="#111" stroke="#111" stroke-width="0.3">3</text><line x1="271.9" y1="218.00" x2="274.5" y2="218.00" stroke="#7a7a7a" stroke-width="0.9"/><text x="270.90" y="220.20" font-size="6.0" font-weight="bold" text-anchor="end" fill="#111" stroke="#111" stroke-width="0.3">2</text><line x1="271.9" y1="232.50" x2="274.5" y2="232.50" stroke="#7a7a7a" stroke-width="0.9"/><text x="270.90" y="234.70" font-size="6.0" font-weight="bold" text-anchor="end" fill="#111" stroke="#111" stroke-width="0.3">1</text><line x1="271.9" y1="247.00" x2="274.5" y2="247.00" stroke="#7a7a7a" stroke-width="0.9"/><text x="270.90" y="249.20" font-size="6.0" font-weight="bold" text-anchor="end" fill="#111" stroke="#111" stroke-width="0.3">0</text><line x1="271.9" y1="261.50" x2="274.5" y2="261.50" stroke="#7a7a7a" stroke-width="0.9"/><text x="270.90" y="263.70" font-size="6.0" font-weight="bold" text-anchor="end" fill="#111" stroke="#111" stroke-width="0.3">-1</text><line x1="283.5" y1="261.5" x2="283.5" y2="263.9" stroke="#7a7a7a" stroke-width="0.9"/><line x1="297" y1="261.5" x2="297" y2="263.9" stroke="#7a7a7a" stroke-width="0.9"/><line x1="310.5" y1="261.5" x2="310.5" y2="263.9" stroke="#7a7a7a" stroke-width="0.9"/><line x1="324" y1="261.5" x2="324" y2="263.9" stroke="#7a7a7a" stroke-width="0.9"/><line x1="337.5" y1="261.5" x2="337.5" y2="263.9" stroke="#7a7a7a" stroke-width="0.9"/><text transform="translate(284.90,267.90) rotate(-45)" font-size="6.0" font-weight="bold" text-anchor="end" fill="#222" stroke="#222" stroke-width="0.2">Normal</text><text transform="translate(298.40,267.90) rotate(-45)" font-size="6.0" font-weight="bold" text-anchor="end" fill="#222" stroke="#222" stroke-width="0.2">LumA</text><text transform="translate(311.90,267.90) rotate(-45)" font-size="6.0" font-weight="bold" text-anchor="end" fill="#222" stroke="#222" stroke-width="0.2">LumB</text><text transform="translate(325.40,267.90) rotate(-45)" font-size="6.0" font-weight="bold" text-anchor="end" fill="#222" stroke="#222" stroke-width="0.2">Her2</text><text transform="translate(338.90,267.90) rotate(-45)" font-size="6.0" font-weight="bold" text-anchor="end" fill="#222" stroke="#222" stroke-width="0.2">Basal</text><text transform="translate(260.90,224.35) rotate(-90)" font-size="7.8" font-weight="bold" text-anchor="middle" fill="#111" stroke="#111" stroke-width="0.3" textLength="48.6" lengthAdjust="spacingAndGlyphs">log<tspan font-size="5.2" dy="1.6">2</tspan><tspan dy="-1.6">(TPM+1)</tspan></text><line x1="283.5" y1="179.3" x2="337.5" y2="179.3" stroke="#8c8c8c" stroke-width="0.9"/><rect x="306.95" y="176.00" width="7.10" height="1.5" fill="#2a2a2a" rx="0.4"/><line x1="283.5" y1="184.8" x2="324" y2="184.8" stroke="#8c8c8c" stroke-width="0.9"/><rect x="300.20" y="181.50" width="7.10" height="1.5" fill="#2a2a2a" rx="0.4"/><line x1="283.5" y1="190.2" x2="310.5" y2="190.2" stroke="#8c8c8c" stroke-width="0.9"/><rect x="293.45" y="186.90" width="7.10" height="1.5" fill="#2a2a2a" rx="0.4"/><line x1="283.5" y1="195.7" x2="297" y2="195.7" stroke="#8c8c8c" stroke-width="0.9"/><rect x="286.70" y="192.40" width="7.10" height="1.5" fill="#2a2a2a" rx="0.4"/><line x1="297" y1="229.2" x2="337.5" y2="229.2" stroke="#8c8c8c" stroke-width="0.9"/><rect x="313.70" y="225.90" width="7.10" height="1.5" fill="#2a2a2a" rx="0.4"/><line x1="297" y1="235.1" x2="324" y2="235.1" stroke="#8c8c8c" stroke-width="0.9"/><rect x="307.82" y="231.80" width="5.35" height="1.5" fill="#2a2a2a" rx="0.4"/><line x1="297" y1="240.4" x2="310.5" y2="240.4" stroke="#8c8c8c" stroke-width="0.9"/><rect x="300.20" y="237.10" width="7.10" height="1.5" fill="#2a2a2a" rx="0.4"/><polygon points="283.5,196.4 283.5,196.9 283.5,197.4 283.5,197.9 283.5,198.4 283.6,198.9 283.7,199.4 283.7,199.9 283.7,200.4 283.7,200.9 283.7,201.4 283.8,201.9 283.8,202.4 283.8,202.9 283.8,203.4 283.8,203.9 283.8,204.4 283.8,204.9 283.8,205.4 283.8,205.9 283.8,206.4 283.8,206.9 283.8,207.4 283.9,207.9 283.9,208.4 283.9,208.9 283.9,209.4 284.0,209.9 284.0,210.4 284.1,210.9 284.2,211.4 284.3,211.9 284.4,212.4 284.4,212.9 284.5,213.4 284.6,213.9 284.6,214.4 284.6,214.9 284.6,215.4 284.5,215.9 284.5,216.4 284.4,216.9 284.4,217.4 284.3,217.9 284.2,218.4 284.2,218.9 284.1,219.4 284.1,219.9 284.1,220.4 284.1,220.9 284.1,221.4 284.1,221.9 284.1,222.4 284.1,222.9 284.2,223.4 284.2,223.9 284.2,224.4 284.2,224.9 284.3,225.4 284.3,225.9 284.3,226.4 284.4,226.9 284.4,227.4 284.4,227.9 284.5,228.4 284.5,228.9 284.5,229.4 284.6,229.9 284.6,230.4 284.6,230.9 284.7,231.4 284.7,231.9 284.7,232.4 284.8,232.9 284.8,233.4 284.9,233.9 284.9,234.4 285.0,234.9 285.0,235.4 285.1,235.9 285.2,236.4 285.3,236.9 285.4,237.4 285.5,237.9 285.6,238.4 285.8,238.9 285.9,239.4 286.1,239.9 286.3,240.4 286.5,240.9 286.7,241.4 286.9,241.9 287.0,242.4 287.1,242.9 287.3,243.4 287.4,243.9 287.5,244.4 287.5,244.9 287.5,245.4 287.4,245.9 287.2,246.4 287.1,246.9 286.9,247.4 286.6,247.9 286.4,248.4 286.0,248.9 285.5,249.4 285.1,249.9 284.7,250.4 284.4,250.9 284.1,251.4 283.8,251.9 283.6,252.4 283.5,252.9 283.5,253.4 283.5,253.9 283.5,254.2 283.5,254.2 283.5,253.9 283.5,253.4 283.5,252.9 283.4,252.4 283.2,251.9 282.9,251.4 282.6,250.9 282.3,250.4 281.9,249.9 281.5,249.4 281.0,248.9 280.6,248.4 280.4,247.9 280.1,247.4 279.9,246.9 279.8,246.4 279.6,245.9 279.5,245.4 279.5,244.9 279.5,244.4 279.6,243.9 279.7,243.4 279.9,242.9 280.0,242.4 280.1,241.9 280.3,241.4 280.5,240.9 280.7,240.4 280.9,239.9 281.1,239.4 281.2,238.9 281.4,238.4 281.5,237.9 281.6,237.4 281.7,236.9 281.8,236.4 281.9,235.9 282.0,235.4 282.0,234.9 282.1,234.4 282.1,233.9 282.2,233.4 282.2,232.9 282.3,232.4 282.3,231.9 282.3,231.4 282.4,230.9 282.4,230.4 282.4,229.9 282.5,229.4 282.5,228.9 282.5,228.4 282.6,227.9 282.6,227.4 282.6,226.9 282.7,226.4 282.7,225.9 282.7,225.4 282.8,224.9 282.8,224.4 282.8,223.9 282.8,223.4 282.9,222.9 282.9,222.4 282.9,221.9 282.9,221.4 282.9,220.9 282.9,220.4 282.9,219.9 282.9,219.4 282.8,218.9 282.8,218.4 282.7,217.9 282.6,217.4 282.6,216.9 282.5,216.4 282.5,215.9 282.4,215.4 282.4,214.9 282.4,214.4 282.4,213.9 282.5,213.4 282.6,212.9 282.6,212.4 282.7,211.9 282.8,211.4 282.9,210.9 283.0,210.4 283.0,209.9 283.1,209.4 283.1,208.9 283.1,208.4 283.1,207.9 283.2,207.4 283.2,206.9 283.2,206.4 283.2,205.9 283.2,205.4 283.2,204.9 283.2,204.4 283.2,203.9 283.2,203.4 283.2,202.9 283.2,202.4 283.2,201.9 283.3,201.4 283.3,200.9 283.3,200.4 283.3,199.9 283.3,199.4 283.4,198.9 283.5,198.4 283.5,197.9 283.5,197.4 283.5,196.9 283.5,196.4" fill="#9bd487" stroke="#3a7a2c" stroke-width="1.0" stroke-linejoin="round"/><line x1="280.44" y1="241.00" x2="286.56" y2="241.00" stroke="#5f9f4d" stroke-width="0.5" opacity="0.8"/><line x1="280.41" y1="248.00" x2="286.59" y2="248.00" stroke="#5f9f4d" stroke-width="0.5" opacity="0.8"/><line x1="279.53" y1="244.50" x2="287.47" y2="244.50" stroke="#3db03a" stroke-width="1.2"/><polygon points="297.0,241.3 297.0,241.8 297.0,242.3 297.0,242.8 297.0,243.3 297.0,243.8 297.1,244.3 297.3,244.8 297.5,245.3 297.8,245.8 298.5,246.3 299.9,246.8 300.8,247.3 300.8,247.8 297.0,248.0 297.0,248.0 293.2,247.8 293.2,247.3 294.1,246.8 295.5,246.3 296.2,245.8 296.5,245.3 296.7,244.8 296.9,244.3 297.0,243.8 297.0,243.3 297.0,242.8 297.0,242.3 297.0,241.8 297.0,241.3" fill="#3bbaee" stroke="#15729f" stroke-width="1.0" stroke-linejoin="round"/><polygon points="310.5,244.0 310.5,244.5 310.5,245.0 310.7,245.5 311.2,246.0 311.9,246.5 314.0,247.0 314.1,247.5 310.5,248.0 310.5,248.0 306.9,247.5 307.0,247.0 309.1,246.5 309.8,246.0 310.3,245.5 310.5,245.0 310.5,244.5 310.5,244.0" fill="#fbd97b" stroke="#967818" stroke-width="1.0" stroke-linejoin="round"/><polygon points="324.0,243.5 324.0,244.0 324.0,244.5 324.1,245.0 324.3,245.5 324.7,246.0 325.4,246.5 327.6,247.0 327.8,247.5 324.0,248.0 324.0,248.0 320.2,247.5 320.4,247.0 322.6,246.5 323.3,246.0 323.7,245.5 323.9,245.0 324.0,244.5 324.0,244.0 324.0,243.5" fill="#f78d8d" stroke="#b02626" stroke-width="1.0" stroke-linejoin="round"/><polygon points="337.5,244.5 337.5,245.0 337.6,245.5 338.0,246.0 338.7,246.5 341.3,247.0 341.5,247.5 337.5,248.0 337.5,248.0 333.5,247.5 333.7,247.0 336.3,246.5 337.0,246.0 337.4,245.5 337.5,245.0 337.5,244.5" fill="#e190e3" stroke="#7a177b" stroke-width="1.0" stroke-linejoin="round"/><text x="68" y="301.8" font-size="12.3" font-weight="bold" stroke="#000" stroke-width="0.6">H</text><text x="111.85" y="302.1" font-size="10" font-weight="bold" text-anchor="middle" stroke="#000" stroke-width="0.4" textLength="35.90" lengthAdjust="spacingAndGlyphs">CYP2E1</text><line x1="76.1" y1="329.8" x2="76.1" y2="401.5" stroke="#7a7a7a" stroke-width="0.9"/><line x1="73.5" y1="401.5" x2="148.79999999999998" y2="401.5" stroke="#7a7a7a" stroke-width="0.9"/><line x1="73.5" y1="329.80" x2="76.1" y2="329.80" stroke="#7a7a7a" stroke-width="0.9"/><text x="72.50" y="332.00" font-size="6.0" font-weight="bold" text-anchor="end" fill="#111" stroke="#111" stroke-width="0.3">3</text><line x1="73.5" y1="347.73" x2="76.1" y2="347.73" stroke="#7a7a7a" stroke-width="0.9"/><text x="72.50" y="349.93" font-size="6.0" font-weight="bold" text-anchor="end" fill="#111" stroke="#111" stroke-width="0.3">2</text><line x1="73.5" y1="365.65" x2="76.1" y2="365.65" stroke="#7a7a7a" stroke-width="0.9"/><text x="72.50" y="367.85" font-size="6.0" font-weight="bold" text-anchor="end" fill="#111" stroke="#111" stroke-width="0.3">1</text><line x1="73.5" y1="383.57" x2="76.1" y2="383.57" stroke="#7a7a7a" stroke-width="0.9"/><text x="72.50" y="385.77" font-size="6.0" font-weight="bold" text-anchor="end" fill="#111" stroke="#111" stroke-width="0.3">0</text><line x1="73.5" y1="401.50" x2="76.1" y2="401.50" stroke="#7a7a7a" stroke-width="0.9"/><text x="72.50" y="403.70" font-size="6.0" font-weight="bold" text-anchor="end" fill="#111" stroke="#111" stroke-width="0.3">-1</text><line x1="85.2" y1="401.5" x2="85.2" y2="403.9" stroke="#7a7a7a" stroke-width="0.9"/><line x1="98.7" y1="401.5" x2="98.7" y2="403.9" stroke="#7a7a7a" stroke-width="0.9"/><line x1="112.2" y1="401.5" x2="112.2" y2="403.9" stroke="#7a7a7a" stroke-width="0.9"/><line x1="125.7" y1="401.5" x2="125.7" y2="403.9" stroke="#7a7a7a" stroke-width="0.9"/><line x1="139.2" y1="401.5" x2="139.2" y2="403.9" stroke="#7a7a7a" stroke-width="0.9"/><text transform="translate(86.60,407.90) rotate(-45)" font-size="6.0" font-weight="bold" text-anchor="end" fill="#222" stroke="#222" stroke-width="0.2">Normal</text><text transform="translate(100.10,407.90) rotate(-45)" font-size="6.0" font-weight="bold" text-anchor="end" fill="#222" stroke="#222" stroke-width="0.2">LumA</text><text transform="translate(113.60,407.90) rotate(-45)" font-size="6.0" font-weight="bold" text-anchor="end" fill="#222" stroke="#222" stroke-width="0.2">LumB</text><text transform="translate(127.10,407.90) rotate(-45)" font-size="6.0" font-weight="bold" text-anchor="end" fill="#222" stroke="#222" stroke-width="0.2">Her2</text><text transform="translate(140.60,407.90) rotate(-45)" font-size="6.0" font-weight="bold" text-anchor="end" fill="#222" stroke="#222" stroke-width="0.2">Basal</text><text transform="translate(63.60,364.75) rotate(-90)" font-size="7.8" font-weight="bold" text-anchor="middle" fill="#111" stroke="#111" stroke-width="0.3" textLength="48.6" lengthAdjust="spacingAndGlyphs">log<tspan font-size="5.2" dy="1.6">2</tspan><tspan dy="-1.6">(TPM+1)</tspan></text><line x1="85.2" y1="316.9" x2="139.2" y2="316.9" stroke="#8c8c8c" stroke-width="0.9"/><rect x="108.65" y="313.60" width="7.10" height="1.5" fill="#2a2a2a" rx="0.4"/><line x1="98.7" y1="322.3" x2="139.2" y2="322.3" stroke="#8c8c8c" stroke-width="0.9"/><rect x="115.40" y="319.00" width="7.10" height="1.5" fill="#2a2a2a" rx="0.4"/><line x1="85.2" y1="327.2" x2="125.7" y2="327.2" stroke="#8c8c8c" stroke-width="0.9"/><rect x="101.90" y="323.90" width="7.10" height="1.5" fill="#2a2a2a" rx="0.4"/><line x1="98.7" y1="332.5" x2="125.7" y2="332.5" stroke="#8c8c8c" stroke-width="0.9"/><rect x="108.65" y="329.20" width="7.10" height="1.5" fill="#2a2a2a" rx="0.4"/><line x1="85.2" y1="338" x2="110.7" y2="338" stroke="#8c8c8c" stroke-width="0.9"/><rect x="95.28" y="334.70" width="5.35" height="1.5" fill="#2a2a2a" rx="0.4"/><line x1="113.7" y1="338" x2="139.2" y2="338" stroke="#8c8c8c" stroke-width="0.9"/><rect x="122.90" y="334.70" width="7.10" height="1.5" fill="#2a2a2a" rx="0.4"/><line x1="98.7" y1="343.5" x2="110.7" y2="343.5" stroke="#8c8c8c" stroke-width="0.9"/><rect x="101.15" y="340.20" width="7.10" height="1.5" fill="#2a2a2a" rx="0.4"/><line x1="113.7" y1="343.5" x2="125.7" y2="343.5" stroke="#8c8c8c" stroke-width="0.9"/><rect x="117.03" y="340.20" width="5.35" height="1.5" fill="#2a2a2a" rx="0.4"/><polygon points="85.2,354.1 85.2,354.6 85.2,355.1 85.2,355.6 85.2,356.1 85.3,356.6 85.3,357.1 85.3,357.6 85.4,358.1 85.4,358.6 85.4,359.1 85.4,359.6 85.4,360.1 85.5,360.6 85.5,361.1 85.6,361.6 85.8,362.1 86.0,362.6 86.3,363.1 86.6,363.6 86.8,364.1 87.1,364.6 87.4,365.1 87.7,365.6 88.0,366.1 88.3,366.6 88.5,367.1 88.6,367.6 88.7,368.1 88.8,368.6 88.9,369.1 89.0,369.6 89.0,370.1 89.0,370.6 88.9,371.1 88.7,371.6 88.5,372.1 88.4,372.6 88.3,373.1 88.4,373.6 88.5,374.1 88.7,374.6 88.9,375.1 89.0,375.6 89.0,376.1 89.0,376.6 89.0,377.1 88.9,377.6 88.9,378.1 88.9,378.6 88.8,379.1 88.8,379.6 88.6,380.1 88.4,380.6 88.1,381.1 87.8,381.6 87.4,382.1 87.1,382.6 86.7,383.1 86.4,383.6 86.0,384.1 85.7,384.6 85.4,385.1 85.2,385.6 85.2,386.1 85.2,386.2 85.2,386.2 85.2,386.1 85.2,385.6 85.0,385.1 84.7,384.6 84.4,384.1 84.0,383.6 83.7,383.1 83.3,382.6 83.0,382.1 82.6,381.6 82.3,381.1 82.0,380.6 81.8,380.1 81.6,379.6 81.6,379.1 81.5,378.6 81.5,378.1 81.5,377.6 81.4,377.1 81.4,376.6 81.4,376.1 81.4,375.6 81.5,375.1 81.7,374.6 81.9,374.1 82.0,373.6 82.1,373.1 82.0,372.6 81.9,372.1 81.7,371.6 81.5,371.1 81.4,370.6 81.4,370.1 81.4,369.6 81.5,369.1 81.6,368.6 81.7,368.1 81.8,367.6 81.9,367.1 82.1,366.6 82.4,366.1 82.7,365.6 83.0,365.1 83.3,364.6 83.6,364.1 83.8,363.6 84.1,363.1 84.4,362.6 84.6,362.1 84.8,361.6 84.9,361.1 84.9,360.6 85.0,360.1 85.0,359.6 85.0,359.1 85.0,358.6 85.0,358.1 85.1,357.6 85.1,357.1 85.1,356.6 85.2,356.1 85.2,355.6 85.2,355.1 85.2,354.6 85.2,354.1" fill="#9bd487" stroke="#3a7a2c" stroke-width="1.0" stroke-linejoin="round"/><line x1="81.59" y1="368.50" x2="88.81" y2="368.50" stroke="#5f9f4d" stroke-width="0.5" opacity="0.8"/><line x1="81.56" y1="379.00" x2="88.84" y2="379.00" stroke="#5f9f4d" stroke-width="0.5" opacity="0.8"/><line x1="81.98" y1="373.80" x2="88.42" y2="373.80" stroke="#3db03a" stroke-width="1.2"/><polygon points="98.7,344.2 98.7,344.7 98.7,345.2 98.7,345.7 98.7,346.2 98.7,346.7 98.7,347.2 98.7,347.7 98.7,348.2 98.8,348.7 98.8,349.2 98.9,349.7 98.9,350.2 99.0,350.7 99.0,351.2 99.1,351.7 99.1,352.2 99.2,352.7 99.2,353.2 99.3,353.7 99.3,354.2 99.4,354.7 99.5,355.2 99.5,355.7 99.6,356.2 99.7,356.7 99.7,357.2 99.8,357.7 99.9,358.2 99.9,358.7 100.0,359.2 100.1,359.7 100.2,360.2 100.3,360.7 100.3,361.2 100.4,361.7 100.5,362.2 100.6,362.7 100.7,363.2 100.7,363.7 100.8,364.2 100.9,364.7 101.0,365.2 101.1,365.7 101.2,366.2 101.3,366.7 101.3,367.2 101.4,367.7 101.5,368.2 101.6,368.7 101.6,369.2 101.7,369.7 101.8,370.2 101.9,370.7 101.9,371.2 102.0,371.7 102.1,372.2 102.1,372.7 102.2,373.2 102.3,373.7 102.4,374.2 102.4,374.7 102.5,375.2 102.5,375.7 102.6,376.2 102.6,376.7 102.6,377.2 102.6,377.7 102.6,378.2 102.6,378.7 102.5,379.2 102.5,379.7 102.5,380.2 102.3,380.7 101.9,381.2 101.5,381.7 101.0,382.2 100.6,382.7 100.2,383.2 99.8,383.7 99.4,384.2 99.2,384.7 99.0,385.2 98.8,385.7 98.7,386.2 98.7,386.7 98.7,387.2 98.7,387.2 98.7,386.7 98.7,386.2 98.6,385.7 98.4,385.2 98.2,384.7 98.0,384.2 97.6,383.7 97.2,383.2 96.8,382.7 96.4,382.2 95.9,381.7 95.5,381.2 95.1,380.7 94.9,380.2 94.9,379.7 94.9,379.2 94.8,378.7 94.8,378.2 94.8,377.7 94.8,377.2 94.8,376.7 94.8,376.2 94.9,375.7 94.9,375.2 95.0,374.7 95.0,374.2 95.1,373.7 95.2,373.2 95.3,372.7 95.3,372.2 95.4,371.7 95.5,371.2 95.5,370.7 95.6,370.2 95.7,369.7 95.8,369.2 95.8,368.7 95.9,368.2 96.0,367.7 96.1,367.2 96.1,366.7 96.2,366.2 96.3,365.7 96.4,365.2 96.5,364.7 96.6,364.2 96.7,363.7 96.7,363.2 96.8,362.7 96.9,362.2 97.0,361.7 97.1,361.2 97.1,360.7 97.2,360.2 97.3,359.7 97.4,359.2 97.5,358.7 97.5,358.2 97.6,357.7 97.7,357.2 97.7,356.7 97.8,356.2 97.9,355.7 97.9,355.2 98.0,354.7 98.1,354.2 98.1,353.7 98.2,353.2 98.2,352.7 98.3,352.2 98.3,351.7 98.4,351.2 98.4,350.7 98.5,350.2 98.5,349.7 98.6,349.2 98.6,348.7 98.7,348.2 98.7,347.7 98.7,347.2 98.7,346.7 98.7,346.2 98.7,345.7 98.7,345.2 98.7,344.7 98.7,344.2" fill="#3bbaee" stroke="#15729f" stroke-width="1.0" stroke-linejoin="round"/><line x1="95.79" y1="369.00" x2="101.61" y2="369.00" stroke="#2a8fc5" stroke-width="0.5" opacity="0.8"/><line x1="94.87" y1="379.50" x2="102.53" y2="379.50" stroke="#2a8fc5" stroke-width="0.5" opacity="0.8"/><line x1="95.01" y1="374.50" x2="102.39" y2="374.50" stroke="#1a8fd0" stroke-width="1.2"/><polygon points="112.2,352.0 112.2,352.5 112.2,353.0 112.2,353.5 112.2,354.0 112.2,354.5 112.3,355.0 112.3,355.5 112.4,356.0 112.5,356.5 112.5,357.0 112.6,357.5 112.6,358.0 112.7,358.5 112.7,359.0 112.8,359.5 112.9,360.0 112.9,360.5 113.0,361.0 113.1,361.5 113.1,362.0 113.2,362.5 113.3,363.0 113.4,363.5 113.5,364.0 113.6,364.5 113.7,365.0 113.8,365.5 113.9,366.0 114.0,366.5 114.1,367.0 114.2,367.5 114.3,368.0 114.4,368.5 114.4,369.0 114.5,369.5 114.6,370.0 114.7,370.5 114.8,371.0 114.9,371.5 115.0,372.0 115.0,372.5 115.1,373.0 115.2,373.5 115.3,374.0 115.4,374.5 115.5,375.0 115.6,375.5 115.7,376.0 115.8,376.5 115.9,377.0 116.0,377.5 116.1,378.0 116.1,378.5 116.1,379.0 116.0,379.5 115.9,380.0 115.7,380.5 115.5,381.0 115.3,381.5 115.0,382.0 114.6,382.5 114.1,383.0 113.7,383.5 113.3,384.0 113.0,384.5 112.8,385.0 112.6,385.5 112.4,386.0 112.2,386.5 112.2,387.0 112.2,387.2 112.2,387.2 112.2,387.0 112.2,386.5 112.0,386.0 111.8,385.5 111.6,385.0 111.4,384.5 111.1,384.0 110.7,383.5 110.3,383.0 109.8,382.5 109.4,382.0 109.1,381.5 108.9,381.0 108.7,380.5 108.5,380.0 108.4,379.5 108.3,379.0 108.3,378.5 108.3,378.0 108.4,377.5 108.5,377.0 108.6,376.5 108.7,376.0 108.8,375.5 108.9,375.0 109.0,374.5 109.1,374.0 109.2,373.5 109.3,373.0 109.4,372.5 109.4,372.0 109.5,371.5 109.6,371.0 109.7,370.5 109.8,370.0 109.9,369.5 110.0,369.0 110.0,368.5 110.1,368.0 110.2,367.5 110.3,367.0 110.4,366.5 110.5,366.0 110.6,365.5 110.7,365.0 110.8,364.5 110.9,364.0 111.0,363.5 111.1,363.0 111.2,362.5 111.3,362.0 111.3,361.5 111.4,361.0 111.5,360.5 111.5,360.0 111.6,359.5 111.7,359.0 111.7,358.5 111.8,358.0 111.8,357.5 111.9,357.0 111.9,356.5 112.0,356.0 112.1,355.5 112.1,355.0 112.2,354.5 112.2,354.0 112.2,353.5 112.2,353.0 112.2,352.5 112.2,352.0" fill="#fbd97b" stroke="#967818" stroke-width="1.0" stroke-linejoin="round"/><line x1="109.44" y1="372.00" x2="114.96" y2="372.00" stroke="#c09030" stroke-width="0.5" opacity="0.8"/><line x1="108.89" y1="381.00" x2="115.51" y2="381.00" stroke="#c09030" stroke-width="0.5" opacity="0.8"/><line x1="108.49" y1="376.90" x2="115.91" y2="376.90" stroke="#f5bd00" stroke-width="1.2"/><polygon points="125.7,366.1 125.7,366.6 125.7,367.1 125.7,367.6 125.7,368.1 125.7,368.6 125.8,369.1 125.8,369.6 125.9,370.1 126.0,370.6 126.1,371.1 126.2,371.6 126.3,372.1 126.4,372.6 126.5,373.1 126.6,373.6 126.7,374.1 126.8,374.6 126.9,375.1 127.1,375.6 127.2,376.1 127.3,376.6 127.5,377.1 127.7,377.6 127.8,378.1 128.1,378.6 128.5,379.1 128.9,379.6 129.2,380.1 129.4,380.6 129.5,381.1 129.4,381.6 129.1,382.1 128.8,382.6 128.2,383.1 127.3,383.6 126.7,384.1 126.3,384.6 126.0,385.1 125.8,385.6 125.7,386.1 125.7,386.5 125.7,386.5 125.7,386.1 125.6,385.6 125.4,385.1 125.1,384.6 124.7,384.1 124.1,383.6 123.2,383.1 122.6,382.6 122.3,382.1 122.0,381.6 121.9,381.1 122.0,380.6 122.2,380.1 122.5,379.6 122.9,379.1 123.3,378.6 123.6,378.1 123.7,377.6 123.9,377.1 124.1,376.6 124.2,376.1 124.3,375.6 124.5,375.1 124.6,374.6 124.7,374.1 124.8,373.6 124.9,373.1 125.0,372.6 125.1,372.1 125.2,371.6 125.3,371.1 125.4,370.6 125.5,370.1 125.6,369.6 125.6,369.1 125.7,368.6 125.7,368.1 125.7,367.6 125.7,367.1 125.7,366.6 125.7,366.1" fill="#f78d8d" stroke="#b02626" stroke-width="1.0" stroke-linejoin="round"/><line x1="122.99" y1="379.00" x2="128.41" y2="379.00" stroke="#d04c4c" stroke-width="0.5" opacity="0.8"/><line x1="121.90" y1="381.10" x2="129.50" y2="381.10" stroke="#f01010" stroke-width="1.2"/><polygon points="139.2,366.8 139.2,367.3 139.2,367.8 139.2,368.3 139.2,368.8 139.2,369.3 139.2,369.8 139.2,370.3 139.2,370.8 139.3,371.3 139.4,371.8 139.5,372.3 139.5,372.8 139.7,373.3 139.8,373.8 139.9,374.3 140.1,374.8 140.2,375.3 140.4,375.8 140.7,376.3 141.0,376.8 141.4,377.3 141.7,377.8 142.0,378.3 142.3,378.8 142.6,379.3 142.9,379.8 143.1,380.3 143.2,380.8 143.1,381.3 142.9,381.8 142.6,382.3 142.3,382.8 141.8,383.3 141.0,383.8 140.3,384.3 139.8,384.8 139.3,385.3 139.2,385.8 139.2,385.8 139.1,385.3 138.6,384.8 138.1,384.3 137.4,383.8 136.6,383.3 136.1,382.8 135.8,382.3 135.5,381.8 135.3,381.3 135.2,380.8 135.3,380.3 135.5,379.8 135.8,379.3 136.1,378.8 136.4,378.3 136.7,377.8 137.0,377.3 137.4,376.8 137.7,376.3 138.0,375.8 138.2,375.3 138.3,374.8 138.5,374.3 138.6,373.8 138.7,373.3 138.9,372.8 138.9,372.3 139.0,371.8 139.1,371.3 139.2,370.8 139.2,370.3 139.2,369.8 139.2,369.3 139.2,368.8 139.2,368.3 139.2,367.8 139.2,367.3 139.2,366.8" fill="#e190e3" stroke="#7a177b" stroke-width="1.0" stroke-linejoin="round"/><line x1="136.29" y1="378.50" x2="142.11" y2="378.50" stroke="#b050b2" stroke-width="0.5" opacity="0.8"/><line x1="135.36" y1="380.10" x2="143.04" y2="380.10" stroke="#c010c0" stroke-width="1.2"/><text x="169.2" y="301.8" font-size="12.3" font-weight="bold" stroke="#000" stroke-width="0.6">I</text><text x="213.15" y="302.1" font-size="10" font-weight="bold" text-anchor="middle" stroke="#000" stroke-width="0.4" textLength="33.30" lengthAdjust="spacingAndGlyphs">GSTM2</text><line x1="176.2" y1="329.8" x2="176.2" y2="401.5" stroke="#7a7a7a" stroke-width="0.9"/><line x1="173.6" y1="401.5" x2="248.79999999999998" y2="401.5" stroke="#7a7a7a" stroke-width="0.9"/><line x1="173.6" y1="329.80" x2="176.2" y2="329.80" stroke="#7a7a7a" stroke-width="0.9"/><text x="172.60" y="332.00" font-size="6.0" font-weight="bold" text-anchor="end" fill="#111" stroke="#111" stroke-width="0.3">8</text><line x1="173.6" y1="344.14" x2="176.2" y2="344.14" stroke="#7a7a7a" stroke-width="0.9"/><text x="172.60" y="346.34" font-size="6.0" font-weight="bold" text-anchor="end" fill="#111" stroke="#111" stroke-width="0.3">6</text><line x1="173.6" y1="358.48" x2="176.2" y2="358.48" stroke="#7a7a7a" stroke-width="0.9"/><text x="172.60" y="360.68" font-size="6.0" font-weight="bold" text-anchor="end" fill="#111" stroke="#111" stroke-width="0.3">4</text><line x1="173.6" y1="372.82" x2="176.2" y2="372.82" stroke="#7a7a7a" stroke-width="0.9"/><text x="172.60" y="375.02" font-size="6.0" font-weight="bold" text-anchor="end" fill="#111" stroke="#111" stroke-width="0.3">2</text><line x1="173.6" y1="387.16" x2="176.2" y2="387.16" stroke="#7a7a7a" stroke-width="0.9"/><text x="172.60" y="389.36" font-size="6.0" font-weight="bold" text-anchor="end" fill="#111" stroke="#111" stroke-width="0.3">0</text><line x1="173.6" y1="401.50" x2="176.2" y2="401.50" stroke="#7a7a7a" stroke-width="0.9"/><text x="172.60" y="403.70" font-size="6.0" font-weight="bold" text-anchor="end" fill="#111" stroke="#111" stroke-width="0.3">-2</text><line x1="185.2" y1="401.5" x2="185.2" y2="403.9" stroke="#7a7a7a" stroke-width="0.9"/><line x1="198.7" y1="401.5" x2="198.7" y2="403.9" stroke="#7a7a7a" stroke-width="0.9"/><line x1="212.2" y1="401.5" x2="212.2" y2="403.9" stroke="#7a7a7a" stroke-width="0.9"/><line x1="225.7" y1="401.5" x2="225.7" y2="403.9" stroke="#7a7a7a" stroke-width="0.9"/><line x1="239.2" y1="401.5" x2="239.2" y2="403.9" stroke="#7a7a7a" stroke-width="0.9"/><text transform="translate(186.60,407.90) rotate(-45)" font-size="6.0" font-weight="bold" text-anchor="end" fill="#222" stroke="#222" stroke-width="0.2">Normal</text><text transform="translate(200.10,407.90) rotate(-45)" font-size="6.0" font-weight="bold" text-anchor="end" fill="#222" stroke="#222" stroke-width="0.2">LumA</text><text transform="translate(213.60,407.90) rotate(-45)" font-size="6.0" font-weight="bold" text-anchor="end" fill="#222" stroke="#222" stroke-width="0.2">LumB</text><text transform="translate(227.10,407.90) rotate(-45)" font-size="6.0" font-weight="bold" text-anchor="end" fill="#222" stroke="#222" stroke-width="0.2">Her2</text><text transform="translate(240.60,407.90) rotate(-45)" font-size="6.0" font-weight="bold" text-anchor="end" fill="#222" stroke="#222" stroke-width="0.2">Basal</text><text transform="translate(161.50,364.75) rotate(-90)" font-size="7.8" font-weight="bold" text-anchor="middle" fill="#111" stroke="#111" stroke-width="0.3" textLength="48.6" lengthAdjust="spacingAndGlyphs">log<tspan font-size="5.2" dy="1.6">2</tspan><tspan dy="-1.6">(TPM+1)</tspan></text><line x1="198.7" y1="313.2" x2="239.2" y2="313.2" stroke="#8c8c8c" stroke-width="0.9"/><rect x="215.40" y="309.90" width="7.10" height="1.5" fill="#2a2a2a" rx="0.4"/><line x1="198.7" y1="318.4" x2="225.7" y2="318.4" stroke="#8c8c8c" stroke-width="0.9"/><rect x="208.65" y="315.10" width="7.10" height="1.5" fill="#2a2a2a" rx="0.4"/><line x1="185.2" y1="323.9" x2="239.2" y2="323.9" stroke="#8c8c8c" stroke-width="0.9"/><rect x="208.65" y="320.60" width="7.10" height="1.5" fill="#2a2a2a" rx="0.4"/><line x1="185.2" y1="329" x2="225.7" y2="329" stroke="#8c8c8c" stroke-width="0.9"/><rect x="201.90" y="325.70" width="7.10" height="1.5" fill="#2a2a2a" rx="0.4"/><line x1="185.2" y1="334.5" x2="210.7" y2="334.5" stroke="#8c8c8c" stroke-width="0.9"/><rect x="194.40" y="331.20" width="7.10" height="1.5" fill="#2a2a2a" rx="0.4"/><line x1="213.7" y1="334.5" x2="239.2" y2="334.5" stroke="#8c8c8c" stroke-width="0.9"/><rect x="222.90" y="331.20" width="7.10" height="1.5" fill="#2a2a2a" rx="0.4"/><line x1="185.2" y1="340.2" x2="197.2" y2="340.2" stroke="#8c8c8c" stroke-width="0.9"/><rect x="187.65" y="336.90" width="7.10" height="1.5" fill="#2a2a2a" rx="0.4"/><line x1="200.2" y1="340.2" x2="210.7" y2="340.2" stroke="#8c8c8c" stroke-width="0.9"/><rect x="201.90" y="336.90" width="7.10" height="1.5" fill="#2a2a2a" rx="0.4"/><line x1="213.7" y1="340.2" x2="225.7" y2="340.2" stroke="#8c8c8c" stroke-width="0.9"/><rect x="216.15" y="336.90" width="7.10" height="1.5" fill="#2a2a2a" rx="0.4"/><polygon points="185.2,349.9 185.2,350.4 185.2,350.9 185.3,351.4 185.3,351.9 185.4,352.4 185.4,352.9 185.5,353.4 185.6,353.9 185.9,354.4 186.1,354.9 186.3,355.4 186.4,355.9 186.5,356.4 186.7,356.9 186.8,357.4 186.9,357.9 187.0,358.4 187.1,358.9 187.2,359.4 187.3,359.9 187.4,360.4 187.5,360.9 187.6,361.4 187.7,361.9 187.8,362.4 187.9,362.9 188.0,363.4 188.1,363.9 188.2,364.4 188.3,364.9 188.5,365.4 188.6,365.9 188.7,366.4 188.9,366.9 188.9,367.4 189.0,367.9 189.0,368.4 188.9,368.9 188.8,369.4 188.7,369.9 188.5,370.4 188.3,370.9 188.1,371.4 187.9,371.9 187.6,372.4 187.3,372.9 187.0,373.4 186.8,373.9 186.5,374.4 186.3,374.9 186.1,375.4 185.9,375.9 185.8,376.4 185.7,376.9 185.6,377.4 185.5,377.9 185.5,378.4 185.4,378.9 185.4,379.4 185.4,379.9 185.4,380.4 185.4,380.9 185.4,381.4 185.4,381.9 185.4,382.4 185.4,382.9 185.4,383.4 185.4,383.9 185.4,384.4 185.4,384.9 185.4,385.4 185.4,385.9 185.4,386.4 185.2,386.9 185.2,387.0 185.2,387.0 185.2,386.9 185.0,386.4 185.0,385.9 185.0,385.4 185.0,384.9 185.0,384.4 185.0,383.9 185.0,383.4 185.0,382.9 185.0,382.4 185.0,381.9 185.0,381.4 185.0,380.9 185.0,380.4 185.0,379.9 185.0,379.4 185.0,378.9 184.9,378.4 184.9,377.9 184.8,377.4 184.7,376.9 184.6,376.4 184.5,375.9 184.3,375.4 184.1,374.9 183.9,374.4 183.6,373.9 183.4,373.4 183.1,372.9 182.8,372.4 182.5,371.9 182.3,371.4 182.1,370.9 181.9,370.4 181.7,369.9 181.6,369.4 181.5,368.9 181.4,368.4 181.4,367.9 181.5,367.4 181.5,366.9 181.7,366.4 181.8,365.9 181.9,365.4 182.1,364.9 182.2,364.4 182.3,363.9 182.4,363.4 182.5,362.9 182.6,362.4 182.7,361.9 182.8,361.4 182.9,360.9 183.0,360.4 183.1,359.9 183.2,359.4 183.3,358.9 183.4,358.4 183.5,357.9 183.6,357.4 183.7,356.9 183.9,356.4 184.0,355.9 184.1,355.4 184.3,354.9 184.5,354.4 184.8,353.9 184.9,353.4 185.0,352.9 185.0,352.4 185.1,351.9 185.1,351.4 185.2,350.9 185.2,350.4 185.2,349.9" fill="#9bd487" stroke="#3a7a2c" stroke-width="1.0" stroke-linejoin="round"/><line x1="182.19" y1="364.50" x2="188.21" y2="364.50" stroke="#5f9f4d" stroke-width="0.5" opacity="0.8"/><line x1="182.58" y1="372.00" x2="187.82" y2="372.00" stroke="#5f9f4d" stroke-width="0.5" opacity="0.8"/><line x1="181.46" y1="368.90" x2="188.94" y2="368.90" stroke="#3db03a" stroke-width="1.2"/><polygon points="198.7,341.4 198.7,341.9 198.7,342.4 198.7,342.9 198.7,343.4 198.7,343.9 198.8,344.4 198.8,344.9 198.8,345.4 198.8,345.9 198.8,346.4 198.8,346.9 198.8,347.4 198.8,347.9 198.8,348.4 198.8,348.9 198.9,349.4 198.9,349.9 198.9,350.4 198.9,350.9 198.9,351.4 198.9,351.9 198.9,352.4 198.9,352.9 199.0,353.4 199.1,353.9 199.3,354.4 199.5,354.9 199.8,355.4 200.0,355.9 200.3,356.4 200.6,356.9 200.9,357.4 201.1,357.9 201.3,358.4 201.5,358.9 201.6,359.4 201.8,359.9 201.9,360.4 202.0,360.9 202.1,361.4 202.2,361.9 202.3,362.4 202.3,362.9 202.4,363.4 202.4,363.9 202.5,364.4 202.5,364.9 202.6,365.4 202.6,365.9 202.6,366.4 202.7,366.9 202.7,367.4 202.7,367.9 202.7,368.4 202.7,368.9 202.7,369.4 202.7,369.9 202.7,370.4 202.7,370.9 202.7,371.4 202.7,371.9 202.7,372.4 202.7,372.9 202.6,373.4 202.6,373.9 202.6,374.4 202.6,374.9 202.6,375.4 202.6,375.9 202.5,376.4 202.4,376.9 202.3,377.4 202.2,377.9 202.1,378.4 201.9,378.9 201.8,379.4 201.7,379.9 201.5,380.4 201.3,380.9 201.0,381.4 200.8,381.9 200.6,382.4 200.3,382.9 200.1,383.4 199.8,383.9 199.5,384.4 199.3,384.9 199.2,385.4 199.1,385.9 199.0,386.4 198.9,386.9 198.8,387.4 198.7,387.9 198.7,388.4 198.7,388.9 198.7,389.4 198.7,389.9 198.7,390.0 198.7,390.0 198.7,389.9 198.7,389.4 198.7,388.9 198.7,388.4 198.7,387.9 198.6,387.4 198.5,386.9 198.4,386.4 198.3,385.9 198.2,385.4 198.1,384.9 197.9,384.4 197.6,383.9 197.3,383.4 197.1,382.9 196.8,382.4 196.6,381.9 196.4,381.4 196.1,380.9 195.9,380.4 195.7,379.9 195.6,379.4 195.5,378.9 195.3,378.4 195.2,377.9 195.1,377.4 195.0,376.9 194.9,376.4 194.8,375.9 194.8,375.4 194.8,374.9 194.8,374.4 194.8,373.9 194.8,373.4 194.7,372.9 194.7,372.4 194.7,371.9 194.7,371.4 194.7,370.9 194.7,370.4 194.7,369.9 194.7,369.4 194.7,368.9 194.7,368.4 194.7,367.9 194.7,367.4 194.7,366.9 194.8,366.4 194.8,365.9 194.8,365.4 194.9,364.9 194.9,364.4 195.0,363.9 195.0,363.4 195.1,362.9 195.1,362.4 195.2,361.9 195.3,361.4 195.4,360.9 195.5,360.4 195.6,359.9 195.8,359.4 195.9,358.9 196.1,358.4 196.3,357.9 196.5,357.4 196.8,356.9 197.1,356.4 197.4,355.9 197.6,355.4 197.9,354.9 198.1,354.4 198.3,353.9 198.4,353.4 198.5,352.9 198.5,352.4 198.5,351.9 198.5,351.4 198.5,350.9 198.5,350.4 198.5,349.9 198.5,349.4 198.6,348.9 198.6,348.4 198.6,347.9 198.6,347.4 198.6,346.9 198.6,346.4 198.6,345.9 198.6,345.4 198.6,344.9 198.6,344.4 198.7,343.9 198.7,343.4 198.7,342.9 198.7,342.4 198.7,341.9 198.7,341.4" fill="#3bbaee" stroke="#15729f" stroke-width="1.0" stroke-linejoin="round"/><line x1="194.78" y1="366.00" x2="202.62" y2="366.00" stroke="#2a8fc5" stroke-width="0.5" opacity="0.8"/><line x1="195.49" y1="379.00" x2="201.91" y2="379.00" stroke="#2a8fc5" stroke-width="0.5" opacity="0.8"/><line x1="194.74" y1="372.70" x2="202.66" y2="372.70" stroke="#1a8fd0" stroke-width="1.2"/><polygon points="212.2,348.5 212.2,349.0 212.2,349.5 212.2,350.0 212.2,350.5 212.2,351.0 212.3,351.5 212.3,352.0 212.3,352.5 212.3,353.0 212.3,353.5 212.3,354.0 212.4,354.5 212.4,355.0 212.4,355.5 212.4,356.0 212.4,356.5 212.4,357.0 212.4,357.5 212.5,358.0 212.5,358.5 212.6,359.0 212.6,359.5 212.7,360.0 212.7,360.5 212.8,361.0 212.9,361.5 212.9,362.0 213.0,362.5 213.1,363.0 213.1,363.5 213.2,364.0 213.3,364.5 213.3,365.0 213.4,365.5 213.5,366.0 213.5,366.5 213.6,367.0 213.7,367.5 213.8,368.0 213.9,368.5 213.9,369.0 214.0,369.5 214.1,370.0 214.2,370.5 214.3,371.0 214.4,371.5 214.6,372.0 214.7,372.5 214.8,373.0 214.9,373.5 215.0,374.0 215.2,374.5 215.3,375.0 215.4,375.5 215.5,376.0 215.7,376.5 215.8,377.0 215.8,377.5 215.9,378.0 216.0,378.5 216.0,379.0 216.1,379.5 216.1,380.0 216.1,380.5 215.9,381.0 215.7,381.5 215.4,382.0 215.1,382.5 214.8,383.0 214.4,383.5 213.9,384.0 213.4,384.5 213.1,385.0 212.8,385.5 212.7,386.0 212.5,386.5 212.4,387.0 212.3,387.5 212.2,388.0 212.2,388.5 212.2,389.0 212.2,389.5 212.2,390.0 212.2,390.0 212.2,389.5 212.2,389.0 212.2,388.5 212.2,388.0 212.1,387.5 212.0,387.0 211.9,386.5 211.7,386.0 211.6,385.5 211.3,385.0 211.0,384.5 210.5,384.0 210.0,383.5 209.6,383.0 209.3,382.5 209.0,382.0 208.7,381.5 208.5,381.0 208.3,380.5 208.3,380.0 208.3,379.5 208.4,379.0 208.4,378.5 208.5,378.0 208.6,377.5 208.6,377.0 208.7,376.5 208.9,376.0 209.0,375.5 209.1,375.0 209.2,374.5 209.4,374.0 209.5,373.5 209.6,373.0 209.7,372.5 209.8,372.0 210.0,371.5 210.1,371.0 210.2,370.5 210.3,370.0 210.4,369.5 210.5,369.0 210.5,368.5 210.6,368.0 210.7,367.5 210.8,367.0 210.9,366.5 210.9,366.0 211.0,365.5 211.1,365.0 211.1,364.5 211.2,364.0 211.3,363.5 211.3,363.0 211.4,362.5 211.5,362.0 211.5,361.5 211.6,361.0 211.7,360.5 211.7,360.0 211.8,359.5 211.8,359.0 211.9,358.5 211.9,358.0 212.0,357.5 212.0,357.0 212.0,356.5 212.0,356.0 212.0,355.5 212.0,355.0 212.0,354.5 212.1,354.0 212.1,353.5 212.1,353.0 212.1,352.5 212.1,352.0 212.1,351.5 212.2,351.0 212.2,350.5 212.2,350.0 212.2,349.5 212.2,349.0 212.2,348.5" fill="#fbd97b" stroke="#967818" stroke-width="1.0" stroke-linejoin="round"/><line x1="209.51" y1="373.50" x2="214.89" y2="373.50" stroke="#c09030" stroke-width="0.5" opacity="0.8"/><line x1="208.99" y1="382.00" x2="215.41" y2="382.00" stroke="#c09030" stroke-width="0.5" opacity="0.8"/><line x1="208.54" y1="377.70" x2="215.86" y2="377.70" stroke="#f5bd00" stroke-width="1.2"/><polygon points="225.7,369.6 225.7,370.1 225.7,370.6 225.7,371.1 225.8,371.6 225.8,372.1 225.8,372.6 225.9,373.1 225.9,373.6 225.9,374.1 226.0,374.6 226.1,375.1 226.3,375.6 226.5,376.1 226.6,376.6 226.8,377.1 227.0,377.6 227.3,378.1 227.5,378.6 227.8,379.1 228.1,379.6 228.4,380.1 228.7,380.6 229.1,381.1 229.4,381.6 229.6,382.1 229.5,382.6 229.2,383.1 228.7,383.6 228.2,384.1 227.7,384.6 227.2,385.1 226.7,385.6 226.3,386.1 226.0,386.6 225.7,387.1 225.7,387.6 225.7,387.6 225.7,387.1 225.4,386.6 225.1,386.1 224.7,385.6 224.2,385.1 223.7,384.6 223.2,384.1 222.7,383.6 222.2,383.1 221.9,382.6 221.8,382.1 222.0,381.6 222.3,381.1 222.7,380.6 223.0,380.1 223.3,379.6 223.6,379.1 223.9,378.6 224.1,378.1 224.4,377.6 224.6,377.1 224.8,376.6 224.9,376.1 225.1,375.6 225.3,375.1 225.4,374.6 225.5,374.1 225.5,373.6 225.5,373.1 225.6,372.6 225.6,372.1 225.6,371.6 225.7,371.1 225.7,370.6 225.7,370.1 225.7,369.6" fill="#f78d8d" stroke="#b02626" stroke-width="1.0" stroke-linejoin="round"/><line x1="222.77" y1="380.50" x2="228.63" y2="380.50" stroke="#d04c4c" stroke-width="0.5" opacity="0.8"/><line x1="223.09" y1="384.00" x2="228.31" y2="384.00" stroke="#d04c4c" stroke-width="0.5" opacity="0.8"/><line x1="221.84" y1="382.30" x2="229.56" y2="382.30" stroke="#f01010" stroke-width="1.2"/><polygon points="239.2,363.2 239.2,363.7 239.2,364.2 239.2,364.7 239.2,365.2 239.3,365.7 239.3,366.2 239.3,366.7 239.4,367.2 239.4,367.7 239.4,368.2 239.5,368.7 239.7,369.2 239.8,369.7 240.0,370.2 240.2,370.7 240.4,371.2 240.5,371.7 240.6,372.2 240.8,372.7 240.9,373.2 241.1,373.7 241.2,374.2 241.4,374.7 241.5,375.2 241.7,375.7 241.8,376.2 242.0,376.7 242.1,377.2 242.2,377.7 242.3,378.2 242.5,378.7 242.6,379.2 242.7,379.7 242.8,380.2 242.9,380.7 243.0,381.2 243.1,381.7 243.1,382.2 243.1,382.7 243.0,383.2 242.8,383.7 242.7,384.2 242.4,384.7 242.2,385.2 241.7,385.7 241.1,386.2 240.6,386.7 240.1,387.2 239.8,387.7 239.5,388.2 239.2,388.7 239.2,389.2 239.2,389.3 239.2,389.3 239.2,389.2 239.2,388.7 238.9,388.2 238.6,387.7 238.3,387.2 237.8,386.7 237.3,386.2 236.7,385.7 236.2,385.2 236.0,384.7 235.7,384.2 235.6,383.7 235.4,383.2 235.3,382.7 235.3,382.2 235.3,381.7 235.4,381.2 235.5,380.7 235.6,380.2 235.7,379.7 235.8,379.2 235.9,378.7 236.1,378.2 236.2,377.7 236.3,377.2 236.4,376.7 236.6,376.2 236.7,375.7 236.9,375.2 237.0,374.7 237.2,374.2 237.3,373.7 237.5,373.2 237.6,372.7 237.8,372.2 237.9,371.7 238.0,371.2 238.2,370.7 238.4,370.2 238.6,369.7 238.7,369.2 238.9,368.7 239.0,368.2 239.0,367.7 239.0,367.2 239.1,366.7 239.1,366.2 239.1,365.7 239.2,365.2 239.2,364.7 239.2,364.2 239.2,363.7 239.2,363.2" fill="#e190e3" stroke="#7a177b" stroke-width="1.0" stroke-linejoin="round"/><line x1="236.65" y1="376.00" x2="241.75" y2="376.00" stroke="#b050b2" stroke-width="0.5" opacity="0.8"/><line x1="235.67" y1="384.00" x2="242.73" y2="384.00" stroke="#b050b2" stroke-width="0.5" opacity="0.8"/><line x1="235.59" y1="380.10" x2="242.81" y2="380.10" stroke="#c010c0" stroke-width="1.2"/><text x="267.4" y="301.8" font-size="12.3" font-weight="bold" stroke="#000" stroke-width="0.6">J</text><text x="310.65" y="302.1" font-size="10" font-weight="bold" text-anchor="middle" stroke="#000" stroke-width="0.4" textLength="30.10" lengthAdjust="spacingAndGlyphs">FGFR1</text><line x1="274.5" y1="329.8" x2="274.5" y2="401.5" stroke="#7a7a7a" stroke-width="0.9"/><line x1="271.9" y1="401.5" x2="347.1" y2="401.5" stroke="#7a7a7a" stroke-width="0.9"/><line x1="271.9" y1="329.80" x2="274.5" y2="329.80" stroke="#7a7a7a" stroke-width="0.9"/><text x="270.90" y="332.00" font-size="6.0" font-weight="bold" text-anchor="end" fill="#111" stroke="#111" stroke-width="0.3">15</text><line x1="271.9" y1="353.70" x2="274.5" y2="353.70" stroke="#7a7a7a" stroke-width="0.9"/><text x="270.90" y="355.90" font-size="6.0" font-weight="bold" text-anchor="end" fill="#111" stroke="#111" stroke-width="0.3">10</text><line x1="271.9" y1="377.60" x2="274.5" y2="377.60" stroke="#7a7a7a" stroke-width="0.9"/><text x="270.90" y="379.80" font-size="6.0" font-weight="bold" text-anchor="end" fill="#111" stroke="#111" stroke-width="0.3">5</text><line x1="271.9" y1="401.50" x2="274.5" y2="401.50" stroke="#7a7a7a" stroke-width="0.9"/><text x="270.90" y="403.70" font-size="6.0" font-weight="bold" text-anchor="end" fill="#111" stroke="#111" stroke-width="0.3">0</text><line x1="283.5" y1="401.5" x2="283.5" y2="403.9" stroke="#7a7a7a" stroke-width="0.9"/><line x1="297" y1="401.5" x2="297" y2="403.9" stroke="#7a7a7a" stroke-width="0.9"/><line x1="310.5" y1="401.5" x2="310.5" y2="403.9" stroke="#7a7a7a" stroke-width="0.9"/><line x1="324" y1="401.5" x2="324" y2="403.9" stroke="#7a7a7a" stroke-width="0.9"/><line x1="337.5" y1="401.5" x2="337.5" y2="403.9" stroke="#7a7a7a" stroke-width="0.9"/><text transform="translate(284.90,407.90) rotate(-45)" font-size="6.0" font-weight="bold" text-anchor="end" fill="#222" stroke="#222" stroke-width="0.2">Normal</text><text transform="translate(298.40,407.90) rotate(-45)" font-size="6.0" font-weight="bold" text-anchor="end" fill="#222" stroke="#222" stroke-width="0.2">LumA</text><text transform="translate(311.90,407.90) rotate(-45)" font-size="6.0" font-weight="bold" text-anchor="end" fill="#222" stroke="#222" stroke-width="0.2">LumB</text><text transform="translate(325.40,407.90) rotate(-45)" font-size="6.0" font-weight="bold" text-anchor="end" fill="#222" stroke="#222" stroke-width="0.2">Her2</text><text transform="translate(338.90,407.90) rotate(-45)" font-size="6.0" font-weight="bold" text-anchor="end" fill="#222" stroke="#222" stroke-width="0.2">Basal</text><text transform="translate(261.50,364.75) rotate(-90)" font-size="7.8" font-weight="bold" text-anchor="middle" fill="#111" stroke="#111" stroke-width="0.3" textLength="48.6" lengthAdjust="spacingAndGlyphs">log<tspan font-size="5.2" dy="1.6">2</tspan><tspan dy="-1.6">(TPM+1)</tspan></text><line x1="297" y1="322" x2="337.5" y2="322" stroke="#8c8c8c" stroke-width="0.9"/><rect x="313.70" y="318.70" width="7.10" height="1.5" fill="#2a2a2a" rx="0.4"/><line x1="297" y1="327.2" x2="324" y2="327.2" stroke="#8c8c8c" stroke-width="0.9"/><rect x="306.95" y="323.90" width="7.10" height="1.5" fill="#2a2a2a" rx="0.4"/><line x1="283.5" y1="332.5" x2="337.5" y2="332.5" stroke="#8c8c8c" stroke-width="0.9"/><rect x="306.95" y="329.20" width="7.10" height="1.5" fill="#2a2a2a" rx="0.4"/><line x1="283.5" y1="337.7" x2="324" y2="337.7" stroke="#8c8c8c" stroke-width="0.9"/><rect x="300.20" y="334.40" width="7.10" height="1.5" fill="#2a2a2a" rx="0.4"/><line x1="310.5" y1="343.2" x2="337.5" y2="343.2" stroke="#8c8c8c" stroke-width="0.9"/><rect x="321.32" y="339.90" width="5.35" height="1.5" fill="#2a2a2a" rx="0.4"/><line x1="283.5" y1="348.4" x2="309.0" y2="348.4" stroke="#8c8c8c" stroke-width="0.9"/><rect x="292.70" y="345.10" width="7.10" height="1.5" fill="#2a2a2a" rx="0.4"/><line x1="312.0" y1="348.4" x2="324" y2="348.4" stroke="#8c8c8c" stroke-width="0.9"/><rect x="316.20" y="345.10" width="3.60" height="1.5" fill="#2a2a2a" rx="0.4"/><line x1="283.5" y1="354.1" x2="297" y2="354.1" stroke="#8c8c8c" stroke-width="0.9"/><rect x="286.70" y="350.80" width="7.10" height="1.5" fill="#2a2a2a" rx="0.4"/><polygon points="283.5,367.8 283.5,368.3 283.5,368.8 283.5,369.3 283.6,369.8 283.8,370.3 284.0,370.8 284.2,371.3 284.6,371.8 285.6,372.3 287.2,372.8 287.4,373.3 286.0,373.8 284.7,374.3 284.3,374.8 284.0,375.3 283.8,375.8 283.8,376.3 283.8,376.8 283.8,377.3 283.8,377.8 283.8,378.3 283.7,378.8 283.7,379.3 283.7,379.8 283.5,380.3 283.5,380.5 283.5,380.5 283.5,380.3 283.3,379.8 283.3,379.3 283.3,378.8 283.2,378.3 283.2,377.8 283.2,377.3 283.2,376.8 283.2,376.3 283.2,375.8 283.0,375.3 282.7,374.8 282.3,374.3 281.0,373.8 279.6,373.3 279.8,372.8 281.4,372.3 282.4,371.8 282.8,371.3 283.0,370.8 283.2,370.3 283.4,369.8 283.5,369.3 283.5,368.8 283.5,368.3 283.5,367.8" fill="#9bd487" stroke="#3a7a2c" stroke-width="1.0" stroke-linejoin="round"/><polygon points="297.0,360.4 297.0,360.9 297.0,361.4 297.0,361.9 297.0,362.4 297.0,362.9 297.0,363.4 297.0,363.9 297.1,364.4 297.1,364.9 297.2,365.4 297.2,365.9 297.3,366.4 297.4,366.9 297.5,367.4 297.5,367.9 297.6,368.4 297.7,368.9 297.9,369.4 298.0,369.9 298.1,370.4 298.3,370.9 298.5,371.4 298.6,371.9 298.8,372.4 299.0,372.9 299.2,373.4 299.5,373.9 299.9,374.4 300.2,374.9 300.5,375.4 300.8,375.9 300.9,376.4 300.9,376.9 300.8,377.4 300.6,377.9 300.4,378.4 300.2,378.9 299.9,379.4 299.7,379.9 299.5,380.4 299.3,380.9 299.0,381.4 298.8,381.9 298.6,382.4 298.3,382.9 298.1,383.4 297.9,383.9 297.8,384.4 297.6,384.9 297.6,385.4 297.5,385.9 297.4,386.4 297.3,386.9 297.3,387.4 297.2,387.9 297.2,388.4 297.1,388.9 297.1,389.4 297.0,389.9 297.0,390.4 297.0,390.9 297.0,391.4 297.0,391.9 297.0,392.4 297.0,392.9 297.0,393.4 297.0,393.9 297.0,394.4 297.0,394.9 297.0,395.4 297.0,395.6 297.0,395.6 297.0,395.4 297.0,394.9 297.0,394.4 297.0,393.9 297.0,393.4 297.0,392.9 297.0,392.4 297.0,391.9 297.0,391.4 297.0,390.9 297.0,390.4 297.0,389.9 296.9,389.4 296.9,388.9 296.8,388.4 296.8,387.9 296.7,387.4 296.7,386.9 296.6,386.4 296.5,385.9 296.4,385.4 296.4,384.9 296.2,384.4 296.1,383.9 295.9,383.4 295.7,382.9 295.4,382.4 295.2,381.9 295.0,381.4 294.7,380.9 294.5,380.4 294.3,379.9 294.1,379.4 293.8,378.9 293.6,378.4 293.4,377.9 293.2,377.4 293.1,376.9 293.1,376.4 293.2,375.9 293.5,375.4 293.8,374.9 294.1,374.4 294.5,373.9 294.8,373.4 295.0,372.9 295.2,372.4 295.4,371.9 295.5,371.4 295.7,370.9 295.9,370.4 296.0,369.9 296.1,369.4 296.3,368.9 296.4,368.4 296.5,367.9 296.5,367.4 296.6,366.9 296.7,366.4 296.8,365.9 296.8,365.4 296.9,364.9 296.9,364.4 297.0,363.9 297.0,363.4 297.0,362.9 297.0,362.4 297.0,361.9 297.0,361.4 297.0,360.9 297.0,360.4" fill="#3bbaee" stroke="#15729f" stroke-width="1.0" stroke-linejoin="round"/><line x1="294.41" y1="374.00" x2="299.59" y2="374.00" stroke="#2a8fc5" stroke-width="0.5" opacity="0.8"/><line x1="295.02" y1="381.50" x2="298.98" y2="381.50" stroke="#2a8fc5" stroke-width="0.5" opacity="0.8"/><line x1="293.43" y1="378.00" x2="300.57" y2="378.00" stroke="#1a8fd0" stroke-width="1.2"/><polygon points="310.5,349.2 310.5,349.7 310.5,350.2 310.5,350.7 310.5,351.2 310.5,351.7 310.5,352.2 310.5,352.7 310.5,353.2 310.5,353.7 310.5,354.2 310.5,354.7 310.6,355.2 310.6,355.7 310.6,356.2 310.7,356.7 310.7,357.2 310.8,357.7 310.8,358.2 310.9,358.7 310.9,359.2 311.0,359.7 311.0,360.2 311.1,360.7 311.1,361.2 311.2,361.7 311.2,362.2 311.3,362.7 311.4,363.2 311.4,363.7 311.5,364.2 311.6,364.7 311.6,365.2 311.7,365.7 311.8,366.2 311.9,366.7 311.9,367.2 312.0,367.7 312.1,368.2 312.2,368.7 312.3,369.2 312.4,369.7 312.5,370.2 312.5,370.7 312.6,371.2 312.7,371.7 312.9,372.2 313.0,372.7 313.1,373.2 313.3,373.7 313.4,374.2 313.5,374.7 313.7,375.2 313.8,375.7 313.9,376.2 314.1,376.7 314.2,377.2 314.3,377.7 314.3,378.2 314.4,378.7 314.4,379.2 314.4,379.7 314.3,380.2 314.2,380.7 314.1,381.2 313.9,381.7 313.8,382.2 313.6,382.7 313.4,383.2 313.1,383.7 312.9,384.2 312.7,384.7 312.6,385.2 312.4,385.7 312.2,386.2 312.0,386.7 311.8,387.2 311.6,387.7 311.4,388.2 311.3,388.7 311.1,389.2 311.0,389.7 310.9,390.2 310.8,390.7 310.7,391.2 310.6,391.7 310.5,392.2 310.5,392.7 310.5,393.2 310.5,393.7 310.5,394.2 310.5,394.7 310.5,394.9 310.5,394.9 310.5,394.7 310.5,394.2 310.5,393.7 310.5,393.2 310.5,392.7 310.5,392.2 310.4,391.7 310.3,391.2 310.2,390.7 310.1,390.2 310.0,389.7 309.9,389.2 309.7,388.7 309.6,388.2 309.4,387.7 309.2,387.2 309.0,386.7 308.8,386.2 308.6,385.7 308.4,385.2 308.3,384.7 308.1,384.2 307.9,383.7 307.6,383.2 307.4,382.7 307.2,382.2 307.1,381.7 306.9,381.2 306.8,380.7 306.7,380.2 306.6,379.7 306.6,379.2 306.6,378.7 306.7,378.2 306.7,377.7 306.8,377.2 306.9,376.7 307.1,376.2 307.2,375.7 307.3,375.2 307.5,374.7 307.6,374.2 307.7,373.7 307.9,373.2 308.0,372.7 308.1,372.2 308.3,371.7 308.4,371.2 308.5,370.7 308.5,370.2 308.6,369.7 308.7,369.2 308.8,368.7 308.9,368.2 309.0,367.7 309.1,367.2 309.1,366.7 309.2,366.2 309.3,365.7 309.4,365.2 309.4,364.7 309.5,364.2 309.6,363.7 309.6,363.2 309.7,362.7 309.8,362.2 309.8,361.7 309.9,361.2 309.9,360.7 310.0,360.2 310.0,359.7 310.1,359.2 310.1,358.7 310.2,358.2 310.2,357.7 310.3,357.2 310.3,356.7 310.4,356.2 310.4,355.7 310.4,355.2 310.5,354.7 310.5,354.2 310.5,353.7 310.5,353.2 310.5,352.7 310.5,352.2 310.5,351.7 310.5,351.2 310.5,350.7 310.5,350.2 310.5,349.7 310.5,349.2" fill="#fbd97b" stroke="#967818" stroke-width="1.0" stroke-linejoin="round"/><line x1="307.65" y1="374.00" x2="313.35" y2="374.00" stroke="#c09030" stroke-width="0.5" opacity="0.8"/><line x1="308.36" y1="385.00" x2="312.64" y2="385.00" stroke="#c09030" stroke-width="0.5" opacity="0.8"/><line x1="306.65" y1="380.10" x2="314.35" y2="380.10" stroke="#f5bd00" stroke-width="1.2"/><polygon points="324.0,364.6 324.0,365.1 324.0,365.6 324.0,366.1 324.0,366.6 324.0,367.1 324.0,367.6 324.0,368.1 324.0,368.6 324.0,369.1 324.1,369.6 324.1,370.1 324.2,370.6 324.2,371.1 324.3,371.6 324.3,372.1 324.4,372.6 324.5,373.1 324.6,373.6 324.7,374.1 324.8,374.6 324.9,375.1 325.0,375.6 325.1,376.1 325.3,376.6 325.5,377.1 325.7,377.6 325.9,378.1 326.1,378.6 326.3,379.1 326.7,379.6 327.2,380.1 327.5,380.6 327.8,381.1 327.9,381.6 327.8,382.1 327.6,382.6 327.3,383.1 327.0,383.6 326.7,384.1 326.3,384.6 326.1,385.1 325.9,385.6 325.7,386.1 325.5,386.6 325.3,387.1 325.1,387.6 324.9,388.1 324.8,388.6 324.6,389.1 324.5,389.6 324.5,390.1 324.4,390.6 324.3,391.1 324.2,391.6 324.2,392.1 324.1,392.6 324.1,393.1 324.0,393.6 324.0,394.1 324.0,394.6 324.0,395.1 324.0,395.6 324.0,396.1 324.0,396.6 324.0,397.1 324.0,397.6 324.0,397.7 324.0,397.7 324.0,397.6 324.0,397.1 324.0,396.6 324.0,396.1 324.0,395.6 324.0,395.1 324.0,394.6 324.0,394.1 324.0,393.6 323.9,393.1 323.9,392.6 323.8,392.1 323.8,391.6 323.7,391.1 323.6,390.6 323.5,390.1 323.5,389.6 323.4,389.1 323.2,388.6 323.1,388.1 322.9,387.6 322.7,387.1 322.5,386.6 322.3,386.1 322.1,385.6 321.9,385.1 321.7,384.6 321.3,384.1 321.0,383.6 320.7,383.1 320.4,382.6 320.2,382.1 320.1,381.6 320.2,381.1 320.5,380.6 320.8,380.1 321.3,379.6 321.7,379.1 321.9,378.6 322.1,378.1 322.3,377.6 322.5,377.1 322.7,376.6 322.9,376.1 323.0,375.6 323.1,375.1 323.2,374.6 323.3,374.1 323.4,373.6 323.5,373.1 323.6,372.6 323.7,372.1 323.7,371.6 323.8,371.1 323.8,370.6 323.9,370.1 323.9,369.6 324.0,369.1 324.0,368.6 324.0,368.1 324.0,367.6 324.0,367.1 324.0,366.6 324.0,366.1 324.0,365.6 324.0,365.1 324.0,364.6" fill="#f78d8d" stroke="#b02626" stroke-width="1.0" stroke-linejoin="round"/><line x1="322.19" y1="378.00" x2="325.81" y2="378.00" stroke="#d04c4c" stroke-width="0.5" opacity="0.8"/><line x1="321.85" y1="385.00" x2="326.15" y2="385.00" stroke="#d04c4c" stroke-width="0.5" opacity="0.8"/><line x1="320.12" y1="381.50" x2="327.88" y2="381.50" stroke="#f01010" stroke-width="1.2"/><polygon points="337.5,355.5 337.5,356.0 337.5,356.5 337.5,357.0 337.5,357.5 337.5,358.0 337.5,358.5 337.5,359.0 337.5,359.5 337.5,360.0 337.6,360.5 337.6,361.0 337.7,361.5 337.7,362.0 337.8,362.5 337.8,363.0 337.9,363.5 337.9,364.0 338.0,364.5 338.0,365.0 338.1,365.5 338.2,366.0 338.3,366.5 338.3,367.0 338.4,367.5 338.5,368.0 338.6,368.5 338.7,369.0 338.8,369.5 338.8,370.0 338.9,370.5 339.0,371.0 339.1,371.5 339.2,372.0 339.3,372.5 339.4,373.0 339.5,373.5 339.6,374.0 339.8,374.5 339.9,375.0 340.1,375.5 340.2,376.0 340.4,376.5 340.5,377.0 340.7,377.5 340.9,378.0 341.0,378.5 341.1,379.0 341.3,379.5 341.4,380.0 341.4,380.5 341.5,381.0 341.5,381.5 341.5,382.0 341.4,382.5 341.3,383.0 341.2,383.5 341.0,384.0 340.8,384.5 340.6,385.0 340.4,385.5 340.3,386.0 340.1,386.5 339.9,387.0 339.8,387.5 339.6,388.0 339.4,388.5 339.1,389.0 338.9,389.5 338.7,390.0 338.6,390.5 338.4,391.0 338.2,391.5 338.1,392.0 338.0,392.5 337.9,393.0 337.8,393.5 337.8,394.0 337.7,394.5 337.6,395.0 337.6,395.5 337.5,396.0 337.5,396.5 337.5,397.0 337.5,397.5 337.5,398.0 337.5,398.5 337.5,399.0 337.5,399.2 337.5,399.2 337.5,399.0 337.5,398.5 337.5,398.0 337.5,397.5 337.5,397.0 337.5,396.5 337.5,396.0 337.4,395.5 337.4,395.0 337.3,394.5 337.2,394.0 337.2,393.5 337.1,393.0 337.0,392.5 336.9,392.0 336.8,391.5 336.6,391.0 336.4,390.5 336.3,390.0 336.1,389.5 335.9,389.0 335.6,388.5 335.4,388.0 335.2,387.5 335.1,387.0 334.9,386.5 334.7,386.0 334.6,385.5 334.4,385.0 334.2,384.5 334.0,384.0 333.8,383.5 333.7,383.0 333.6,382.5 333.5,382.0 333.5,381.5 333.5,381.0 333.6,380.5 333.6,380.0 333.7,379.5 333.9,379.0 334.0,378.5 334.1,378.0 334.3,377.5 334.5,377.0 334.6,376.5 334.8,376.0 334.9,375.5 335.1,375.0 335.2,374.5 335.4,374.0 335.5,373.5 335.6,373.0 335.7,372.5 335.8,372.0 335.9,371.5 336.0,371.0 336.1,370.5 336.2,370.0 336.2,369.5 336.3,369.0 336.4,368.5 336.5,368.0 336.6,367.5 336.7,367.0 336.7,366.5 336.8,366.0 336.9,365.5 337.0,365.0 337.0,364.5 337.1,364.0 337.1,363.5 337.2,363.0 337.2,362.5 337.3,362.0 337.3,361.5 337.4,361.0 337.4,360.5 337.5,360.0 337.5,359.5 337.5,359.0 337.5,358.5 337.5,358.0 337.5,357.5 337.5,357.0 337.5,356.5 337.5,356.0 337.5,355.5" fill="#e190e3" stroke="#7a177b" stroke-width="1.0" stroke-linejoin="round"/><line x1="334.79" y1="376.00" x2="340.21" y2="376.00" stroke="#b050b2" stroke-width="0.5" opacity="0.8"/><line x1="335.07" y1="387.00" x2="339.93" y2="387.00" stroke="#b050b2" stroke-width="0.5" opacity="0.8"/><line x1="333.53" y1="382.00" x2="341.47" y2="382.00" stroke="#c010c0" stroke-width="1.2"/><text x="365.6" y="301.8" font-size="12.3" font-weight="bold" stroke="#000" stroke-width="0.6">K</text><text x="409.25" y="302.1" font-size="10" font-weight="bold" text-anchor="middle" stroke="#000" stroke-width="0.4" textLength="22.50" lengthAdjust="spacingAndGlyphs">IFIT3</text><line x1="372.7" y1="329.8" x2="372.7" y2="401.5" stroke="#7a7a7a" stroke-width="0.9"/><line x1="370.09999999999997" y1="401.5" x2="445.40000000000003" y2="401.5" stroke="#7a7a7a" stroke-width="0.9"/><line x1="370.09999999999997" y1="329.80" x2="372.7" y2="329.80" stroke="#7a7a7a" stroke-width="0.9"/><text x="369.10" y="332.00" font-size="6.0" font-weight="bold" text-anchor="end" fill="#111" stroke="#111" stroke-width="0.3">15</text><line x1="370.09999999999997" y1="353.70" x2="372.7" y2="353.70" stroke="#7a7a7a" stroke-width="0.9"/><text x="369.10" y="355.90" font-size="6.0" font-weight="bold" text-anchor="end" fill="#111" stroke="#111" stroke-width="0.3">10</text><line x1="370.09999999999997" y1="377.60" x2="372.7" y2="377.60" stroke="#7a7a7a" stroke-width="0.9"/><text x="369.10" y="379.80" font-size="6.0" font-weight="bold" text-anchor="end" fill="#111" stroke="#111" stroke-width="0.3">5</text><line x1="370.09999999999997" y1="401.50" x2="372.7" y2="401.50" stroke="#7a7a7a" stroke-width="0.9"/><text x="369.10" y="403.70" font-size="6.0" font-weight="bold" text-anchor="end" fill="#111" stroke="#111" stroke-width="0.3">0</text><line x1="381.8" y1="401.5" x2="381.8" y2="403.9" stroke="#7a7a7a" stroke-width="0.9"/><line x1="395.3" y1="401.5" x2="395.3" y2="403.9" stroke="#7a7a7a" stroke-width="0.9"/><line x1="408.8" y1="401.5" x2="408.8" y2="403.9" stroke="#7a7a7a" stroke-width="0.9"/><line x1="422.3" y1="401.5" x2="422.3" y2="403.9" stroke="#7a7a7a" stroke-width="0.9"/><line x1="435.8" y1="401.5" x2="435.8" y2="403.9" stroke="#7a7a7a" stroke-width="0.9"/><text transform="translate(383.20,407.90) rotate(-45)" font-size="6.0" font-weight="bold" text-anchor="end" fill="#222" stroke="#222" stroke-width="0.2">Normal</text><text transform="translate(396.70,407.90) rotate(-45)" font-size="6.0" font-weight="bold" text-anchor="end" fill="#222" stroke="#222" stroke-width="0.2">LumA</text><text transform="translate(410.20,407.90) rotate(-45)" font-size="6.0" font-weight="bold" text-anchor="end" fill="#222" stroke="#222" stroke-width="0.2">LumB</text><text transform="translate(423.70,407.90) rotate(-45)" font-size="6.0" font-weight="bold" text-anchor="end" fill="#222" stroke="#222" stroke-width="0.2">Her2</text><text transform="translate(437.20,407.90) rotate(-45)" font-size="6.0" font-weight="bold" text-anchor="end" fill="#222" stroke="#222" stroke-width="0.2">Basal</text><text transform="translate(360.40,364.75) rotate(-90)" font-size="7.8" font-weight="bold" text-anchor="middle" fill="#111" stroke="#111" stroke-width="0.3" textLength="48.6" lengthAdjust="spacingAndGlyphs">log<tspan font-size="5.2" dy="1.6">2</tspan><tspan dy="-1.6">(TPM+1)</tspan></text><line x1="395.3" y1="335.9" x2="408.8" y2="335.9" stroke="#8c8c8c" stroke-width="0.9"/><rect x="398.50" y="332.60" width="7.10" height="1.5" fill="#2a2a2a" rx="0.4"/><line x1="381.8" y1="341" x2="435.8" y2="341" stroke="#8c8c8c" stroke-width="0.9"/><rect x="407.00" y="337.70" width="3.60" height="1.5" fill="#2a2a2a" rx="0.4"/><line x1="381.8" y1="346.3" x2="408.8" y2="346.3" stroke="#8c8c8c" stroke-width="0.9"/><rect x="391.75" y="343.00" width="7.10" height="1.5" fill="#2a2a2a" rx="0.4"/><polygon points="381.8,355.6 381.8,356.1 381.8,356.6 381.8,357.1 381.9,357.6 381.9,358.1 381.9,358.6 381.9,359.1 381.9,359.6 381.9,360.1 381.9,360.6 381.9,361.1 381.9,361.6 382.0,362.1 382.0,362.6 382.0,363.1 382.0,363.6 382.0,364.1 382.0,364.6 382.0,365.1 382.0,365.6 382.0,366.1 382.1,366.6 382.2,367.1 382.4,367.6 382.6,368.1 382.8,368.6 383.0,369.1 383.3,369.6 383.6,370.1 383.9,370.6 384.2,371.1 384.4,371.6 384.6,372.1 384.9,372.6 385.1,373.1 385.3,373.6 385.4,374.1 385.4,374.6 385.4,375.1 385.3,375.6 385.2,376.1 385.1,376.6 384.7,377.1 384.2,377.6 383.7,378.1 383.3,378.6 383.1,379.1 382.9,379.6 382.7,380.1 382.5,380.6 382.4,381.1 382.3,381.6 382.2,382.1 382.2,382.6 382.1,383.1 382.0,383.6 382.0,384.1 381.9,384.6 381.9,385.1 381.8,385.6 381.8,386.1 381.8,386.6 381.8,387.1 381.8,387.6 381.8,388.1 381.8,388.6 381.8,389.1 381.8,389.6 381.8,390.1 381.8,390.4 381.8,390.4 381.8,390.1 381.8,389.6 381.8,389.1 381.8,388.6 381.8,388.1 381.8,387.6 381.8,387.1 381.8,386.6 381.8,386.1 381.8,385.6 381.7,385.1 381.7,384.6 381.6,384.1 381.6,383.6 381.5,383.1 381.4,382.6 381.4,382.1 381.3,381.6 381.2,381.1 381.1,380.6 380.9,380.1 380.7,379.6 380.5,379.1 380.3,378.6 379.9,378.1 379.4,377.6 378.9,377.1 378.5,376.6 378.4,376.1 378.3,375.6 378.2,375.1 378.2,374.6 378.2,374.1 378.3,373.6 378.5,373.1 378.7,372.6 379.0,372.1 379.2,371.6 379.4,371.1 379.7,370.6 380.0,370.1 380.3,369.6 380.6,369.1 380.8,368.6 381.0,368.1 381.2,367.6 381.4,367.1 381.5,366.6 381.6,366.1 381.6,365.6 381.6,365.1 381.6,364.6 381.6,364.1 381.6,363.6 381.6,363.1 381.6,362.6 381.6,362.1 381.7,361.6 381.7,361.1 381.7,360.6 381.7,360.1 381.7,359.6 381.7,359.1 381.7,358.6 381.7,358.1 381.7,357.6 381.8,357.1 381.8,356.6 381.8,356.1 381.8,355.6" fill="#9bd487" stroke="#3a7a2c" stroke-width="1.0" stroke-linejoin="round"/><line x1="379.02" y1="372.00" x2="384.58" y2="372.00" stroke="#5f9f4d" stroke-width="0.5" opacity="0.8"/><line x1="378.82" y1="377.00" x2="384.78" y2="377.00" stroke="#5f9f4d" stroke-width="0.5" opacity="0.8"/><line x1="378.21" y1="374.80" x2="385.39" y2="374.80" stroke="#3db03a" stroke-width="1.2"/><polygon points="395.3,348.1 395.3,348.6 395.3,349.1 395.3,349.6 395.3,350.1 395.4,350.6 395.4,351.1 395.4,351.6 395.4,352.1 395.4,352.6 395.4,353.1 395.4,353.6 395.4,354.1 395.4,354.6 395.4,355.1 395.5,355.6 395.5,356.1 395.5,356.6 395.5,357.1 395.5,357.6 395.5,358.1 395.5,358.6 395.5,359.1 395.5,359.6 395.5,360.1 395.5,360.6 395.6,361.1 395.6,361.6 395.7,362.1 395.8,362.6 395.9,363.1 396.0,363.6 396.2,364.1 396.3,364.6 396.4,365.1 396.6,365.6 396.7,366.1 396.9,366.6 397.0,367.1 397.2,367.6 397.4,368.1 397.5,368.6 397.7,369.1 397.9,369.6 398.0,370.1 398.2,370.6 398.4,371.1 398.6,371.6 398.7,372.1 398.9,372.6 399.0,373.1 399.1,373.6 399.2,374.1 399.2,374.6 399.1,375.1 399.0,375.6 398.8,376.1 398.6,376.6 398.4,377.1 398.2,377.6 398.0,378.1 397.6,378.6 397.3,379.1 397.1,379.6 396.9,380.1 396.7,380.6 396.5,381.1 396.4,381.6 396.3,382.1 396.1,382.6 396.0,383.1 395.9,383.6 395.9,384.1 395.8,384.6 395.7,385.1 395.6,385.6 395.6,386.1 395.5,386.6 395.5,387.1 395.4,387.6 395.4,388.1 395.4,388.6 395.3,389.1 395.3,389.6 395.3,390.1 395.3,390.6 395.3,391.1 395.3,391.6 395.3,392.1 395.3,392.6 395.3,393.1 395.3,393.6 395.3,394.1 395.3,394.6 395.3,395.0 395.3,395.0 395.3,394.6 395.3,394.1 395.3,393.6 395.3,393.1 395.3,392.6 395.3,392.1 395.3,391.6 395.3,391.1 395.3,390.6 395.3,390.1 395.3,389.6 395.3,389.1 395.2,388.6 395.2,388.1 395.2,387.6 395.1,387.1 395.1,386.6 395.0,386.1 395.0,385.6 394.9,385.1 394.8,384.6 394.7,384.1 394.7,383.6 394.6,383.1 394.5,382.6 394.3,382.1 394.2,381.6 394.1,381.1 393.9,380.6 393.7,380.1 393.5,379.6 393.3,379.1 393.0,378.6 392.6,378.1 392.4,377.6 392.2,377.1 392.0,376.6 391.8,376.1 391.6,375.6 391.5,375.1 391.4,374.6 391.4,374.1 391.5,373.6 391.6,373.1 391.7,372.6 391.9,372.1 392.0,371.6 392.2,371.1 392.4,370.6 392.6,370.1 392.7,369.6 392.9,369.1 393.1,368.6 393.2,368.1 393.4,367.6 393.6,367.1 393.7,366.6 393.9,366.1 394.0,365.6 394.2,365.1 394.3,364.6 394.4,364.1 394.6,363.6 394.7,363.1 394.8,362.6 394.9,362.1 395.0,361.6 395.0,361.1 395.1,360.6 395.1,360.1 395.1,359.6 395.1,359.1 395.1,358.6 395.1,358.1 395.1,357.6 395.1,357.1 395.1,356.6 395.1,356.1 395.1,355.6 395.2,355.1 395.2,354.6 395.2,354.1 395.2,353.6 395.2,353.1 395.2,352.6 395.2,352.1 395.2,351.6 395.2,351.1 395.2,350.6 395.3,350.1 395.3,349.6 395.3,349.1 395.3,348.6 395.3,348.1" fill="#3bbaee" stroke="#15729f" stroke-width="1.0" stroke-linejoin="round"/><line x1="392.25" y1="371.00" x2="398.35" y2="371.00" stroke="#2a8fc5" stroke-width="0.5" opacity="0.8"/><line x1="392.89" y1="378.50" x2="397.71" y2="378.50" stroke="#2a8fc5" stroke-width="0.5" opacity="0.8"/><line x1="391.53" y1="375.30" x2="399.07" y2="375.30" stroke="#1a8fd0" stroke-width="1.2"/><polygon points="408.8,348.1 408.8,348.6 408.8,349.1 408.8,349.6 408.9,350.1 408.9,350.6 408.9,351.1 408.9,351.6 409.0,352.1 409.0,352.6 409.0,353.1 409.0,353.6 409.0,354.1 409.1,354.6 409.3,355.1 409.5,355.6 409.7,356.1 409.9,356.6 410.1,357.1 410.3,357.6 410.5,358.1 410.8,358.6 411.0,359.1 411.2,359.6 411.3,360.1 411.5,360.6 411.6,361.1 411.8,361.6 411.9,362.1 412.0,362.6 412.1,363.1 412.2,363.6 412.3,364.1 412.4,364.6 412.4,365.1 412.5,365.6 412.5,366.1 412.6,366.6 412.6,367.1 412.7,367.6 412.7,368.1 412.7,368.6 412.8,369.1 412.8,369.6 412.8,370.1 412.8,370.6 412.8,371.1 412.8,371.6 412.8,372.1 412.7,372.6 412.7,373.1 412.7,373.6 412.6,374.1 412.6,374.6 412.5,375.1 412.5,375.6 412.4,376.1 412.3,376.6 412.2,377.1 412.0,377.6 411.8,378.1 411.6,378.6 411.4,379.1 411.2,379.6 411.0,380.1 410.8,380.6 410.6,381.1 410.4,381.6 410.2,382.1 410.0,382.6 409.8,383.1 409.7,383.6 409.5,384.1 409.4,384.6 409.3,385.1 409.2,385.6 409.2,386.1 409.1,386.6 409.1,387.1 409.1,387.6 409.1,388.1 409.0,388.6 409.0,389.1 409.0,389.6 408.9,390.1 408.9,390.6 408.8,391.1 408.8,391.6 408.8,392.1 408.8,392.6 408.8,393.1 408.8,393.6 408.8,394.1 408.8,394.6 408.8,395.1 408.8,395.6 408.8,396.0 408.8,396.0 408.8,395.6 408.8,395.1 408.8,394.6 408.8,394.1 408.8,393.6 408.8,393.1 408.8,392.6 408.8,392.1 408.8,391.6 408.8,391.1 408.7,390.6 408.7,390.1 408.6,389.6 408.6,389.1 408.6,388.6 408.5,388.1 408.5,387.6 408.5,387.1 408.5,386.6 408.4,386.1 408.4,385.6 408.3,385.1 408.2,384.6 408.1,384.1 407.9,383.6 407.8,383.1 407.6,382.6 407.4,382.1 407.2,381.6 407.0,381.1 406.8,380.6 406.6,380.1 406.4,379.6 406.2,379.1 406.0,378.6 405.8,378.1 405.6,377.6 405.4,377.1 405.3,376.6 405.2,376.1 405.1,375.6 405.1,375.1 405.0,374.6 405.0,374.1 404.9,373.6 404.9,373.1 404.9,372.6 404.8,372.1 404.8,371.6 404.8,371.1 404.8,370.6 404.8,370.1 404.8,369.6 404.8,369.1 404.9,368.6 404.9,368.1 404.9,367.6 405.0,367.1 405.0,366.6 405.1,366.1 405.1,365.6 405.2,365.1 405.2,364.6 405.3,364.1 405.4,363.6 405.5,363.1 405.6,362.6 405.7,362.1 405.8,361.6 406.0,361.1 406.1,360.6 406.3,360.1 406.4,359.6 406.6,359.1 406.8,358.6 407.1,358.1 407.3,357.6 407.5,357.1 407.7,356.6 407.9,356.1 408.1,355.6 408.3,355.1 408.5,354.6 408.6,354.1 408.6,353.6 408.6,353.1 408.6,352.6 408.6,352.1 408.7,351.6 408.7,351.1 408.7,350.6 408.7,350.1 408.8,349.6 408.8,349.1 408.8,348.6 408.8,348.1" fill="#fbd97b" stroke="#967818" stroke-width="1.0" stroke-linejoin="round"/><line x1="405.42" y1="363.50" x2="412.18" y2="363.50" stroke="#c09030" stroke-width="0.5" opacity="0.8"/><line x1="405.36" y1="377.00" x2="412.24" y2="377.00" stroke="#c09030" stroke-width="0.5" opacity="0.8"/><line x1="404.80" y1="370.70" x2="412.80" y2="370.70" stroke="#f5bd00" stroke-width="1.2"/><polygon points="422.3,352.3 422.3,352.8 422.3,353.3 422.3,353.8 422.3,354.3 422.4,354.8 422.4,355.3 422.4,355.8 422.4,356.3 422.4,356.8 422.4,357.3 422.4,357.8 422.4,358.3 422.4,358.8 422.4,359.3 422.5,359.8 422.5,360.3 422.5,360.8 422.5,361.3 422.5,361.8 422.5,362.3 422.5,362.8 422.5,363.3 422.5,363.8 422.5,364.3 422.6,364.8 422.6,365.3 422.8,365.8 422.9,366.3 423.1,366.8 423.2,367.3 423.4,367.8 423.6,368.3 423.8,368.8 424.1,369.3 424.4,369.8 424.7,370.3 425.0,370.8 425.3,371.3 425.8,371.8 426.1,372.3 426.3,372.8 426.2,373.3 426.1,373.8 425.8,374.3 425.4,374.8 425.1,375.3 424.9,375.8 424.6,376.3 424.4,376.8 424.1,377.3 423.9,377.8 423.7,378.3 423.5,378.8 423.3,379.3 423.2,379.8 423.0,380.3 422.9,380.8 422.8,381.3 422.7,381.8 422.7,382.3 422.6,382.8 422.6,383.3 422.6,383.8 422.5,384.3 422.5,384.8 422.5,385.3 422.4,385.8 422.4,386.3 422.4,386.8 422.3,387.3 422.3,387.8 422.3,388.3 422.3,388.8 422.3,389.3 422.3,389.8 422.3,390.3 422.3,390.8 422.3,391.3 422.3,391.8 422.3,392.3 422.3,392.8 422.3,393.2 422.3,393.2 422.3,392.8 422.3,392.3 422.3,391.8 422.3,391.3 422.3,390.8 422.3,390.3 422.3,389.8 422.3,389.3 422.3,388.8 422.3,388.3 422.3,387.8 422.3,387.3 422.2,386.8 422.2,386.3 422.2,385.8 422.1,385.3 422.1,384.8 422.1,384.3 422.0,383.8 422.0,383.3 422.0,382.8 421.9,382.3 421.9,381.8 421.8,381.3 421.7,380.8 421.6,380.3 421.4,379.8 421.3,379.3 421.1,378.8 420.9,378.3 420.7,377.8 420.5,377.3 420.2,376.8 420.0,376.3 419.7,375.8 419.5,375.3 419.2,374.8 418.8,374.3 418.5,373.8 418.4,373.3 418.3,372.8 418.5,372.3 418.8,371.8 419.3,371.3 419.6,370.8 419.9,370.3 420.2,369.8 420.5,369.3 420.8,368.8 421.0,368.3 421.2,367.8 421.4,367.3 421.5,366.8 421.7,366.3 421.8,365.8 422.0,365.3 422.0,364.8 422.1,364.3 422.1,363.8 422.1,363.3 422.1,362.8 422.1,362.3 422.1,361.8 422.1,361.3 422.1,360.8 422.1,360.3 422.1,359.8 422.2,359.3 422.2,358.8 422.2,358.3 422.2,357.8 422.2,357.3 422.2,356.8 422.2,356.3 422.2,355.8 422.2,355.3 422.2,354.8 422.3,354.3 422.3,353.8 422.3,353.3 422.3,352.8 422.3,352.3" fill="#f78d8d" stroke="#b02626" stroke-width="1.0" stroke-linejoin="round"/><line x1="420.11" y1="370.00" x2="424.49" y2="370.00" stroke="#d04c4c" stroke-width="0.5" opacity="0.8"/><line x1="419.84" y1="376.00" x2="424.76" y2="376.00" stroke="#d04c4c" stroke-width="0.5" opacity="0.8"/><line x1="418.32" y1="372.90" x2="426.28" y2="372.90" stroke="#f01010" stroke-width="1.2"/><polygon points="435.8,348.1 435.8,348.6 435.8,349.1 435.8,349.6 435.8,350.1 435.9,350.6 435.9,351.1 435.9,351.6 435.9,352.1 435.9,352.6 435.9,353.1 435.9,353.6 436.0,354.1 436.0,354.6 436.0,355.1 436.0,355.6 436.0,356.1 436.0,356.6 436.0,357.1 436.0,357.6 436.0,358.1 436.1,358.6 436.2,359.1 436.3,359.6 436.4,360.1 436.5,360.6 436.6,361.1 436.8,361.6 436.9,362.1 437.0,362.6 437.1,363.1 437.3,363.6 437.5,364.1 437.6,364.6 437.8,365.1 438.0,365.6 438.2,366.1 438.3,366.6 438.5,367.1 438.6,367.6 438.8,368.1 438.9,368.6 439.1,369.1 439.3,369.6 439.4,370.1 439.5,370.6 439.7,371.1 439.7,371.6 439.8,372.1 439.8,372.6 439.8,373.1 439.7,373.6 439.6,374.1 439.4,374.6 439.3,375.1 439.1,375.6 439.0,376.1 438.8,376.6 438.6,377.1 438.4,377.6 438.2,378.1 438.0,378.6 437.7,379.1 437.5,379.6 437.4,380.1 437.2,380.6 437.1,381.1 436.9,381.6 436.8,382.1 436.6,382.6 436.5,383.1 436.4,383.6 436.4,384.1 436.3,384.6 436.2,385.1 436.1,385.6 436.1,386.1 436.0,386.6 436.0,387.1 435.9,387.6 435.9,388.1 435.9,388.6 435.8,389.1 435.8,389.6 435.8,390.1 435.8,390.6 435.8,391.1 435.8,391.6 435.8,392.1 435.8,392.6 435.8,393.1 435.8,393.6 435.8,394.1 435.8,394.6 435.8,395.1 435.8,395.6 435.8,396.0 435.8,396.0 435.8,395.6 435.8,395.1 435.8,394.6 435.8,394.1 435.8,393.6 435.8,393.1 435.8,392.6 435.8,392.1 435.8,391.6 435.8,391.1 435.8,390.6 435.8,390.1 435.8,389.6 435.8,389.1 435.7,388.6 435.7,388.1 435.7,387.6 435.6,387.1 435.6,386.6 435.5,386.1 435.5,385.6 435.4,385.1 435.3,384.6 435.2,384.1 435.2,383.6 435.1,383.1 435.0,382.6 434.8,382.1 434.7,381.6 434.5,381.1 434.4,380.6 434.2,380.1 434.1,379.6 433.9,379.1 433.6,378.6 433.4,378.1 433.2,377.6 433.0,377.1 432.8,376.6 432.6,376.1 432.5,375.6 432.3,375.1 432.2,374.6 432.0,374.1 431.9,373.6 431.8,373.1 431.8,372.6 431.8,372.1 431.9,371.6 431.9,371.1 432.1,370.6 432.2,370.1 432.3,369.6 432.5,369.1 432.7,368.6 432.8,368.1 433.0,367.6 433.1,367.1 433.3,366.6 433.4,366.1 433.6,365.6 433.8,365.1 434.0,364.6 434.1,364.1 434.3,363.6 434.5,363.1 434.6,362.6 434.7,362.1 434.8,361.6 435.0,361.1 435.1,360.6 435.2,360.1 435.3,359.6 435.4,359.1 435.5,358.6 435.6,358.1 435.6,357.6 435.6,357.1 435.6,356.6 435.6,356.1 435.6,355.6 435.6,355.1 435.6,354.6 435.6,354.1 435.7,353.6 435.7,353.1 435.7,352.6 435.7,352.1 435.7,351.6 435.7,351.1 435.7,350.6 435.8,350.1 435.8,349.6 435.8,349.1 435.8,348.6 435.8,348.1" fill="#e190e3" stroke="#7a177b" stroke-width="1.0" stroke-linejoin="round"/><line x1="432.86" y1="368.00" x2="438.74" y2="368.00" stroke="#b050b2" stroke-width="0.5" opacity="0.8"/><line x1="433.37" y1="378.00" x2="438.23" y2="378.00" stroke="#b050b2" stroke-width="0.5" opacity="0.8"/><line x1="431.84" y1="373.10" x2="439.76" y2="373.10" stroke="#c010c0" stroke-width="1.2"/><text x="465.0" y="87.1" font-size="12.3" font-weight="bold" stroke="#000" stroke-width="0.6">L</text><text x="508.85" y="87.1" font-size="10" font-weight="bold" text-anchor="middle" stroke="#000" stroke-width="0.4" textLength="46.70" lengthAdjust="spacingAndGlyphs">CACNA1C</text><line x1="472.0" y1="116.2" x2="472.0" y2="188.8" stroke="#7a7a7a" stroke-width="0.9"/><line x1="469.4" y1="188.8" x2="545.0" y2="188.8" stroke="#7a7a7a" stroke-width="0.9"/><line x1="469.4" y1="116.20" x2="472.0" y2="116.20" stroke="#7a7a7a" stroke-width="0.9"/><text x="468.40" y="118.40" font-size="6.0" font-weight="bold" text-anchor="end" fill="#111" stroke="#111" stroke-width="0.3">6</text><line x1="469.4" y1="134.35" x2="472.0" y2="134.35" stroke="#7a7a7a" stroke-width="0.9"/><text x="468.40" y="136.55" font-size="6.0" font-weight="bold" text-anchor="end" fill="#111" stroke="#111" stroke-width="0.3">4</text><line x1="469.4" y1="152.50" x2="472.0" y2="152.50" stroke="#7a7a7a" stroke-width="0.9"/><text x="468.40" y="154.70" font-size="6.0" font-weight="bold" text-anchor="end" fill="#111" stroke="#111" stroke-width="0.3">2</text><line x1="469.4" y1="170.65" x2="472.0" y2="170.65" stroke="#7a7a7a" stroke-width="0.9"/><text x="468.40" y="172.85" font-size="6.0" font-weight="bold" text-anchor="end" fill="#111" stroke="#111" stroke-width="0.3">0</text><line x1="469.4" y1="188.80" x2="472.0" y2="188.80" stroke="#7a7a7a" stroke-width="0.9"/><text x="468.40" y="191.00" font-size="6.0" font-weight="bold" text-anchor="end" fill="#111" stroke="#111" stroke-width="0.3">-2</text><line x1="481" y1="188.8" x2="481" y2="191.20000000000002" stroke="#7a7a7a" stroke-width="0.9"/><line x1="494.6" y1="188.8" x2="494.6" y2="191.20000000000002" stroke="#7a7a7a" stroke-width="0.9"/><line x1="508.2" y1="188.8" x2="508.2" y2="191.20000000000002" stroke="#7a7a7a" stroke-width="0.9"/><line x1="521.8" y1="188.8" x2="521.8" y2="191.20000000000002" stroke="#7a7a7a" stroke-width="0.9"/><line x1="535.4" y1="188.8" x2="535.4" y2="191.20000000000002" stroke="#7a7a7a" stroke-width="0.9"/><text transform="translate(482.40,195.20) rotate(-45)" font-size="6.0" font-weight="bold" text-anchor="end" fill="#222" stroke="#222" stroke-width="0.2">Normal</text><text transform="translate(496.00,195.20) rotate(-45)" font-size="6.0" font-weight="bold" text-anchor="end" fill="#222" stroke="#222" stroke-width="0.2">LumA</text><text transform="translate(509.60,195.20) rotate(-45)" font-size="6.0" font-weight="bold" text-anchor="end" fill="#222" stroke="#222" stroke-width="0.2">LumB</text><text transform="translate(523.20,195.20) rotate(-45)" font-size="6.0" font-weight="bold" text-anchor="end" fill="#222" stroke="#222" stroke-width="0.2">Her2</text><text transform="translate(536.80,195.20) rotate(-45)" font-size="6.0" font-weight="bold" text-anchor="end" fill="#222" stroke="#222" stroke-width="0.2">Basal</text><text transform="translate(459.90,151.60) rotate(-90)" font-size="7.8" font-weight="bold" text-anchor="middle" fill="#111" stroke="#111" stroke-width="0.3" textLength="48.6" lengthAdjust="spacingAndGlyphs">log<tspan font-size="5.2" dy="1.6">2</tspan><tspan dy="-1.6">(TPM+1)</tspan></text><line x1="481" y1="95.9" x2="535.4" y2="95.9" stroke="#8c8c8c" stroke-width="0.9"/><rect x="504.65" y="92.60" width="7.10" height="1.5" fill="#2a2a2a" rx="0.4"/><line x1="494.6" y1="101.4" x2="535.4" y2="101.4" stroke="#8c8c8c" stroke-width="0.9"/><rect x="511.45" y="98.10" width="7.10" height="1.5" fill="#2a2a2a" rx="0.4"/><line x1="481" y1="106.8" x2="521.8" y2="106.8" stroke="#8c8c8c" stroke-width="0.9"/><rect x="497.85" y="103.50" width="7.10" height="1.5" fill="#2a2a2a" rx="0.4"/><line x1="481" y1="112.3" x2="508.2" y2="112.3" stroke="#8c8c8c" stroke-width="0.9"/><rect x="491.05" y="109.00" width="7.10" height="1.5" fill="#2a2a2a" rx="0.4"/><line x1="494.6" y1="117.5" x2="521.8" y2="117.5" stroke="#8c8c8c" stroke-width="0.9"/><rect x="504.65" y="114.20" width="7.10" height="1.5" fill="#2a2a2a" rx="0.4"/><line x1="481" y1="122.9" x2="493.1" y2="122.9" stroke="#8c8c8c" stroke-width="0.9"/><rect x="483.50" y="119.60" width="7.10" height="1.5" fill="#2a2a2a" rx="0.4"/><line x1="496.1" y1="122.9" x2="508.2" y2="122.9" stroke="#8c8c8c" stroke-width="0.9"/><rect x="498.60" y="119.60" width="7.10" height="1.5" fill="#2a2a2a" rx="0.4"/><polygon points="481.0,131.8 481.0,132.3 481.0,132.8 481.1,133.3 481.1,133.8 481.1,134.3 481.2,134.8 481.2,135.3 481.2,135.8 481.3,136.3 481.5,136.8 481.8,137.3 482.1,137.8 482.3,138.3 482.6,138.8 482.8,139.3 483.0,139.8 483.2,140.3 483.4,140.8 483.6,141.3 483.8,141.8 483.9,142.3 484.0,142.8 484.1,143.3 484.2,143.8 484.3,144.3 484.3,144.8 484.4,145.3 484.4,145.8 484.4,146.3 484.4,146.8 484.3,147.3 484.2,147.8 484.2,148.3 484.1,148.8 484.1,149.3 484.3,149.8 484.5,150.3 484.8,150.8 485.0,151.3 485.0,151.8 484.8,152.3 484.6,152.8 484.3,153.3 484.0,153.8 483.7,154.3 483.4,154.8 483.1,155.3 482.8,155.8 482.5,156.3 482.2,156.8 482.0,157.3 481.8,157.8 481.6,158.3 481.4,158.8 481.3,159.3 481.3,159.8 481.3,160.3 481.2,160.8 481.2,161.3 481.2,161.8 481.2,162.3 481.2,162.8 481.2,163.3 481.2,163.8 481.2,164.3 481.2,164.8 481.2,165.3 481.2,165.8 481.2,166.3 481.2,166.8 481.2,167.3 481.2,167.8 481.2,168.3 481.2,168.8 481.2,169.3 481.2,169.8 481.2,170.3 481.2,170.8 481.0,171.3 481.0,171.3 480.8,170.8 480.8,170.3 480.8,169.8 480.8,169.3 480.8,168.8 480.8,168.3 480.8,167.8 480.8,167.3 480.8,166.8 480.8,166.3 480.8,165.8 480.8,165.3 480.8,164.8 480.8,164.3 480.8,163.8 480.8,163.3 480.8,162.8 480.8,162.3 480.8,161.8 480.8,161.3 480.8,160.8 480.7,160.3 480.7,159.8 480.7,159.3 480.6,158.8 480.4,158.3 480.2,157.8 480.0,157.3 479.8,156.8 479.5,156.3 479.2,155.8 478.9,155.3 478.6,154.8 478.3,154.3 478.0,153.8 477.7,153.3 477.4,152.8 477.2,152.3 477.0,151.8 477.0,151.3 477.2,150.8 477.5,150.3 477.7,149.8 477.9,149.3 477.9,148.8 477.8,148.3 477.8,147.8 477.7,147.3 477.6,146.8 477.6,146.3 477.6,145.8 477.6,145.3 477.7,144.8 477.7,144.3 477.8,143.8 477.9,143.3 478.0,142.8 478.1,142.3 478.2,141.8 478.4,141.3 478.6,140.8 478.8,140.3 479.0,139.8 479.2,139.3 479.4,138.8 479.7,138.3 479.9,137.8 480.2,137.3 480.5,136.8 480.7,136.3 480.8,135.8 480.8,135.3 480.8,134.8 480.9,134.3 480.9,133.8 480.9,133.3 481.0,132.8 481.0,132.3 481.0,131.8" fill="#9bd487" stroke="#3a7a2c" stroke-width="1.0" stroke-linejoin="round"/><line x1="477.72" y1="144.50" x2="484.28" y2="144.50" stroke="#5f9f4d" stroke-width="0.5" opacity="0.8"/><line x1="478.11" y1="154.00" x2="483.89" y2="154.00" stroke="#5f9f4d" stroke-width="0.5" opacity="0.8"/><line x1="477.81" y1="149.60" x2="484.19" y2="149.60" stroke="#3db03a" stroke-width="1.2"/><polygon points="494.6,124.1 494.6,124.6 494.6,125.1 494.6,125.6 494.6,126.1 494.6,126.6 494.6,127.1 494.7,127.6 494.7,128.1 494.7,128.6 494.7,129.1 494.7,129.6 494.7,130.1 494.7,130.6 494.7,131.1 494.7,131.6 494.7,132.1 494.7,132.6 494.7,133.1 494.7,133.6 494.7,134.1 494.7,134.6 494.7,135.1 494.8,135.6 494.8,136.1 494.8,136.6 494.8,137.1 494.8,137.6 494.8,138.1 494.8,138.6 494.8,139.1 494.8,139.6 494.8,140.1 494.8,140.6 494.8,141.1 494.8,141.6 494.9,142.1 495.0,142.6 495.2,143.1 495.3,143.6 495.5,144.1 495.7,144.6 495.9,145.1 496.1,145.6 496.4,146.1 496.6,146.6 496.9,147.1 497.1,147.6 497.3,148.1 497.4,148.6 497.6,149.1 497.8,149.6 497.9,150.1 498.1,150.6 498.2,151.1 498.4,151.6 498.5,152.1 498.6,152.6 498.6,153.1 498.6,153.6 498.5,154.1 498.4,154.6 498.4,155.1 498.3,155.6 498.2,156.1 498.1,156.6 498.1,157.1 498.0,157.6 497.9,158.1 497.9,158.6 497.8,159.1 497.6,159.6 497.4,160.1 497.2,160.6 496.9,161.1 496.6,161.6 496.3,162.1 496.1,162.6 495.9,163.1 495.7,163.6 495.5,164.1 495.4,164.6 495.2,165.1 495.1,165.6 495.0,166.1 495.0,166.6 494.9,167.1 494.9,167.6 494.8,168.1 494.7,168.6 494.7,169.1 494.6,169.6 494.6,170.1 494.6,170.6 494.6,171.1 494.6,171.6 494.6,172.1 494.6,172.6 494.6,172.6 494.6,172.1 494.6,171.6 494.6,171.1 494.6,170.6 494.6,170.1 494.6,169.6 494.5,169.1 494.5,168.6 494.4,168.1 494.3,167.6 494.3,167.1 494.2,166.6 494.2,166.1 494.1,165.6 494.0,165.1 493.8,164.6 493.7,164.1 493.5,163.6 493.3,163.1 493.1,162.6 492.9,162.1 492.6,161.6 492.3,161.1 492.0,160.6 491.8,160.1 491.6,159.6 491.4,159.1 491.3,158.6 491.3,158.1 491.2,157.6 491.1,157.1 491.1,156.6 491.0,156.1 490.9,155.6 490.8,155.1 490.8,154.6 490.7,154.1 490.6,153.6 490.6,153.1 490.6,152.6 490.7,152.1 490.8,151.6 491.0,151.1 491.1,150.6 491.3,150.1 491.4,149.6 491.6,149.1 491.8,148.6 491.9,148.1 492.1,147.6 492.3,147.1 492.6,146.6 492.8,146.1 493.1,145.6 493.3,145.1 493.5,144.6 493.7,144.1 493.9,143.6 494.0,143.1 494.2,142.6 494.3,142.1 494.4,141.6 494.4,141.1 494.4,140.6 494.4,140.1 494.4,139.6 494.4,139.1 494.4,138.6 494.4,138.1 494.4,137.6 494.4,137.1 494.4,136.6 494.4,136.1 494.4,135.6 494.5,135.1 494.5,134.6 494.5,134.1 494.5,133.6 494.5,133.1 494.5,132.6 494.5,132.1 494.5,131.6 494.5,131.1 494.5,130.6 494.5,130.1 494.5,129.6 494.5,129.1 494.5,128.6 494.5,128.1 494.5,127.6 494.6,127.1 494.6,126.6 494.6,126.1 494.6,125.6 494.6,125.1 494.6,124.6 494.6,124.1" fill="#3bbaee" stroke="#15729f" stroke-width="1.0" stroke-linejoin="round"/><line x1="491.46" y1="149.50" x2="497.74" y2="149.50" stroke="#2a8fc5" stroke-width="0.5" opacity="0.8"/><line x1="491.53" y1="159.50" x2="497.67" y2="159.50" stroke="#2a8fc5" stroke-width="0.5" opacity="0.8"/><line x1="490.75" y1="154.50" x2="498.45" y2="154.50" stroke="#1a8fd0" stroke-width="1.2"/><polygon points="508.2,133.1 508.2,133.6 508.2,134.1 508.2,134.6 508.2,135.1 508.3,135.6 508.3,136.1 508.3,136.6 508.3,137.1 508.3,137.6 508.3,138.1 508.3,138.6 508.3,139.1 508.3,139.6 508.3,140.1 508.3,140.6 508.3,141.1 508.3,141.6 508.4,142.1 508.4,142.6 508.4,143.1 508.4,143.6 508.4,144.1 508.4,144.6 508.4,145.1 508.4,145.6 508.4,146.1 508.4,146.6 508.4,147.1 508.4,147.6 508.4,148.1 508.5,148.6 508.6,149.1 508.8,149.6 508.9,150.1 509.1,150.6 509.3,151.1 509.4,151.6 509.6,152.1 509.7,152.6 509.9,153.1 510.0,153.6 510.2,154.1 510.3,154.6 510.5,155.1 510.7,155.6 511.0,156.1 511.2,156.6 511.5,157.1 511.7,157.6 511.9,158.1 512.0,158.6 512.1,159.1 512.1,159.6 512.0,160.1 511.8,160.6 511.5,161.1 511.2,161.6 511.0,162.1 510.7,162.6 510.4,163.1 510.1,163.6 509.8,164.1 509.6,164.6 509.3,165.1 509.1,165.6 509.0,166.1 508.8,166.6 508.6,167.1 508.5,167.6 508.4,168.1 508.3,168.6 508.3,169.1 508.2,169.6 508.2,170.1 508.2,170.6 508.2,171.1 508.2,171.6 508.2,172.1 508.2,172.6 508.2,173.1 508.2,173.4 508.2,173.4 508.2,173.1 508.2,172.6 508.2,172.1 508.2,171.6 508.2,171.1 508.2,170.6 508.2,170.1 508.2,169.6 508.1,169.1 508.1,168.6 508.0,168.1 507.9,167.6 507.8,167.1 507.6,166.6 507.4,166.1 507.3,165.6 507.1,165.1 506.8,164.6 506.6,164.1 506.3,163.6 506.0,163.1 505.7,162.6 505.4,162.1 505.2,161.6 504.9,161.1 504.6,160.6 504.4,160.1 504.3,159.6 504.3,159.1 504.4,158.6 504.5,158.1 504.7,157.6 504.9,157.1 505.2,156.6 505.4,156.1 505.7,155.6 505.9,155.1 506.1,154.6 506.2,154.1 506.4,153.6 506.5,153.1 506.7,152.6 506.8,152.1 507.0,151.6 507.1,151.1 507.3,150.6 507.5,150.1 507.6,149.6 507.8,149.1 507.9,148.6 508.0,148.1 508.0,147.6 508.0,147.1 508.0,146.6 508.0,146.1 508.0,145.6 508.0,145.1 508.0,144.6 508.0,144.1 508.0,143.6 508.0,143.1 508.0,142.6 508.0,142.1 508.1,141.6 508.1,141.1 508.1,140.6 508.1,140.1 508.1,139.6 508.1,139.1 508.1,138.6 508.1,138.1 508.1,137.6 508.1,137.1 508.1,136.6 508.1,136.1 508.1,135.6 508.2,135.1 508.2,134.6 508.2,134.1 508.2,133.6 508.2,133.1" fill="#fbd97b" stroke="#967818" stroke-width="1.0" stroke-linejoin="round"/><line x1="505.46" y1="156.00" x2="510.94" y2="156.00" stroke="#c09030" stroke-width="0.5" opacity="0.8"/><line x1="505.65" y1="162.50" x2="510.75" y2="162.50" stroke="#c09030" stroke-width="0.5" opacity="0.8"/><line x1="504.31" y1="159.40" x2="512.09" y2="159.40" stroke="#f5bd00" stroke-width="1.2"/><polygon points="521.8,142.2 521.8,142.7 521.8,143.2 521.8,143.7 521.8,144.2 521.9,144.7 521.9,145.2 521.9,145.7 521.9,146.2 521.9,146.7 521.9,147.2 521.9,147.7 521.9,148.2 522.0,148.7 522.0,149.2 522.0,149.7 522.0,150.2 522.0,150.7 522.0,151.2 522.1,151.7 522.2,152.2 522.4,152.7 522.7,153.2 522.9,153.7 523.2,154.2 523.5,154.7 523.8,155.2 524.2,155.7 524.5,156.2 524.8,156.7 525.1,157.2 525.4,157.7 525.6,158.2 525.7,158.7 525.6,159.2 525.3,159.7 525.0,160.2 524.6,160.7 524.3,161.2 524.1,161.7 523.8,162.2 523.5,162.7 523.3,163.2 523.0,163.7 522.8,164.2 522.6,164.7 522.3,165.2 522.2,165.7 522.1,166.2 522.0,166.7 521.9,167.2 521.8,167.7 521.8,168.2 521.8,168.7 521.8,169.2 521.8,169.7 521.8,170.2 521.8,170.7 521.8,171.2 521.8,171.7 521.8,172.2 521.8,172.6 521.8,172.6 521.8,172.2 521.8,171.7 521.8,171.2 521.8,170.7 521.8,170.2 521.8,169.7 521.8,169.2 521.8,168.7 521.8,168.2 521.8,167.7 521.7,167.2 521.6,166.7 521.5,166.2 521.4,165.7 521.3,165.2 521.0,164.7 520.8,164.2 520.6,163.7 520.3,163.2 520.1,162.7 519.8,162.2 519.5,161.7 519.3,161.2 519.0,160.7 518.6,160.2 518.3,159.7 518.0,159.2 517.9,158.7 518.0,158.2 518.2,157.7 518.5,157.2 518.8,156.7 519.1,156.2 519.4,155.7 519.8,155.2 520.1,154.7 520.4,154.2 520.7,153.7 520.9,153.2 521.2,152.7 521.4,152.2 521.5,151.7 521.6,151.2 521.6,150.7 521.6,150.2 521.6,149.7 521.6,149.2 521.6,148.7 521.7,148.2 521.7,147.7 521.7,147.2 521.7,146.7 521.7,146.2 521.7,145.7 521.7,145.2 521.7,144.7 521.8,144.2 521.8,143.7 521.8,143.2 521.8,142.7 521.8,142.2" fill="#f78d8d" stroke="#b02626" stroke-width="1.0" stroke-linejoin="round"/><line x1="519.26" y1="156.00" x2="524.34" y2="156.00" stroke="#d04c4c" stroke-width="0.5" opacity="0.8"/><line x1="519.14" y1="161.00" x2="524.46" y2="161.00" stroke="#d04c4c" stroke-width="0.5" opacity="0.8"/><line x1="518.00" y1="158.10" x2="525.60" y2="158.10" stroke="#f01010" stroke-width="1.2"/><polygon points="535.4,132.3 535.4,132.8 535.4,133.3 535.4,133.8 535.4,134.3 535.4,134.8 535.5,135.3 535.5,135.8 535.5,136.3 535.5,136.8 535.5,137.3 535.5,137.8 535.5,138.3 535.5,138.8 535.5,139.3 535.5,139.8 535.5,140.3 535.5,140.8 535.5,141.3 535.6,141.8 535.6,142.3 535.6,142.8 535.6,143.3 535.6,143.8 535.6,144.3 535.6,144.8 535.6,145.3 535.6,145.8 535.6,146.3 535.6,146.8 535.6,147.3 535.6,147.8 535.7,148.3 535.8,148.8 535.9,149.3 536.0,149.8 536.1,150.3 536.2,150.8 536.3,151.3 536.5,151.8 536.6,152.3 536.7,152.8 536.8,153.3 537.0,153.8 537.2,154.3 537.3,154.8 537.5,155.3 537.6,155.8 537.8,156.3 537.9,156.8 538.1,157.3 538.2,157.8 538.4,158.3 538.6,158.8 538.7,159.3 538.9,159.8 539.0,160.3 539.2,160.8 539.3,161.3 539.3,161.8 539.4,162.3 539.4,162.8 539.4,163.3 539.3,163.8 539.3,164.3 539.2,164.8 539.1,165.3 539.0,165.8 538.9,166.3 538.8,166.8 538.6,167.3 538.3,167.8 538.0,168.3 537.8,168.8 537.5,169.3 537.2,169.8 536.9,170.3 536.6,170.8 536.3,171.3 536.0,171.8 535.7,172.3 535.4,172.8 535.4,173.3 535.4,173.4 535.4,173.4 535.4,173.3 535.4,172.8 535.1,172.3 534.8,171.8 534.5,171.3 534.2,170.8 533.9,170.3 533.6,169.8 533.3,169.3 533.0,168.8 532.8,168.3 532.5,167.8 532.2,167.3 532.0,166.8 531.9,166.3 531.8,165.8 531.7,165.3 531.6,164.8 531.5,164.3 531.5,163.8 531.4,163.3 531.4,162.8 531.4,162.3 531.5,161.8 531.5,161.3 531.6,160.8 531.8,160.3 531.9,159.8 532.1,159.3 532.2,158.8 532.4,158.3 532.6,157.8 532.7,157.3 532.9,156.8 533.0,156.3 533.2,155.8 533.3,155.3 533.5,154.8 533.6,154.3 533.8,153.8 534.0,153.3 534.1,152.8 534.2,152.3 534.3,151.8 534.5,151.3 534.6,150.8 534.7,150.3 534.8,149.8 534.9,149.3 535.0,148.8 535.1,148.3 535.2,147.8 535.2,147.3 535.2,146.8 535.2,146.3 535.2,145.8 535.2,145.3 535.2,144.8 535.2,144.3 535.2,143.8 535.2,143.3 535.2,142.8 535.2,142.3 535.2,141.8 535.3,141.3 535.3,140.8 535.3,140.3 535.3,139.8 535.3,139.3 535.3,138.8 535.3,138.3 535.3,137.8 535.3,137.3 535.3,136.8 535.3,136.3 535.3,135.8 535.3,135.3 535.4,134.8 535.4,134.3 535.4,133.8 535.4,133.3 535.4,132.8 535.4,132.3" fill="#e190e3" stroke="#7a177b" stroke-width="1.0" stroke-linejoin="round"/><line x1="532.50" y1="158.00" x2="538.30" y2="158.00" stroke="#b050b2" stroke-width="0.5" opacity="0.8"/><line x1="532.12" y1="167.00" x2="538.68" y2="167.00" stroke="#b050b2" stroke-width="0.5" opacity="0.8"/><line x1="531.41" y1="163.00" x2="539.39" y2="163.00" stroke="#c010c0" stroke-width="1.2"/><text x="463.5" y="232.7" font-size="12.3" font-weight="bold" stroke="#000" stroke-width="0.6">M</text><text x="508.20" y="232.7" font-size="10" font-weight="bold" text-anchor="middle" stroke="#000" stroke-width="0.4" textLength="25.80" lengthAdjust="spacingAndGlyphs">OAS2</text><line x1="471.9" y1="259.8" x2="471.9" y2="331.7" stroke="#7a7a7a" stroke-width="0.9"/><line x1="469.29999999999995" y1="331.7" x2="545.0" y2="331.7" stroke="#7a7a7a" stroke-width="0.9"/><line x1="469.29999999999995" y1="259.80" x2="471.9" y2="259.80" stroke="#7a7a7a" stroke-width="0.9"/><text x="468.30" y="262.00" font-size="6.0" font-weight="bold" text-anchor="end" fill="#111" stroke="#111" stroke-width="0.3">15</text><line x1="469.29999999999995" y1="283.77" x2="471.9" y2="283.77" stroke="#7a7a7a" stroke-width="0.9"/><text x="468.30" y="285.97" font-size="6.0" font-weight="bold" text-anchor="end" fill="#111" stroke="#111" stroke-width="0.3">10</text><line x1="469.29999999999995" y1="307.73" x2="471.9" y2="307.73" stroke="#7a7a7a" stroke-width="0.9"/><text x="468.30" y="309.93" font-size="6.0" font-weight="bold" text-anchor="end" fill="#111" stroke="#111" stroke-width="0.3">5</text><line x1="469.29999999999995" y1="331.70" x2="471.9" y2="331.70" stroke="#7a7a7a" stroke-width="0.9"/><text x="468.30" y="333.90" font-size="6.0" font-weight="bold" text-anchor="end" fill="#111" stroke="#111" stroke-width="0.3">0</text><line x1="481" y1="331.7" x2="481" y2="334.09999999999997" stroke="#7a7a7a" stroke-width="0.9"/><line x1="494.6" y1="331.7" x2="494.6" y2="334.09999999999997" stroke="#7a7a7a" stroke-width="0.9"/><line x1="508.2" y1="331.7" x2="508.2" y2="334.09999999999997" stroke="#7a7a7a" stroke-width="0.9"/><line x1="521.8" y1="331.7" x2="521.8" y2="334.09999999999997" stroke="#7a7a7a" stroke-width="0.9"/><line x1="535.4" y1="331.7" x2="535.4" y2="334.09999999999997" stroke="#7a7a7a" stroke-width="0.9"/><text transform="translate(482.40,338.10) rotate(-45)" font-size="6.0" font-weight="bold" text-anchor="end" fill="#222" stroke="#222" stroke-width="0.2">Normal</text><text transform="translate(496.00,338.10) rotate(-45)" font-size="6.0" font-weight="bold" text-anchor="end" fill="#222" stroke="#222" stroke-width="0.2">LumA</text><text transform="translate(509.60,338.10) rotate(-45)" font-size="6.0" font-weight="bold" text-anchor="end" fill="#222" stroke="#222" stroke-width="0.2">LumB</text><text transform="translate(523.20,338.10) rotate(-45)" font-size="6.0" font-weight="bold" text-anchor="end" fill="#222" stroke="#222" stroke-width="0.2">Her2</text><text transform="translate(536.80,338.10) rotate(-45)" font-size="6.0" font-weight="bold" text-anchor="end" fill="#222" stroke="#222" stroke-width="0.2">Basal</text><text transform="translate(459.90,294.85) rotate(-90)" font-size="7.8" font-weight="bold" text-anchor="middle" fill="#111" stroke="#111" stroke-width="0.3" textLength="48.6" lengthAdjust="spacingAndGlyphs">log<tspan font-size="5.2" dy="1.6">2</tspan><tspan dy="-1.6">(TPM+1)</tspan></text><line x1="481" y1="261.9" x2="535.4" y2="261.9" stroke="#8c8c8c" stroke-width="0.9"/><rect x="505.52" y="258.60" width="5.35" height="1.5" fill="#2a2a2a" rx="0.4"/><line x1="481" y1="267.3" x2="508.2" y2="267.3" stroke="#8c8c8c" stroke-width="0.9"/><rect x="491.05" y="264.00" width="7.10" height="1.5" fill="#2a2a2a" rx="0.4"/><line x1="481" y1="272.2" x2="521.8" y2="272.2" stroke="#8c8c8c" stroke-width="0.9"/><rect x="497.85" y="268.90" width="7.10" height="1.5" fill="#2a2a2a" rx="0.4"/><line x1="481" y1="278.2" x2="493.1" y2="278.2" stroke="#8c8c8c" stroke-width="0.9"/><rect x="483.50" y="274.90" width="7.10" height="1.5" fill="#2a2a2a" rx="0.4"/><line x1="496.1" y1="278.2" x2="508.2" y2="278.2" stroke="#8c8c8c" stroke-width="0.9"/><rect x="500.35" y="274.90" width="3.60" height="1.5" fill="#2a2a2a" rx="0.4"/><polygon points="481.0,294.7 481.0,295.2 481.0,295.7 481.0,296.2 481.1,296.7 481.1,297.2 481.1,297.7 481.1,298.2 481.2,298.7 481.2,299.2 481.2,299.7 481.2,300.2 481.3,300.7 481.4,301.2 481.5,301.7 481.7,302.2 481.8,302.7 482.0,303.2 482.2,303.7 482.4,304.2 482.6,304.7 482.8,305.2 483.0,305.7 483.3,306.2 483.5,306.7 483.7,307.2 483.9,307.7 484.1,308.2 484.3,308.7 484.4,309.2 484.6,309.7 484.7,310.2 484.8,310.7 484.8,311.2 484.7,311.7 484.6,312.2 484.4,312.7 484.2,313.2 484.0,313.7 483.7,314.2 483.4,314.7 483.1,315.2 482.8,315.7 482.5,316.2 482.2,316.7 481.9,317.2 481.7,317.7 481.5,318.2 481.4,318.7 481.3,319.2 481.2,319.7 481.2,320.2 481.2,320.7 481.2,321.2 481.2,321.7 481.2,322.2 481.2,322.7 481.2,323.2 481.1,323.7 481.0,324.0 481.0,324.0 480.9,323.7 480.8,323.2 480.8,322.7 480.8,322.2 480.8,321.7 480.8,321.2 480.8,320.7 480.8,320.2 480.8,319.7 480.7,319.2 480.6,318.7 480.5,318.2 480.3,317.7 480.1,317.2 479.8,316.7 479.5,316.2 479.2,315.7 478.9,315.2 478.6,314.7 478.3,314.2 478.0,313.7 477.8,313.2 477.6,312.7 477.4,312.2 477.3,311.7 477.2,311.2 477.2,310.7 477.3,310.2 477.4,309.7 477.6,309.2 477.7,308.7 477.9,308.2 478.1,307.7 478.3,307.2 478.5,306.7 478.7,306.2 479.0,305.7 479.2,305.2 479.4,304.7 479.6,304.2 479.8,303.7 480.0,303.2 480.2,302.7 480.3,302.2 480.5,301.7 480.6,301.2 480.7,300.7 480.8,300.2 480.8,299.7 480.8,299.2 480.8,298.7 480.9,298.2 480.9,297.7 480.9,297.2 480.9,296.7 481.0,296.2 481.0,295.7 481.0,295.2 481.0,294.7" fill="#9bd487" stroke="#3a7a2c" stroke-width="1.0" stroke-linejoin="round"/><line x1="477.81" y1="308.50" x2="484.19" y2="308.50" stroke="#5f9f4d" stroke-width="0.5" opacity="0.8"/><line x1="477.90" y1="313.50" x2="484.10" y2="313.50" stroke="#5f9f4d" stroke-width="0.5" opacity="0.8"/><line x1="477.21" y1="310.90" x2="484.79" y2="310.90" stroke="#3db03a" stroke-width="1.2"/><polygon points="494.6,282.7 494.6,283.2 494.6,283.7 494.6,284.2 494.7,284.7 494.7,285.2 494.7,285.7 494.7,286.2 494.7,286.7 494.7,287.2 494.8,287.7 494.8,288.2 494.8,288.7 494.8,289.2 494.8,289.7 494.8,290.2 494.9,290.7 495.0,291.2 495.1,291.7 495.3,292.2 495.5,292.7 495.6,293.2 495.8,293.7 495.9,294.2 496.0,294.7 496.2,295.2 496.3,295.7 496.4,296.2 496.6,296.7 496.7,297.2 496.9,297.7 497.0,298.2 497.1,298.7 497.3,299.2 497.4,299.7 497.5,300.2 497.7,300.7 497.8,301.2 498.0,301.7 498.1,302.2 498.3,302.7 498.4,303.2 498.5,303.7 498.6,304.2 498.6,304.7 498.6,305.2 498.6,305.7 498.5,306.2 498.4,306.7 498.2,307.2 498.1,307.7 497.9,308.2 497.8,308.7 497.6,309.2 497.5,309.7 497.3,310.2 497.1,310.7 496.9,311.2 496.7,311.7 496.5,312.2 496.3,312.7 496.1,313.2 496.0,313.7 495.8,314.2 495.7,314.7 495.5,315.2 495.4,315.7 495.2,316.2 495.1,316.7 495.0,317.2 495.0,317.7 494.9,318.2 494.9,318.7 494.9,319.2 494.8,319.7 494.8,320.2 494.7,320.7 494.7,321.2 494.7,321.7 494.6,322.2 494.6,322.7 494.6,323.2 494.6,323.7 494.6,324.2 494.6,324.7 494.6,325.2 494.6,325.7 494.6,326.2 494.6,326.7 494.6,327.2 494.6,327.7 494.6,327.8 494.6,327.8 494.6,327.7 494.6,327.2 494.6,326.7 494.6,326.2 494.6,325.7 494.6,325.2 494.6,324.7 494.6,324.2 494.6,323.7 494.6,323.2 494.6,322.7 494.6,322.2 494.5,321.7 494.5,321.2 494.5,320.7 494.4,320.2 494.4,319.7 494.3,319.2 494.3,318.7 494.3,318.2 494.2,317.7 494.2,317.2 494.1,316.7 494.0,316.2 493.8,315.7 493.7,315.2 493.5,314.7 493.4,314.2 493.2,313.7 493.1,313.2 492.9,312.7 492.7,312.2 492.5,311.7 492.3,311.2 492.1,310.7 491.9,310.2 491.7,309.7 491.6,309.2 491.4,308.7 491.3,308.2 491.1,307.7 491.0,307.2 490.8,306.7 490.7,306.2 490.6,305.7 490.6,305.2 490.6,304.7 490.6,304.2 490.7,303.7 490.8,303.2 490.9,302.7 491.1,302.2 491.2,301.7 491.4,301.2 491.5,300.7 491.7,300.2 491.8,299.7 491.9,299.2 492.1,298.7 492.2,298.2 492.3,297.7 492.5,297.2 492.6,296.7 492.8,296.2 492.9,295.7 493.0,295.2 493.2,294.7 493.3,294.2 493.4,293.7 493.6,293.2 493.7,292.7 493.9,292.2 494.1,291.7 494.2,291.2 494.3,290.7 494.4,290.2 494.4,289.7 494.4,289.2 494.4,288.7 494.4,288.2 494.4,287.7 494.5,287.2 494.5,286.7 494.5,286.2 494.5,285.7 494.5,285.2 494.5,284.7 494.6,284.2 494.6,283.7 494.6,283.2 494.6,282.7" fill="#3bbaee" stroke="#15729f" stroke-width="1.0" stroke-linejoin="round"/><line x1="491.26" y1="301.50" x2="497.94" y2="301.50" stroke="#2a8fc5" stroke-width="0.5" opacity="0.8"/><line x1="492.03" y1="310.50" x2="497.17" y2="310.50" stroke="#2a8fc5" stroke-width="0.5" opacity="0.8"/><line x1="490.69" y1="306.00" x2="498.51" y2="306.00" stroke="#1a8fd0" stroke-width="1.2"/><polygon points="508.2,282.0 508.2,282.5 508.2,283.0 508.2,283.5 508.3,284.0 508.3,284.5 508.4,285.0 508.4,285.5 508.4,286.0 508.5,286.5 508.6,287.0 508.8,287.5 509.0,288.0 509.1,288.5 509.3,289.0 509.4,289.5 509.6,290.0 509.7,290.5 509.8,291.0 509.9,291.5 510.1,292.0 510.2,292.5 510.3,293.0 510.4,293.5 510.5,294.0 510.7,294.5 510.8,295.0 510.9,295.5 511.0,296.0 511.1,296.5 511.2,297.0 511.3,297.5 511.4,298.0 511.5,298.5 511.6,299.0 511.7,299.5 511.8,300.0 511.9,300.5 512.0,301.0 512.0,301.5 512.1,302.0 512.1,302.5 512.1,303.0 511.9,303.5 511.8,304.0 511.6,304.5 511.5,305.0 511.3,305.5 511.3,306.0 511.3,306.5 511.4,307.0 511.4,307.5 511.5,308.0 511.6,308.5 511.6,309.0 511.5,309.5 511.4,310.0 511.2,310.5 510.9,311.0 510.6,311.5 510.3,312.0 510.0,312.5 509.8,313.0 509.6,313.5 509.4,314.0 509.2,314.5 509.0,315.0 508.8,315.5 508.7,316.0 508.6,316.5 508.5,317.0 508.5,317.5 508.5,318.0 508.4,318.5 508.4,319.0 508.4,319.5 508.3,320.0 508.2,320.5 508.2,321.0 508.2,321.5 508.2,322.0 508.2,322.5 508.2,323.0 508.2,323.5 508.2,324.0 508.2,324.3 508.2,324.3 508.2,324.0 508.2,323.5 508.2,323.0 508.2,322.5 508.2,322.0 508.2,321.5 508.2,321.0 508.2,320.5 508.1,320.0 508.0,319.5 508.0,319.0 508.0,318.5 507.9,318.0 507.9,317.5 507.9,317.0 507.8,316.5 507.7,316.0 507.6,315.5 507.4,315.0 507.2,314.5 507.0,314.0 506.8,313.5 506.6,313.0 506.4,312.5 506.1,312.0 505.8,311.5 505.5,311.0 505.2,310.5 505.0,310.0 504.9,309.5 504.8,309.0 504.8,308.5 504.9,308.0 504.9,307.5 505.0,307.0 505.1,306.5 505.1,306.0 505.1,305.5 504.9,305.0 504.8,304.5 504.6,304.0 504.5,303.5 504.3,303.0 504.3,302.5 504.3,302.0 504.4,301.5 504.4,301.0 504.5,300.5 504.6,300.0 504.7,299.5 504.8,299.0 504.9,298.5 505.0,298.0 505.1,297.5 505.2,297.0 505.3,296.5 505.4,296.0 505.5,295.5 505.6,295.0 505.7,294.5 505.9,294.0 506.0,293.5 506.1,293.0 506.2,292.5 506.3,292.0 506.5,291.5 506.6,291.0 506.7,290.5 506.8,290.0 507.0,289.5 507.1,289.0 507.3,288.5 507.4,288.0 507.6,287.5 507.8,287.0 507.9,286.5 508.0,286.0 508.0,285.5 508.0,285.0 508.1,284.5 508.1,284.0 508.2,283.5 508.2,283.0 508.2,282.5 508.2,282.0" fill="#fbd97b" stroke="#967818" stroke-width="1.0" stroke-linejoin="round"/><line x1="505.10" y1="297.50" x2="511.30" y2="297.50" stroke="#c09030" stroke-width="0.5" opacity="0.8"/><line x1="504.80" y1="309.00" x2="511.60" y2="309.00" stroke="#c09030" stroke-width="0.5" opacity="0.8"/><line x1="504.49" y1="303.60" x2="511.91" y2="303.60" stroke="#f5bd00" stroke-width="1.2"/><polygon points="521.8,283.5 521.8,284.0 521.8,284.5 521.8,285.0 521.9,285.5 521.9,286.0 521.9,286.5 521.9,287.0 521.9,287.5 521.9,288.0 521.9,288.5 522.0,289.0 522.0,289.5 522.0,290.0 522.0,290.5 522.0,291.0 522.0,291.5 522.0,292.0 522.0,292.5 522.1,293.0 522.2,293.5 522.3,294.0 522.5,294.5 522.6,295.0 522.8,295.5 522.9,296.0 523.0,296.5 523.2,297.0 523.4,297.5 523.5,298.0 523.7,298.5 523.9,299.0 524.1,299.5 524.2,300.0 524.4,300.5 524.6,301.0 524.7,301.5 524.9,302.0 525.1,302.5 525.3,303.0 525.5,303.5 525.6,304.0 525.7,304.5 525.8,305.0 525.8,305.5 525.8,306.0 525.7,306.5 525.6,307.0 525.4,307.5 525.2,308.0 525.0,308.5 524.8,309.0 524.6,309.5 524.4,310.0 524.2,310.5 524.0,311.0 523.8,311.5 523.6,312.0 523.4,312.5 523.2,313.0 523.1,313.5 522.9,314.0 522.8,314.5 522.6,315.0 522.5,315.5 522.3,316.0 522.2,316.5 522.2,317.0 522.1,317.5 522.1,318.0 522.1,318.5 522.0,319.0 522.0,319.5 522.0,320.0 522.0,320.5 521.9,321.0 521.9,321.5 521.9,322.0 521.8,322.5 521.8,323.0 521.8,323.5 521.8,324.0 521.8,324.5 521.8,325.0 521.8,325.5 521.8,326.0 521.8,326.5 521.8,327.0 521.8,327.1 521.8,327.1 521.8,327.0 521.8,326.5 521.8,326.0 521.8,325.5 521.8,325.0 521.8,324.5 521.8,324.0 521.8,323.5 521.8,323.0 521.8,322.5 521.7,322.0 521.7,321.5 521.7,321.0 521.6,320.5 521.6,320.0 521.6,319.5 521.6,319.0 521.5,318.5 521.5,318.0 521.5,317.5 521.4,317.0 521.4,316.5 521.3,316.0 521.1,315.5 521.0,315.0 520.8,314.5 520.7,314.0 520.5,313.5 520.4,313.0 520.2,312.5 520.0,312.0 519.8,311.5 519.6,311.0 519.4,310.5 519.2,310.0 519.0,309.5 518.8,309.0 518.6,308.5 518.4,308.0 518.2,307.5 518.0,307.0 517.9,306.5 517.8,306.0 517.8,305.5 517.8,305.0 517.9,304.5 518.0,304.0 518.1,303.5 518.3,303.0 518.5,302.5 518.7,302.0 518.9,301.5 519.0,301.0 519.2,300.5 519.4,300.0 519.5,299.5 519.7,299.0 519.9,298.5 520.1,298.0 520.2,297.5 520.4,297.0 520.6,296.5 520.7,296.0 520.8,295.5 521.0,295.0 521.1,294.5 521.3,294.0 521.4,293.5 521.5,293.0 521.6,292.5 521.6,292.0 521.6,291.5 521.6,291.0 521.6,290.5 521.6,290.0 521.6,289.5 521.6,289.0 521.7,288.5 521.7,288.0 521.7,287.5 521.7,287.0 521.7,286.5 521.7,286.0 521.7,285.5 521.8,285.0 521.8,284.5 521.8,284.0 521.8,283.5" fill="#f78d8d" stroke="#b02626" stroke-width="1.0" stroke-linejoin="round"/><line x1="518.86" y1="301.50" x2="524.74" y2="301.50" stroke="#d04c4c" stroke-width="0.5" opacity="0.8"/><line x1="519.02" y1="309.50" x2="524.58" y2="309.50" stroke="#d04c4c" stroke-width="0.5" opacity="0.8"/><line x1="517.81" y1="305.70" x2="525.79" y2="305.70" stroke="#f01010" stroke-width="1.2"/><polygon points="535.4,280.6 535.4,281.1 535.4,281.6 535.4,282.1 535.5,282.6 535.5,283.1 535.5,283.6 535.5,284.1 535.5,284.6 535.5,285.1 535.5,285.6 535.6,286.1 535.6,286.6 535.6,287.1 535.6,287.6 535.6,288.1 535.6,288.6 535.6,289.1 535.6,289.6 535.7,290.1 535.8,290.6 536.0,291.1 536.1,291.6 536.3,292.1 536.4,292.6 536.5,293.1 536.7,293.6 536.8,294.1 537.0,294.6 537.1,295.1 537.3,295.6 537.5,296.1 537.6,296.6 537.8,297.1 537.9,297.6 538.0,298.1 538.2,298.6 538.3,299.1 538.4,299.6 538.6,300.1 538.7,300.6 538.8,301.1 538.9,301.6 539.0,302.1 539.2,302.6 539.2,303.1 539.3,303.6 539.4,304.1 539.4,304.6 539.4,305.1 539.4,305.6 539.3,306.1 539.2,306.6 539.1,307.1 538.9,307.6 538.8,308.1 538.6,308.6 538.5,309.1 538.3,309.6 538.1,310.1 537.9,310.6 537.7,311.1 537.4,311.6 537.2,312.1 537.0,312.6 536.8,313.1 536.6,313.6 536.5,314.1 536.3,314.6 536.2,315.1 536.1,315.6 536.0,316.1 535.9,316.6 535.8,317.1 535.7,317.6 535.7,318.1 535.7,318.6 535.6,319.1 535.6,319.6 535.6,320.1 535.6,320.6 535.5,321.1 535.5,321.6 535.4,322.1 535.4,322.6 535.4,323.1 535.4,323.6 535.4,324.1 535.4,324.6 535.4,325.1 535.4,325.6 535.4,326.1 535.4,326.6 535.4,327.1 535.4,327.1 535.4,326.6 535.4,326.1 535.4,325.6 535.4,325.1 535.4,324.6 535.4,324.1 535.4,323.6 535.4,323.1 535.4,322.6 535.4,322.1 535.3,321.6 535.3,321.1 535.2,320.6 535.2,320.1 535.2,319.6 535.2,319.1 535.1,318.6 535.1,318.1 535.1,317.6 535.0,317.1 534.9,316.6 534.8,316.1 534.7,315.6 534.6,315.1 534.5,314.6 534.3,314.1 534.2,313.6 534.0,313.1 533.8,312.6 533.6,312.1 533.4,311.6 533.1,311.1 532.9,310.6 532.7,310.1 532.5,309.6 532.3,309.1 532.2,308.6 532.0,308.1 531.9,307.6 531.7,307.1 531.6,306.6 531.5,306.1 531.4,305.6 531.4,305.1 531.4,304.6 531.4,304.1 531.5,303.6 531.6,303.1 531.6,302.6 531.8,302.1 531.9,301.6 532.0,301.1 532.1,300.6 532.2,300.1 532.4,299.6 532.5,299.1 532.6,298.6 532.8,298.1 532.9,297.6 533.0,297.1 533.2,296.6 533.3,296.1 533.5,295.6 533.7,295.1 533.8,294.6 534.0,294.1 534.1,293.6 534.3,293.1 534.4,292.6 534.5,292.1 534.7,291.6 534.8,291.1 535.0,290.6 535.1,290.1 535.2,289.6 535.2,289.1 535.2,288.6 535.2,288.1 535.2,287.6 535.2,287.1 535.2,286.6 535.2,286.1 535.3,285.6 535.3,285.1 535.3,284.6 535.3,284.1 535.3,283.6 535.3,283.1 535.3,282.6 535.4,282.1 535.4,281.6 535.4,281.1 535.4,280.6" fill="#e190e3" stroke="#7a177b" stroke-width="1.0" stroke-linejoin="round"/><line x1="532.14" y1="300.50" x2="538.66" y2="300.50" stroke="#b050b2" stroke-width="0.5" opacity="0.8"/><line x1="532.46" y1="309.50" x2="538.34" y2="309.50" stroke="#b050b2" stroke-width="0.5" opacity="0.8"/><line x1="531.41" y1="305.30" x2="539.39" y2="305.30" stroke="#c010c0" stroke-width="1.2"/>
</svg></body></html>
